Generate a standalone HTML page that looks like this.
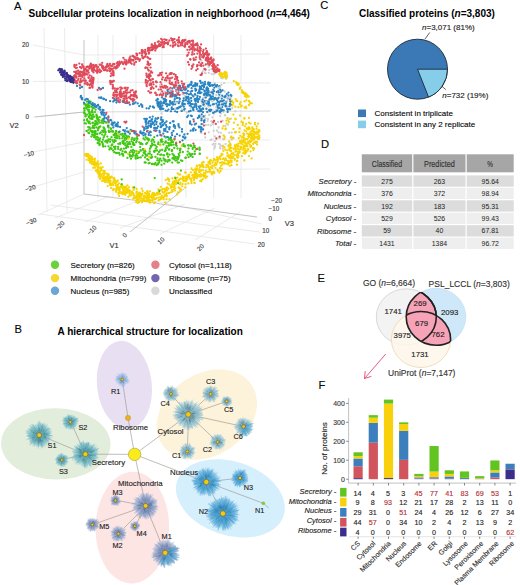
<!DOCTYPE html><html><head><meta charset="utf-8"><style>html,body{margin:0;padding:0;background:#fff;}svg{display:block;}text{font-family:"Liberation Sans",sans-serif;stroke:#222;stroke-width:0.22px;stroke-opacity:0.6;}text[font-weight="bold"],.ns text{stroke-width:0;}</style></head><body>
<svg width="520" height="585" viewBox="0 0 520 585" font-family="'Liberation Sans', sans-serif">
<defs><radialGradient id="gS"><stop offset="0" stop-color="#4f939d"/><stop offset="0.55" stop-color="#80bcc5"/><stop offset="1" stop-color="#b9dfe4" stop-opacity="0.6"/></radialGradient><radialGradient id="gR"><stop offset="0" stop-color="#86a6d4"/><stop offset="0.55" stop-color="#a6c4e6"/><stop offset="1" stop-color="#cfe0f2" stop-opacity="0.6"/></radialGradient><radialGradient id="gC"><stop offset="0" stop-color="#6f9ea8"/><stop offset="0.55" stop-color="#9fc6d2"/><stop offset="1" stop-color="#c8e2ea" stop-opacity="0.6"/></radialGradient><radialGradient id="gN"><stop offset="0" stop-color="#3a8cc2"/><stop offset="0.55" stop-color="#64afd9"/><stop offset="1" stop-color="#a6d4ec" stop-opacity="0.6"/></radialGradient><radialGradient id="gM"><stop offset="0" stop-color="#7a89ad"/><stop offset="0.55" stop-color="#9dadcc"/><stop offset="1" stop-color="#c9d3e6" stop-opacity="0.6"/></radialGradient></defs>
<rect width="520" height="585" fill="#fff"/>
<text x="14.0" y="9.5" font-size="11.2">A</text>
<text x="28.5" y="16.5" font-size="10" font-weight="bold">Subcellular proteins localization in neighborhood (<tspan font-style="italic">n</tspan>=4,464)</text>
<g stroke="#e6e6e6" stroke-width="0.8" fill="none">
<line x1="44" y1="28" x2="47" y2="212"/>
<line x1="64.5" y1="28" x2="67" y2="212"/>
<line x1="33" y1="45" x2="84" y2="55"/>
<line x1="33" y1="81.5" x2="84" y2="81"/>
<line x1="33" y1="117" x2="84" y2="112"/>
<line x1="33" y1="152" x2="84" y2="142"/>
<line x1="33" y1="187" x2="84" y2="172"/>
<line x1="84" y1="55" x2="270" y2="54"/>
<line x1="84" y1="82" x2="270" y2="83"/>
<line x1="84" y1="140" x2="270" y2="140"/>
<line x1="84" y1="170" x2="270" y2="169"/>
<line x1="98" y1="35" x2="98" y2="198"/>
<line x1="113" y1="35" x2="113" y2="198"/>
<line x1="136" y1="35" x2="136" y2="198"/>
<line x1="162" y1="35" x2="162" y2="198"/>
<line x1="186" y1="35" x2="186" y2="198"/>
<line x1="213.7" y1="35" x2="213.7" y2="198"/>
<line x1="241" y1="35" x2="241" y2="198"/>
<line x1="38" y1="215" x2="84" y2="194"/>
<line x1="55" y1="218" x2="110" y2="196"/>
<line x1="85" y1="222" x2="140" y2="200"/>
<line x1="120" y1="228" x2="185" y2="204"/>
<line x1="160" y1="234" x2="215" y2="208"/>
<line x1="195" y1="240" x2="240" y2="212"/>
<line x1="40" y1="214" x2="255" y2="244"/>
<line x1="50" y1="205" x2="260" y2="232"/>
<line x1="150" y1="200" x2="262" y2="224"/>
</g>
<g stroke="#b5b5b5" stroke-width="0.8" fill="none">
<line x1="84" y1="40" x2="84" y2="194"/>
<line x1="35" y1="117" x2="84" y2="112"/>
<line x1="84" y1="112" x2="270" y2="111" stroke="#cfcfcf"/>
<line x1="84" y1="194" x2="157" y2="203"/>
<line x1="157" y1="203.5" x2="257" y2="217"/>
<line x1="130" y1="232" x2="184" y2="189"/>
</g>
<g font-size="6.3" fill="#444">
<text x="29" y="47.3" text-anchor="end">20</text>
<text x="29" y="83.8" text-anchor="end">10</text>
<text x="29" y="119.3" text-anchor="end">0</text>
<text x="34.5" y="154.8" text-anchor="end" transform="rotate(-14 34.5 154.8)">−10</text>
<text x="36" y="188.8" text-anchor="end" transform="rotate(-16 36 188.8)">−20</text>
<text x="37" y="221.5" text-anchor="end" transform="rotate(-22 37 221.5)">−30</text>
<text x="65" y="223.5" text-anchor="end" transform="rotate(-45 65 223.5)">−20</text>
<text x="97" y="228" text-anchor="end" transform="rotate(-45 97 228)">−10</text>
<text x="127.5" y="235.5" text-anchor="end" transform="rotate(-45 127.5 235.5)">0</text>
<text x="165" y="239.8" text-anchor="end" transform="rotate(-45 165 239.8)">10</text>
<text x="204.5" y="246.5" text-anchor="end" transform="rotate(-45 204.5 246.5)">20</text>
<text x="282" y="202.5" text-anchor="end">−20</text>
<text x="279.2" y="211" text-anchor="end">−10</text>
<text x="272" y="220.8" text-anchor="end">0</text>
<text x="269.3" y="233" text-anchor="end">10</text>
<text x="264.8" y="246.8" text-anchor="end">20</text>
</g>
<text x="9.5" y="128.0" font-size="7.5" fill="#333">V2</text>
<text x="109.5" y="247.5" font-size="7.5" fill="#333">V1</text>
<text x="284.8" y="225.5" font-size="7.5" fill="#333">V3</text>
<g fill="#cfcfcf">
<circle cx="211.3" cy="97.7" r="1.15"/><circle cx="219.4" cy="111.4" r="1.15"/><circle cx="201.2" cy="120.5" r="1.15"/><circle cx="200.4" cy="115.8" r="1.15"/><circle cx="215.1" cy="140.9" r="1.15"/><circle cx="203.7" cy="102.3" r="1.15"/><circle cx="222.8" cy="148.7" r="1.15"/><circle cx="220.9" cy="113.4" r="1.15"/><circle cx="204.5" cy="95.5" r="1.15"/><circle cx="210.7" cy="140.2" r="1.15"/><circle cx="205.9" cy="125.2" r="1.15"/><circle cx="223.3" cy="111.8" r="1.15"/><circle cx="219.8" cy="92.0" r="1.15"/><circle cx="201.3" cy="101.2" r="1.15"/><circle cx="224.9" cy="115.4" r="1.15"/><circle cx="210.9" cy="125.5" r="1.15"/><circle cx="216.2" cy="107.2" r="1.15"/><circle cx="229.2" cy="132.7" r="1.15"/><circle cx="208.3" cy="124.8" r="1.15"/><circle cx="219.0" cy="144.0" r="1.15"/><circle cx="226.7" cy="106.4" r="1.15"/><circle cx="214.9" cy="136.5" r="1.15"/><circle cx="204.8" cy="119.3" r="1.15"/><circle cx="200.5" cy="130.8" r="1.15"/><circle cx="228.1" cy="124.7" r="1.15"/><circle cx="232.3" cy="108.1" r="1.15"/><circle cx="225.4" cy="126.0" r="1.15"/><circle cx="217.0" cy="130.5" r="1.15"/><circle cx="201.3" cy="132.9" r="1.15"/><circle cx="230.2" cy="106.2" r="1.15"/><circle cx="213.7" cy="130.8" r="1.15"/><circle cx="199.9" cy="117.5" r="1.15"/><circle cx="205.4" cy="95.5" r="1.15"/><circle cx="203.9" cy="103.8" r="1.15"/><circle cx="213.9" cy="143.8" r="1.15"/><circle cx="202.1" cy="116.7" r="1.15"/><circle cx="219.9" cy="144.5" r="1.15"/><circle cx="230.1" cy="143.3" r="1.15"/><circle cx="209.6" cy="114.6" r="1.15"/><circle cx="212.6" cy="144.6" r="1.15"/><circle cx="205.7" cy="102.8" r="1.15"/><circle cx="207.9" cy="119.0" r="1.15"/><circle cx="221.4" cy="104.8" r="1.15"/><circle cx="213.0" cy="124.2" r="1.15"/><circle cx="235.2" cy="132.2" r="1.15"/><circle cx="218.6" cy="127.5" r="1.15"/><circle cx="224.7" cy="91.5" r="1.15"/><circle cx="233.2" cy="137.9" r="1.15"/><circle cx="232.2" cy="139.1" r="1.15"/><circle cx="213.9" cy="113.5" r="1.15"/><circle cx="202.9" cy="128.6" r="1.15"/><circle cx="211.9" cy="91.4" r="1.15"/><circle cx="208.6" cy="110.2" r="1.15"/><circle cx="212.8" cy="95.9" r="1.15"/><circle cx="230.5" cy="98.3" r="1.15"/><circle cx="219.1" cy="97.4" r="1.15"/><circle cx="219.6" cy="89.7" r="1.15"/><circle cx="231.8" cy="132.6" r="1.15"/><circle cx="208.9" cy="111.5" r="1.15"/><circle cx="205.3" cy="137.4" r="1.15"/><circle cx="219.2" cy="137.9" r="1.15"/><circle cx="231.4" cy="139.6" r="1.15"/><circle cx="207.6" cy="121.1" r="1.15"/><circle cx="200.1" cy="105.9" r="1.15"/><circle cx="208.8" cy="132.3" r="1.15"/><circle cx="235.3" cy="111.3" r="1.15"/><circle cx="207.4" cy="102.5" r="1.15"/><circle cx="206.5" cy="101.1" r="1.15"/><circle cx="222.7" cy="145.6" r="1.15"/><circle cx="230.9" cy="118.7" r="1.15"/><circle cx="223.8" cy="139.2" r="1.15"/><circle cx="202.2" cy="130.3" r="1.15"/><circle cx="233.6" cy="138.1" r="1.15"/><circle cx="227.5" cy="118.6" r="1.15"/><circle cx="211.6" cy="139.3" r="1.15"/><circle cx="214.3" cy="148.6" r="1.15"/><circle cx="203.8" cy="97.7" r="1.15"/><circle cx="212.3" cy="123.1" r="1.15"/><circle cx="215.5" cy="143.8" r="1.15"/><circle cx="230.4" cy="101.5" r="1.15"/><circle cx="208.6" cy="106.7" r="1.15"/><circle cx="208.9" cy="114.8" r="1.15"/><circle cx="212.4" cy="117.3" r="1.15"/><circle cx="221.2" cy="145.9" r="1.15"/><circle cx="215.0" cy="146.7" r="1.15"/><circle cx="218.1" cy="122.0" r="1.15"/><circle cx="218.9" cy="89.2" r="1.15"/><circle cx="205.5" cy="118.3" r="1.15"/><circle cx="211.4" cy="121.2" r="1.15"/><circle cx="220.1" cy="138.2" r="1.15"/><circle cx="203.0" cy="123.9" r="1.15"/><circle cx="208.4" cy="105.7" r="1.15"/><circle cx="228.3" cy="120.5" r="1.15"/><circle cx="218.5" cy="132.3" r="1.15"/><circle cx="225.6" cy="144.1" r="1.15"/><circle cx="220.3" cy="148.4" r="1.15"/><circle cx="230.9" cy="96.8" r="1.15"/><circle cx="203.6" cy="116.3" r="1.15"/><circle cx="201.8" cy="103.4" r="1.15"/><circle cx="201.8" cy="130.8" r="1.15"/><circle cx="228.8" cy="145.4" r="1.15"/><circle cx="204.9" cy="133.8" r="1.15"/><circle cx="224.1" cy="97.2" r="1.15"/><circle cx="205.1" cy="115.6" r="1.15"/><circle cx="218.6" cy="109.7" r="1.15"/><circle cx="206.4" cy="108.4" r="1.15"/><circle cx="220.1" cy="116.2" r="1.15"/><circle cx="222.7" cy="120.8" r="1.15"/><circle cx="209.3" cy="96.3" r="1.15"/><circle cx="215.0" cy="146.3" r="1.15"/><circle cx="230.1" cy="104.6" r="1.15"/><circle cx="220.7" cy="132.8" r="1.15"/><circle cx="225.2" cy="115.2" r="1.15"/><circle cx="223.1" cy="139.3" r="1.15"/><circle cx="216.2" cy="109.7" r="1.15"/><circle cx="220.0" cy="147.3" r="1.15"/><circle cx="219.0" cy="103.3" r="1.15"/><circle cx="203.2" cy="98.3" r="1.15"/><circle cx="227.9" cy="106.6" r="1.15"/><circle cx="218.0" cy="99.4" r="1.15"/><circle cx="222.0" cy="75.4" r="1.15"/><circle cx="205.7" cy="73.3" r="1.15"/><circle cx="224.6" cy="72.1" r="1.15"/><circle cx="214.9" cy="83.4" r="1.15"/><circle cx="211.8" cy="74.2" r="1.15"/><circle cx="210.3" cy="83.3" r="1.15"/><circle cx="221.2" cy="77.8" r="1.15"/><circle cx="201.6" cy="63.6" r="1.15"/><circle cx="207.7" cy="64.6" r="1.15"/><circle cx="226.1" cy="78.8" r="1.15"/><circle cx="208.5" cy="66.8" r="1.15"/><circle cx="208.8" cy="72.9" r="1.15"/><circle cx="204.7" cy="72.5" r="1.15"/><circle cx="209.3" cy="70.0" r="1.15"/><circle cx="214.2" cy="74.1" r="1.15"/><circle cx="202.7" cy="71.2" r="1.15"/><circle cx="201.3" cy="60.6" r="1.15"/><circle cx="209.1" cy="66.5" r="1.15"/><circle cx="222.5" cy="78.4" r="1.15"/><circle cx="221.5" cy="84.6" r="1.15"/><circle cx="211.7" cy="69.1" r="1.15"/><circle cx="221.7" cy="78.0" r="1.15"/><circle cx="226.8" cy="77.6" r="1.15"/><circle cx="224.1" cy="83.1" r="1.15"/>
</g>
<g fill="#f7d300">
<circle cx="88.8" cy="160.3" r="1.15"/><circle cx="152.3" cy="200.8" r="1.15"/><circle cx="250.5" cy="132.0" r="1.15"/><circle cx="166.7" cy="196.3" r="1.15"/><circle cx="199.7" cy="175.3" r="1.15"/><circle cx="122.8" cy="186.3" r="1.15"/><circle cx="136.6" cy="188.9" r="1.15"/><circle cx="205.2" cy="176.9" r="1.15"/><circle cx="140.5" cy="196.1" r="1.15"/><circle cx="169.2" cy="181.1" r="1.15"/><circle cx="171.9" cy="190.2" r="1.15"/><circle cx="205.6" cy="178.1" r="1.15"/><circle cx="245.5" cy="150.4" r="1.15"/><circle cx="110.5" cy="185.0" r="1.15"/><circle cx="129.7" cy="192.2" r="1.15"/><circle cx="247.2" cy="133.6" r="1.15"/><circle cx="92.8" cy="162.5" r="1.15"/><circle cx="219.5" cy="157.9" r="1.15"/><circle cx="243.1" cy="141.2" r="1.15"/><circle cx="253.7" cy="138.2" r="1.15"/><circle cx="243.5" cy="135.8" r="1.15"/><circle cx="255.5" cy="137.3" r="1.15"/><circle cx="245.8" cy="139.2" r="1.15"/><circle cx="232.3" cy="157.6" r="1.15"/><circle cx="123.9" cy="187.9" r="1.15"/><circle cx="251.6" cy="158.4" r="1.15"/><circle cx="98.4" cy="169.9" r="1.15"/><circle cx="199.9" cy="167.1" r="1.15"/><circle cx="173.9" cy="187.1" r="1.15"/><circle cx="246.8" cy="128.3" r="1.15"/><circle cx="94.3" cy="159.2" r="1.15"/><circle cx="254.4" cy="134.6" r="1.15"/><circle cx="125.0" cy="192.4" r="1.15"/><circle cx="190.9" cy="180.0" r="1.15"/><circle cx="123.4" cy="192.0" r="1.15"/><circle cx="228.0" cy="160.9" r="1.15"/><circle cx="155.0" cy="198.8" r="1.15"/><circle cx="136.0" cy="196.6" r="1.15"/><circle cx="147.2" cy="191.2" r="1.15"/><circle cx="87.5" cy="154.1" r="1.15"/><circle cx="164.9" cy="191.3" r="1.15"/><circle cx="201.3" cy="180.2" r="1.15"/><circle cx="98.1" cy="172.8" r="1.15"/><circle cx="255.4" cy="142.8" r="1.15"/><circle cx="221.0" cy="155.9" r="1.15"/><circle cx="231.1" cy="150.9" r="1.15"/><circle cx="103.6" cy="172.0" r="1.15"/><circle cx="91.4" cy="161.1" r="1.15"/><circle cx="189.4" cy="176.8" r="1.15"/><circle cx="157.3" cy="194.7" r="1.15"/><circle cx="88.5" cy="158.3" r="1.15"/><circle cx="103.9" cy="175.3" r="1.15"/><circle cx="167.9" cy="178.3" r="1.15"/><circle cx="248.8" cy="137.5" r="1.15"/><circle cx="111.3" cy="185.1" r="1.15"/><circle cx="242.6" cy="142.7" r="1.15"/><circle cx="217.9" cy="158.9" r="1.15"/><circle cx="224.4" cy="147.4" r="1.15"/><circle cx="173.0" cy="187.0" r="1.15"/><circle cx="105.8" cy="181.8" r="1.15"/><circle cx="99.2" cy="174.0" r="1.15"/><circle cx="238.1" cy="148.8" r="1.15"/><circle cx="197.0" cy="176.5" r="1.15"/><circle cx="91.9" cy="158.0" r="1.15"/><circle cx="178.1" cy="192.3" r="1.15"/><circle cx="88.1" cy="154.1" r="1.15"/><circle cx="118.6" cy="187.3" r="1.15"/><circle cx="102.6" cy="178.2" r="1.15"/><circle cx="96.2" cy="170.9" r="1.15"/><circle cx="86.8" cy="156.2" r="1.15"/><circle cx="199.1" cy="175.2" r="1.15"/><circle cx="90.1" cy="162.8" r="1.15"/><circle cx="113.4" cy="185.1" r="1.15"/><circle cx="227.3" cy="153.2" r="1.15"/><circle cx="228.0" cy="164.3" r="1.15"/><circle cx="216.3" cy="163.3" r="1.15"/><circle cx="121.0" cy="187.1" r="1.15"/><circle cx="209.2" cy="171.6" r="1.15"/><circle cx="224.9" cy="160.0" r="1.15"/><circle cx="248.8" cy="134.0" r="1.15"/><circle cx="220.7" cy="170.8" r="1.15"/><circle cx="241.4" cy="147.4" r="1.15"/><circle cx="202.6" cy="174.8" r="1.15"/><circle cx="209.3" cy="169.1" r="1.15"/><circle cx="117.5" cy="187.3" r="1.15"/><circle cx="107.3" cy="176.3" r="1.15"/><circle cx="91.6" cy="156.7" r="1.15"/><circle cx="236.9" cy="164.7" r="1.15"/><circle cx="252.8" cy="148.1" r="1.15"/><circle cx="237.8" cy="156.8" r="1.15"/><circle cx="194.9" cy="172.4" r="1.15"/><circle cx="137.8" cy="194.6" r="1.15"/><circle cx="129.6" cy="195.2" r="1.15"/><circle cx="237.8" cy="153.9" r="1.15"/><circle cx="161.9" cy="195.8" r="1.15"/><circle cx="235.5" cy="145.7" r="1.15"/><circle cx="143.4" cy="199.9" r="1.15"/><circle cx="210.0" cy="170.0" r="1.15"/><circle cx="94.9" cy="167.8" r="1.15"/><circle cx="154.0" cy="195.9" r="1.15"/><circle cx="178.7" cy="187.5" r="1.15"/><circle cx="104.6" cy="180.7" r="1.15"/><circle cx="109.0" cy="181.1" r="1.15"/><circle cx="241.2" cy="147.9" r="1.15"/><circle cx="212.0" cy="172.6" r="1.15"/><circle cx="174.2" cy="183.7" r="1.15"/><circle cx="259.2" cy="135.4" r="1.15"/><circle cx="256.8" cy="131.9" r="1.15"/><circle cx="197.3" cy="174.5" r="1.15"/><circle cx="245.7" cy="145.6" r="1.15"/><circle cx="235.9" cy="151.2" r="1.15"/><circle cx="135.1" cy="198.1" r="1.15"/><circle cx="191.5" cy="168.5" r="1.15"/><circle cx="190.9" cy="172.3" r="1.15"/><circle cx="222.6" cy="162.3" r="1.15"/><circle cx="91.5" cy="161.5" r="1.15"/><circle cx="175.3" cy="188.3" r="1.15"/><circle cx="113.7" cy="189.1" r="1.15"/><circle cx="144.9" cy="196.5" r="1.15"/><circle cx="116.5" cy="188.8" r="1.15"/><circle cx="100.6" cy="176.7" r="1.15"/><circle cx="116.2" cy="191.8" r="1.15"/><circle cx="232.2" cy="158.3" r="1.15"/><circle cx="148.7" cy="195.9" r="1.15"/><circle cx="129.7" cy="192.1" r="1.15"/><circle cx="158.8" cy="197.3" r="1.15"/><circle cx="93.8" cy="163.5" r="1.15"/><circle cx="103.4" cy="180.1" r="1.15"/><circle cx="199.4" cy="169.5" r="1.15"/><circle cx="119.9" cy="191.3" r="1.15"/><circle cx="204.2" cy="176.7" r="1.15"/><circle cx="180.1" cy="191.1" r="1.15"/><circle cx="180.4" cy="178.8" r="1.15"/><circle cx="203.8" cy="176.1" r="1.15"/><circle cx="244.3" cy="134.5" r="1.15"/><circle cx="207.2" cy="176.6" r="1.15"/><circle cx="173.9" cy="187.0" r="1.15"/><circle cx="140.1" cy="198.6" r="1.15"/><circle cx="179.6" cy="188.4" r="1.15"/><circle cx="231.6" cy="153.5" r="1.15"/><circle cx="167.5" cy="179.3" r="1.15"/><circle cx="139.7" cy="193.6" r="1.15"/><circle cx="200.2" cy="180.9" r="1.15"/><circle cx="94.8" cy="161.1" r="1.15"/><circle cx="245.8" cy="143.3" r="1.15"/><circle cx="192.8" cy="175.0" r="1.15"/><circle cx="114.2" cy="177.9" r="1.15"/><circle cx="199.4" cy="171.5" r="1.15"/><circle cx="133.5" cy="194.4" r="1.15"/><circle cx="201.5" cy="181.3" r="1.15"/><circle cx="230.5" cy="158.1" r="1.15"/><circle cx="89.4" cy="155.6" r="1.15"/><circle cx="154.1" cy="193.3" r="1.15"/><circle cx="107.9" cy="178.2" r="1.15"/><circle cx="210.4" cy="163.9" r="1.15"/><circle cx="214.0" cy="172.0" r="1.15"/><circle cx="194.5" cy="172.4" r="1.15"/><circle cx="212.5" cy="165.8" r="1.15"/><circle cx="227.3" cy="150.4" r="1.15"/><circle cx="168.0" cy="188.7" r="1.15"/><circle cx="163.4" cy="197.7" r="1.15"/><circle cx="195.3" cy="176.3" r="1.15"/><circle cx="251.3" cy="141.3" r="1.15"/><circle cx="211.9" cy="174.4" r="1.15"/><circle cx="254.4" cy="132.1" r="1.15"/><circle cx="228.0" cy="155.7" r="1.15"/><circle cx="231.2" cy="160.8" r="1.15"/><circle cx="185.3" cy="187.5" r="1.15"/><circle cx="191.7" cy="178.4" r="1.15"/><circle cx="122.5" cy="194.0" r="1.15"/><circle cx="220.5" cy="159.2" r="1.15"/><circle cx="240.4" cy="146.9" r="1.15"/><circle cx="154.2" cy="199.0" r="1.15"/><circle cx="99.4" cy="171.9" r="1.15"/><circle cx="188.1" cy="177.0" r="1.15"/><circle cx="239.6" cy="152.3" r="1.15"/><circle cx="224.8" cy="163.7" r="1.15"/><circle cx="127.4" cy="185.4" r="1.15"/><circle cx="100.7" cy="163.5" r="1.15"/><circle cx="241.7" cy="142.3" r="1.15"/><circle cx="99.9" cy="175.0" r="1.15"/><circle cx="200.4" cy="165.8" r="1.15"/><circle cx="257.3" cy="136.6" r="1.15"/><circle cx="250.6" cy="151.3" r="1.15"/><circle cx="222.9" cy="159.1" r="1.15"/><circle cx="222.0" cy="168.6" r="1.15"/><circle cx="191.5" cy="183.1" r="1.15"/><circle cx="201.4" cy="165.4" r="1.15"/><circle cx="116.6" cy="189.5" r="1.15"/><circle cx="104.4" cy="178.7" r="1.15"/><circle cx="161.8" cy="189.8" r="1.15"/><circle cx="193.0" cy="170.1" r="1.15"/><circle cx="104.8" cy="179.0" r="1.15"/><circle cx="107.7" cy="178.4" r="1.15"/><circle cx="136.1" cy="202.0" r="1.15"/><circle cx="91.9" cy="164.1" r="1.15"/><circle cx="259.2" cy="130.2" r="1.15"/><circle cx="212.4" cy="162.5" r="1.15"/><circle cx="227.5" cy="156.0" r="1.15"/><circle cx="113.7" cy="181.3" r="1.15"/><circle cx="183.9" cy="177.1" r="1.15"/><circle cx="98.7" cy="164.7" r="1.15"/><circle cx="117.9" cy="180.6" r="1.15"/><circle cx="210.0" cy="161.8" r="1.15"/><circle cx="165.8" cy="180.1" r="1.15"/><circle cx="148.2" cy="199.5" r="1.15"/><circle cx="163.9" cy="196.7" r="1.15"/><circle cx="136.6" cy="196.1" r="1.15"/><circle cx="175.0" cy="177.7" r="1.15"/><circle cx="207.7" cy="164.8" r="1.15"/><circle cx="185.4" cy="180.4" r="1.15"/><circle cx="94.2" cy="159.6" r="1.15"/><circle cx="106.6" cy="176.8" r="1.15"/><circle cx="234.7" cy="159.8" r="1.15"/><circle cx="152.7" cy="199.9" r="1.15"/><circle cx="256.7" cy="137.6" r="1.15"/><circle cx="172.4" cy="178.3" r="1.15"/><circle cx="89.4" cy="157.9" r="1.15"/><circle cx="231.5" cy="161.0" r="1.15"/><circle cx="195.6" cy="168.3" r="1.15"/><circle cx="248.3" cy="136.4" r="1.15"/><circle cx="252.9" cy="138.1" r="1.15"/><circle cx="175.9" cy="180.6" r="1.15"/><circle cx="131.6" cy="193.6" r="1.15"/><circle cx="233.3" cy="152.9" r="1.15"/><circle cx="136.4" cy="193.1" r="1.15"/><circle cx="88.5" cy="155.5" r="1.15"/><circle cx="182.9" cy="180.0" r="1.15"/><circle cx="109.1" cy="178.0" r="1.15"/><circle cx="96.5" cy="163.3" r="1.15"/><circle cx="255.1" cy="137.7" r="1.15"/><circle cx="216.5" cy="164.6" r="1.15"/><circle cx="226.7" cy="163.6" r="1.15"/><circle cx="220.1" cy="162.9" r="1.15"/><circle cx="183.6" cy="179.7" r="1.15"/><circle cx="162.6" cy="191.9" r="1.15"/><circle cx="151.9" cy="197.8" r="1.15"/><circle cx="169.4" cy="184.5" r="1.15"/><circle cx="237.6" cy="157.0" r="1.15"/><circle cx="160.5" cy="199.4" r="1.15"/><circle cx="174.1" cy="185.1" r="1.15"/><circle cx="141.9" cy="202.3" r="1.15"/><circle cx="101.2" cy="168.1" r="1.15"/><circle cx="249.0" cy="134.8" r="1.15"/><circle cx="249.2" cy="127.6" r="1.15"/><circle cx="256.9" cy="133.8" r="1.15"/><circle cx="246.3" cy="151.8" r="1.15"/><circle cx="114.2" cy="179.3" r="1.15"/><circle cx="195.6" cy="173.8" r="1.15"/><circle cx="133.3" cy="198.4" r="1.15"/><circle cx="199.3" cy="165.1" r="1.15"/><circle cx="127.5" cy="188.6" r="1.15"/><circle cx="104.5" cy="172.0" r="1.15"/><circle cx="102.6" cy="167.2" r="1.15"/><circle cx="97.8" cy="161.4" r="1.15"/><circle cx="211.6" cy="166.7" r="1.15"/><circle cx="186.6" cy="180.2" r="1.15"/><circle cx="92.7" cy="162.3" r="1.15"/><circle cx="125.7" cy="187.4" r="1.15"/><circle cx="134.1" cy="198.4" r="1.15"/><circle cx="172.6" cy="191.5" r="1.15"/><circle cx="210.9" cy="160.3" r="1.15"/><circle cx="123.0" cy="188.2" r="1.15"/><circle cx="153.3" cy="194.9" r="1.15"/><circle cx="144.2" cy="195.7" r="1.15"/><circle cx="150.1" cy="202.7" r="1.15"/><circle cx="161.3" cy="189.8" r="1.15"/><circle cx="244.9" cy="146.3" r="1.15"/><circle cx="236.3" cy="144.7" r="1.15"/><circle cx="127.4" cy="192.7" r="1.15"/><circle cx="152.0" cy="194.8" r="1.15"/><circle cx="137.1" cy="198.7" r="1.15"/><circle cx="102.4" cy="176.8" r="1.15"/><circle cx="244.5" cy="151.6" r="1.15"/><circle cx="89.5" cy="158.3" r="1.15"/><circle cx="208.2" cy="166.2" r="1.15"/><circle cx="195.9" cy="173.8" r="1.15"/><circle cx="95.1" cy="158.6" r="1.15"/><circle cx="133.7" cy="194.9" r="1.15"/><circle cx="161.1" cy="197.4" r="1.15"/><circle cx="132.8" cy="187.5" r="1.15"/><circle cx="93.4" cy="162.0" r="1.15"/><circle cx="217.5" cy="162.1" r="1.15"/><circle cx="220.0" cy="168.3" r="1.15"/><circle cx="249.6" cy="141.2" r="1.15"/><circle cx="196.8" cy="176.3" r="1.15"/><circle cx="211.7" cy="172.1" r="1.15"/><circle cx="154.9" cy="194.2" r="1.15"/><circle cx="122.3" cy="185.9" r="1.15"/><circle cx="247.3" cy="139.2" r="1.15"/><circle cx="137.9" cy="200.7" r="1.15"/><circle cx="103.9" cy="171.1" r="1.15"/><circle cx="95.8" cy="163.2" r="1.15"/><circle cx="137.6" cy="196.6" r="1.15"/><circle cx="255.2" cy="133.0" r="1.15"/><circle cx="158.8" cy="193.0" r="1.15"/><circle cx="196.9" cy="178.1" r="1.15"/><circle cx="123.1" cy="189.9" r="1.15"/><circle cx="230.7" cy="155.0" r="1.15"/><circle cx="147.3" cy="200.2" r="1.15"/><circle cx="233.0" cy="156.8" r="1.15"/><circle cx="202.9" cy="165.4" r="1.15"/><circle cx="237.5" cy="157.8" r="1.15"/><circle cx="129.6" cy="193.2" r="1.15"/><circle cx="205.2" cy="176.5" r="1.15"/><circle cx="132.5" cy="192.9" r="1.15"/><circle cx="138.9" cy="196.3" r="1.15"/><circle cx="244.3" cy="160.5" r="1.15"/><circle cx="249.3" cy="136.0" r="1.15"/><circle cx="90.0" cy="157.8" r="1.15"/><circle cx="97.9" cy="167.5" r="1.15"/><circle cx="183.8" cy="181.2" r="1.15"/><circle cx="175.3" cy="182.6" r="1.15"/><circle cx="152.3" cy="194.2" r="1.15"/><circle cx="182.2" cy="186.3" r="1.15"/><circle cx="97.5" cy="172.5" r="1.15"/><circle cx="251.9" cy="136.3" r="1.15"/><circle cx="122.4" cy="188.1" r="1.15"/><circle cx="117.4" cy="185.6" r="1.15"/><circle cx="240.8" cy="148.9" r="1.15"/><circle cx="109.8" cy="180.7" r="1.15"/><circle cx="104.5" cy="171.1" r="1.15"/><circle cx="98.8" cy="173.8" r="1.15"/><circle cx="112.6" cy="184.4" r="1.15"/><circle cx="99.1" cy="174.5" r="1.15"/><circle cx="130.9" cy="195.5" r="1.15"/><circle cx="142.7" cy="191.1" r="1.15"/><circle cx="110.2" cy="183.6" r="1.15"/><circle cx="165.6" cy="189.0" r="1.15"/><circle cx="98.1" cy="166.6" r="1.15"/><circle cx="185.7" cy="172.7" r="1.15"/><circle cx="151.8" cy="197.1" r="1.15"/><circle cx="141.9" cy="188.7" r="1.15"/><circle cx="126.7" cy="189.5" r="1.15"/><circle cx="185.5" cy="184.2" r="1.15"/><circle cx="196.7" cy="174.9" r="1.15"/><circle cx="215.2" cy="162.6" r="1.15"/><circle cx="168.3" cy="188.8" r="1.15"/><circle cx="183.2" cy="178.2" r="1.15"/><circle cx="215.5" cy="167.8" r="1.15"/><circle cx="143.4" cy="198.5" r="1.15"/><circle cx="94.4" cy="165.6" r="1.15"/><circle cx="109.7" cy="178.6" r="1.15"/><circle cx="217.4" cy="169.6" r="1.15"/><circle cx="244.9" cy="153.5" r="1.15"/><circle cx="137.6" cy="197.5" r="1.15"/><circle cx="95.7" cy="163.0" r="1.15"/><circle cx="139.8" cy="195.7" r="1.15"/><circle cx="248.7" cy="142.7" r="1.15"/><circle cx="194.1" cy="178.5" r="1.15"/><circle cx="219.4" cy="156.8" r="1.15"/><circle cx="177.4" cy="181.6" r="1.15"/><circle cx="214.1" cy="159.0" r="1.15"/><circle cx="168.3" cy="193.2" r="1.15"/><circle cx="217.0" cy="157.3" r="1.15"/><circle cx="94.6" cy="164.1" r="1.15"/><circle cx="108.1" cy="174.5" r="1.15"/><circle cx="110.2" cy="177.9" r="1.15"/><circle cx="154.7" cy="202.4" r="1.15"/><circle cx="125.5" cy="192.6" r="1.15"/><circle cx="221.6" cy="162.4" r="1.15"/><circle cx="105.1" cy="182.0" r="1.15"/><circle cx="220.9" cy="165.8" r="1.15"/><circle cx="106.8" cy="180.6" r="1.15"/><circle cx="105.7" cy="180.0" r="1.15"/><circle cx="203.4" cy="162.3" r="1.15"/><circle cx="244.5" cy="130.4" r="1.15"/><circle cx="203.5" cy="162.0" r="1.15"/><circle cx="86.6" cy="159.8" r="1.15"/><circle cx="101.7" cy="174.9" r="1.15"/><circle cx="103.6" cy="180.6" r="1.15"/><circle cx="143.3" cy="199.1" r="1.15"/><circle cx="249.0" cy="156.1" r="1.15"/><circle cx="127.2" cy="189.6" r="1.15"/><circle cx="146.0" cy="193.8" r="1.15"/><circle cx="177.1" cy="182.3" r="1.15"/><circle cx="152.0" cy="195.5" r="1.15"/><circle cx="151.0" cy="196.3" r="1.15"/><circle cx="194.4" cy="182.8" r="1.15"/><circle cx="149.0" cy="196.5" r="1.15"/><circle cx="238.8" cy="138.2" r="1.15"/><circle cx="199.3" cy="172.2" r="1.15"/><circle cx="235.5" cy="151.7" r="1.15"/><circle cx="119.5" cy="189.7" r="1.15"/><circle cx="176.0" cy="184.1" r="1.15"/><circle cx="165.7" cy="195.7" r="1.15"/><circle cx="149.7" cy="200.4" r="1.15"/><circle cx="108.0" cy="178.2" r="1.15"/><circle cx="158.5" cy="189.4" r="1.15"/><circle cx="203.4" cy="167.1" r="1.15"/><circle cx="147.5" cy="196.6" r="1.15"/><circle cx="94.4" cy="162.7" r="1.15"/><circle cx="137.9" cy="193.6" r="1.15"/><circle cx="116.6" cy="182.2" r="1.15"/><circle cx="147.8" cy="192.4" r="1.15"/><circle cx="150.3" cy="200.5" r="1.15"/><circle cx="217.1" cy="159.5" r="1.15"/><circle cx="89.5" cy="158.1" r="1.15"/><circle cx="231.5" cy="147.8" r="1.15"/><circle cx="153.2" cy="193.2" r="1.15"/><circle cx="101.0" cy="170.1" r="1.15"/><circle cx="212.1" cy="168.2" r="1.15"/><circle cx="158.6" cy="200.3" r="1.15"/><circle cx="172.5" cy="184.2" r="1.15"/><circle cx="242.0" cy="156.2" r="1.15"/><circle cx="185.9" cy="178.4" r="1.15"/><circle cx="183.0" cy="177.9" r="1.15"/><circle cx="229.2" cy="162.9" r="1.15"/><circle cx="234.9" cy="145.3" r="1.15"/><circle cx="248.1" cy="143.2" r="1.15"/><circle cx="133.6" cy="190.0" r="1.15"/><circle cx="244.4" cy="142.3" r="1.15"/><circle cx="180.8" cy="178.7" r="1.15"/><circle cx="150.1" cy="200.1" r="1.15"/><circle cx="214.2" cy="165.6" r="1.15"/><circle cx="131.8" cy="191.6" r="1.15"/><circle cx="240.3" cy="135.8" r="1.15"/><circle cx="100.2" cy="168.0" r="1.15"/><circle cx="233.7" cy="149.1" r="1.15"/><circle cx="141.5" cy="198.7" r="1.15"/><circle cx="140.7" cy="196.8" r="1.15"/><circle cx="132.9" cy="193.2" r="1.15"/><circle cx="98.4" cy="171.5" r="1.15"/><circle cx="143.7" cy="196.7" r="1.15"/><circle cx="138.6" cy="202.3" r="1.15"/><circle cx="107.8" cy="175.3" r="1.15"/><circle cx="102.1" cy="174.1" r="1.15"/><circle cx="118.6" cy="192.6" r="1.15"/><circle cx="88.1" cy="156.0" r="1.15"/><circle cx="119.2" cy="189.7" r="1.15"/><circle cx="209.0" cy="161.9" r="1.15"/><circle cx="194.8" cy="177.3" r="1.15"/><circle cx="229.1" cy="157.5" r="1.15"/><circle cx="202.9" cy="165.4" r="1.15"/><circle cx="139.2" cy="201.8" r="1.15"/><circle cx="115.6" cy="183.1" r="1.15"/><circle cx="97.7" cy="170.9" r="1.15"/><circle cx="248.2" cy="149.0" r="1.15"/><circle cx="252.5" cy="137.2" r="1.15"/><circle cx="122.8" cy="193.1" r="1.15"/><circle cx="160.8" cy="186.8" r="1.15"/><circle cx="152.1" cy="197.5" r="1.15"/><circle cx="141.8" cy="194.6" r="1.15"/><circle cx="87.0" cy="155.0" r="1.15"/><circle cx="189.2" cy="174.6" r="1.15"/><circle cx="143.1" cy="200.1" r="1.15"/><circle cx="208.5" cy="167.2" r="1.15"/><circle cx="99.3" cy="176.4" r="1.15"/><circle cx="251.2" cy="137.6" r="1.15"/><circle cx="193.9" cy="180.0" r="1.15"/><circle cx="249.8" cy="128.8" r="1.15"/><circle cx="175.6" cy="180.2" r="1.15"/><circle cx="145.0" cy="197.5" r="1.15"/><circle cx="244.2" cy="146.3" r="1.15"/><circle cx="92.0" cy="163.3" r="1.15"/><circle cx="246.5" cy="150.8" r="1.15"/><circle cx="137.7" cy="196.7" r="1.15"/><circle cx="182.9" cy="176.7" r="1.15"/><circle cx="196.0" cy="170.1" r="1.15"/><circle cx="253.9" cy="131.9" r="1.15"/><circle cx="148.6" cy="201.5" r="1.15"/><circle cx="104.2" cy="177.3" r="1.15"/><circle cx="136.8" cy="191.6" r="1.15"/><circle cx="257.9" cy="136.8" r="1.15"/><circle cx="137.7" cy="195.6" r="1.15"/><circle cx="152.2" cy="198.5" r="1.15"/><circle cx="166.5" cy="199.2" r="1.15"/><circle cx="215.7" cy="160.1" r="1.15"/><circle cx="174.4" cy="181.2" r="1.15"/><circle cx="231.4" cy="156.8" r="1.15"/><circle cx="126.8" cy="191.6" r="1.15"/><circle cx="156.7" cy="198.0" r="1.15"/><circle cx="199.2" cy="176.6" r="1.15"/><circle cx="249.9" cy="140.6" r="1.15"/><circle cx="229.4" cy="156.8" r="1.15"/><circle cx="205.3" cy="175.5" r="1.15"/><circle cx="96.9" cy="163.1" r="1.15"/><circle cx="153.7" cy="198.1" r="1.15"/><circle cx="229.8" cy="165.8" r="1.15"/><circle cx="202.8" cy="179.1" r="1.15"/><circle cx="129.0" cy="187.3" r="1.15"/><circle cx="129.0" cy="190.1" r="1.15"/><circle cx="223.4" cy="150.9" r="1.15"/><circle cx="234.8" cy="155.2" r="1.15"/><circle cx="92.8" cy="163.6" r="1.15"/><circle cx="90.1" cy="161.5" r="1.15"/><circle cx="139.5" cy="197.3" r="1.15"/><circle cx="113.6" cy="189.4" r="1.15"/><circle cx="89.8" cy="158.9" r="1.15"/><circle cx="195.7" cy="174.5" r="1.15"/><circle cx="118.6" cy="190.2" r="1.15"/><circle cx="250.2" cy="135.0" r="1.15"/><circle cx="164.8" cy="194.6" r="1.15"/><circle cx="142.4" cy="193.7" r="1.15"/><circle cx="254.0" cy="139.6" r="1.15"/><circle cx="94.5" cy="164.4" r="1.15"/><circle cx="127.8" cy="190.0" r="1.15"/><circle cx="252.6" cy="128.6" r="1.15"/><circle cx="230.3" cy="161.0" r="1.15"/><circle cx="108.5" cy="178.3" r="1.15"/><circle cx="169.1" cy="192.8" r="1.15"/><circle cx="214.3" cy="173.1" r="1.15"/><circle cx="116.5" cy="187.2" r="1.15"/><circle cx="234.6" cy="158.7" r="1.15"/><circle cx="170.9" cy="192.3" r="1.15"/><circle cx="100.1" cy="171.6" r="1.15"/><circle cx="210.2" cy="160.5" r="1.15"/><circle cx="205.7" cy="172.9" r="1.15"/><circle cx="103.9" cy="178.3" r="1.15"/><circle cx="120.0" cy="193.1" r="1.15"/><circle cx="196.1" cy="173.3" r="1.15"/><circle cx="116.2" cy="190.2" r="1.15"/><circle cx="244.7" cy="141.8" r="1.15"/><circle cx="254.0" cy="134.8" r="1.15"/><circle cx="108.0" cy="182.3" r="1.15"/><circle cx="85.5" cy="154.1" r="1.15"/><circle cx="170.9" cy="186.6" r="1.15"/><circle cx="178.4" cy="180.7" r="1.15"/><circle cx="214.1" cy="159.3" r="1.15"/><circle cx="197.5" cy="169.3" r="1.15"/><circle cx="230.3" cy="144.2" r="1.15"/><circle cx="97.8" cy="164.2" r="1.15"/><circle cx="174.2" cy="182.3" r="1.15"/><circle cx="215.9" cy="164.4" r="1.15"/><circle cx="207.2" cy="157.8" r="1.15"/><circle cx="107.7" cy="186.1" r="1.15"/><circle cx="125.4" cy="189.4" r="1.15"/><circle cx="256.2" cy="132.3" r="1.15"/><circle cx="237.3" cy="160.8" r="1.15"/><circle cx="136.9" cy="199.6" r="1.15"/><circle cx="98.9" cy="172.8" r="1.15"/><circle cx="146.6" cy="198.4" r="1.15"/><circle cx="180.8" cy="189.4" r="1.15"/><circle cx="87.6" cy="154.7" r="1.15"/><circle cx="110.6" cy="180.8" r="1.15"/><circle cx="125.9" cy="187.0" r="1.15"/><circle cx="116.0" cy="185.2" r="1.15"/><circle cx="189.9" cy="178.6" r="1.15"/><circle cx="97.9" cy="163.6" r="1.15"/><circle cx="229.7" cy="150.1" r="1.15"/><circle cx="201.1" cy="165.3" r="1.15"/><circle cx="240.0" cy="141.2" r="1.15"/><circle cx="108.5" cy="174.4" r="1.15"/><circle cx="100.3" cy="179.0" r="1.15"/><circle cx="103.8" cy="177.9" r="1.15"/><circle cx="121.9" cy="192.9" r="1.15"/><circle cx="219.8" cy="158.4" r="1.15"/><circle cx="203.9" cy="175.1" r="1.15"/><circle cx="166.6" cy="195.2" r="1.15"/><circle cx="167.0" cy="187.5" r="1.15"/><circle cx="146.1" cy="197.7" r="1.15"/><circle cx="96.3" cy="165.9" r="1.15"/><circle cx="163.9" cy="192.3" r="1.15"/><circle cx="253.4" cy="131.4" r="1.15"/><circle cx="201.0" cy="174.6" r="1.15"/><circle cx="120.5" cy="187.0" r="1.15"/><circle cx="240.7" cy="142.6" r="1.15"/><circle cx="240.9" cy="142.0" r="1.15"/><circle cx="110.7" cy="184.7" r="1.15"/><circle cx="154.1" cy="203.3" r="1.15"/><circle cx="177.0" cy="194.4" r="1.15"/><circle cx="141.2" cy="200.6" r="1.15"/><circle cx="85.3" cy="155.5" r="1.15"/><circle cx="105.9" cy="177.5" r="1.15"/><circle cx="238.4" cy="143.6" r="1.15"/><circle cx="155.8" cy="198.9" r="1.15"/><circle cx="101.7" cy="170.2" r="1.15"/><circle cx="254.2" cy="135.9" r="1.15"/><circle cx="200.7" cy="174.5" r="1.15"/><circle cx="206.5" cy="165.2" r="1.15"/><circle cx="196.7" cy="165.7" r="1.15"/><circle cx="120.0" cy="187.8" r="1.15"/><circle cx="244.1" cy="145.6" r="1.15"/><circle cx="204.0" cy="175.6" r="1.15"/><circle cx="91.6" cy="159.4" r="1.15"/><circle cx="160.1" cy="193.9" r="1.15"/><circle cx="202.0" cy="162.9" r="1.15"/><circle cx="196.3" cy="169.5" r="1.15"/><circle cx="237.3" cy="155.0" r="1.15"/><circle cx="88.0" cy="156.4" r="1.15"/><circle cx="109.7" cy="182.5" r="1.15"/><circle cx="125.3" cy="194.8" r="1.15"/><circle cx="250.6" cy="134.3" r="1.15"/><circle cx="137.7" cy="194.6" r="1.15"/><circle cx="109.7" cy="177.0" r="1.15"/><circle cx="124.2" cy="193.4" r="1.15"/><circle cx="206.2" cy="167.4" r="1.15"/><circle cx="230.7" cy="161.3" r="1.15"/><circle cx="106.7" cy="173.6" r="1.15"/><circle cx="195.1" cy="169.8" r="1.15"/><circle cx="89.9" cy="160.0" r="1.15"/><circle cx="196.0" cy="172.5" r="1.15"/><circle cx="201.3" cy="170.5" r="1.15"/><circle cx="222.3" cy="164.7" r="1.15"/><circle cx="136.6" cy="196.8" r="1.15"/><circle cx="100.7" cy="167.7" r="1.15"/><circle cx="163.0" cy="188.8" r="1.15"/><circle cx="173.6" cy="183.7" r="1.15"/><circle cx="95.9" cy="165.0" r="1.15"/><circle cx="201.5" cy="166.4" r="1.15"/><circle cx="148.9" cy="194.4" r="1.15"/><circle cx="257.8" cy="133.8" r="1.15"/><circle cx="194.3" cy="176.1" r="1.15"/><circle cx="100.2" cy="168.0" r="1.15"/><circle cx="93.7" cy="161.9" r="1.15"/><circle cx="108.6" cy="180.2" r="1.15"/><circle cx="109.9" cy="182.5" r="1.15"/><circle cx="243.5" cy="147.3" r="1.15"/><circle cx="111.1" cy="187.9" r="1.15"/><circle cx="124.4" cy="191.6" r="1.15"/><circle cx="237.7" cy="151.6" r="1.15"/><circle cx="159.3" cy="199.6" r="1.15"/><circle cx="87.3" cy="156.0" r="1.15"/><circle cx="238.1" cy="157.2" r="1.15"/><circle cx="148.4" cy="196.3" r="1.15"/><circle cx="118.5" cy="193.9" r="1.15"/><circle cx="225.3" cy="149.7" r="1.15"/><circle cx="230.5" cy="147.6" r="1.15"/><circle cx="237.1" cy="156.1" r="1.15"/><circle cx="249.8" cy="142.0" r="1.15"/><circle cx="180.3" cy="184.4" r="1.15"/><circle cx="139.2" cy="192.6" r="1.15"/><circle cx="97.3" cy="163.5" r="1.15"/><circle cx="231.4" cy="165.2" r="1.15"/><circle cx="245.1" cy="148.7" r="1.15"/><circle cx="183.5" cy="178.5" r="1.15"/><circle cx="173.5" cy="182.1" r="1.15"/><circle cx="147.0" cy="195.6" r="1.15"/><circle cx="99.6" cy="177.5" r="1.15"/><circle cx="156.9" cy="192.9" r="1.15"/><circle cx="225.6" cy="158.5" r="1.15"/><circle cx="245.6" cy="153.2" r="1.15"/><circle cx="213.9" cy="172.5" r="1.15"/><circle cx="110.3" cy="184.8" r="1.15"/><circle cx="102.2" cy="181.2" r="1.15"/><circle cx="245.5" cy="143.4" r="1.15"/><circle cx="144.9" cy="200.4" r="1.15"/><circle cx="247.7" cy="150.7" r="1.15"/><circle cx="177.7" cy="173.5" r="1.15"/><circle cx="124.9" cy="190.9" r="1.15"/><circle cx="164.8" cy="189.1" r="1.15"/><circle cx="194.6" cy="182.9" r="1.15"/><circle cx="210.5" cy="167.3" r="1.15"/><circle cx="244.4" cy="140.6" r="1.15"/><circle cx="228.9" cy="161.9" r="1.15"/><circle cx="107.8" cy="179.5" r="1.15"/><circle cx="109.5" cy="178.4" r="1.15"/><circle cx="111.4" cy="176.6" r="1.15"/><circle cx="153.5" cy="195.4" r="1.15"/><circle cx="105.8" cy="179.7" r="1.15"/><circle cx="237.6" cy="154.6" r="1.15"/><circle cx="157.8" cy="192.6" r="1.15"/><circle cx="219.4" cy="172.4" r="1.15"/><circle cx="186.9" cy="178.8" r="1.15"/><circle cx="180.5" cy="182.6" r="1.15"/><circle cx="90.8" cy="157.3" r="1.15"/><circle cx="146.0" cy="201.2" r="1.15"/><circle cx="165.5" cy="188.6" r="1.15"/><circle cx="222.5" cy="154.5" r="1.15"/><circle cx="217.9" cy="170.9" r="1.15"/><circle cx="96.0" cy="170.3" r="1.15"/><circle cx="220.0" cy="168.2" r="1.15"/><circle cx="191.6" cy="181.3" r="1.15"/><circle cx="104.2" cy="171.9" r="1.15"/><circle cx="114.4" cy="179.9" r="1.15"/><circle cx="185.8" cy="181.1" r="1.15"/><circle cx="255.7" cy="141.9" r="1.15"/><circle cx="108.4" cy="175.3" r="1.15"/><circle cx="226.1" cy="160.2" r="1.15"/><circle cx="155.6" cy="195.1" r="1.15"/><circle cx="258.1" cy="139.0" r="1.15"/><circle cx="148.0" cy="198.4" r="1.15"/><circle cx="251.9" cy="130.4" r="1.15"/><circle cx="125.6" cy="193.3" r="1.15"/><circle cx="243.8" cy="139.4" r="1.15"/><circle cx="106.1" cy="177.1" r="1.15"/><circle cx="243.2" cy="137.2" r="1.15"/><circle cx="128.6" cy="191.0" r="1.15"/><circle cx="210.3" cy="160.6" r="1.15"/><circle cx="257.1" cy="144.5" r="1.15"/><circle cx="228.7" cy="155.4" r="1.15"/><circle cx="166.2" cy="189.5" r="1.15"/><circle cx="203.6" cy="167.1" r="1.15"/><circle cx="195.4" cy="172.2" r="1.15"/><circle cx="90.4" cy="160.3" r="1.15"/><circle cx="165.2" cy="190.7" r="1.15"/><circle cx="112.5" cy="182.8" r="1.15"/><circle cx="247.8" cy="141.8" r="1.15"/><circle cx="247.0" cy="145.8" r="1.15"/><circle cx="196.1" cy="177.1" r="1.15"/><circle cx="231.5" cy="162.3" r="1.15"/><circle cx="169.5" cy="199.5" r="1.15"/><circle cx="182.6" cy="183.9" r="1.15"/><circle cx="167.1" cy="190.4" r="1.15"/><circle cx="185.2" cy="172.4" r="1.15"/><circle cx="258.9" cy="138.9" r="1.15"/><circle cx="179.1" cy="180.0" r="1.15"/><circle cx="103.5" cy="173.4" r="1.15"/><circle cx="144.5" cy="200.6" r="1.15"/><circle cx="239.5" cy="151.5" r="1.15"/><circle cx="119.1" cy="196.1" r="1.15"/><circle cx="207.8" cy="171.9" r="1.15"/><circle cx="209.5" cy="163.3" r="1.15"/><circle cx="179.2" cy="174.5" r="1.15"/><circle cx="174.5" cy="186.2" r="1.15"/><circle cx="236.8" cy="161.1" r="1.15"/><circle cx="129.8" cy="190.7" r="1.15"/><circle cx="253.1" cy="128.9" r="1.15"/><circle cx="108.7" cy="177.8" r="1.15"/><circle cx="89.5" cy="155.6" r="1.15"/><circle cx="217.7" cy="160.7" r="1.15"/><circle cx="151.0" cy="197.0" r="1.15"/><circle cx="204.1" cy="173.2" r="1.15"/><circle cx="114.3" cy="179.4" r="1.15"/><circle cx="98.0" cy="167.4" r="1.15"/><circle cx="123.5" cy="187.9" r="1.15"/><circle cx="247.3" cy="146.4" r="1.15"/><circle cx="237.7" cy="156.1" r="1.15"/><circle cx="94.4" cy="163.5" r="1.15"/><circle cx="169.0" cy="179.5" r="1.15"/><circle cx="140.2" cy="193.5" r="1.15"/><circle cx="159.4" cy="194.2" r="1.15"/><circle cx="259.4" cy="131.4" r="1.15"/><circle cx="203.2" cy="170.3" r="1.15"/><circle cx="205.8" cy="171.0" r="1.15"/><circle cx="91.0" cy="162.1" r="1.15"/><circle cx="188.3" cy="183.4" r="1.15"/><circle cx="148.2" cy="199.2" r="1.15"/><circle cx="97.5" cy="169.5" r="1.15"/><circle cx="105.3" cy="180.3" r="1.15"/><circle cx="87.5" cy="154.6" r="1.15"/><circle cx="253.8" cy="129.5" r="1.15"/><circle cx="252.5" cy="133.8" r="1.15"/><circle cx="114.7" cy="183.0" r="1.15"/><circle cx="186.6" cy="177.5" r="1.15"/><circle cx="171.3" cy="185.7" r="1.15"/><circle cx="223.3" cy="163.1" r="1.15"/><circle cx="122.2" cy="192.1" r="1.15"/><circle cx="212.3" cy="173.2" r="1.15"/><circle cx="117.8" cy="184.9" r="1.15"/><circle cx="214.7" cy="165.0" r="1.15"/><circle cx="199.5" cy="172.1" r="1.15"/><circle cx="205.4" cy="176.6" r="1.15"/><circle cx="228.4" cy="162.8" r="1.15"/><circle cx="126.2" cy="192.5" r="1.15"/><circle cx="159.0" cy="193.1" r="1.15"/><circle cx="115.1" cy="180.5" r="1.15"/><circle cx="238.4" cy="156.5" r="1.15"/><circle cx="224.3" cy="162.5" r="1.15"/><circle cx="188.4" cy="175.5" r="1.15"/><circle cx="149.9" cy="191.4" r="1.15"/><circle cx="194.7" cy="173.9" r="1.15"/><circle cx="192.4" cy="175.3" r="1.15"/><circle cx="187.4" cy="179.1" r="1.15"/><circle cx="134.4" cy="196.5" r="1.15"/><circle cx="99.6" cy="175.6" r="1.15"/><circle cx="128.0" cy="191.5" r="1.15"/><circle cx="118.7" cy="188.2" r="1.15"/><circle cx="165.2" cy="202.3" r="1.15"/><circle cx="118.9" cy="183.3" r="1.15"/><circle cx="247.4" cy="129.0" r="1.15"/><circle cx="113.1" cy="190.1" r="1.15"/><circle cx="193.3" cy="177.0" r="1.15"/><circle cx="99.9" cy="173.4" r="1.15"/><circle cx="138.7" cy="199.3" r="1.15"/><circle cx="153.5" cy="193.8" r="1.15"/><circle cx="163.3" cy="192.6" r="1.15"/><circle cx="251.8" cy="135.8" r="1.15"/><circle cx="109.2" cy="181.8" r="1.15"/><circle cx="177.3" cy="177.7" r="1.15"/><circle cx="104.7" cy="173.7" r="1.15"/><circle cx="180.2" cy="174.6" r="1.15"/><circle cx="197.2" cy="166.7" r="1.15"/><circle cx="253.1" cy="144.0" r="1.15"/><circle cx="233.1" cy="154.6" r="1.15"/><circle cx="161.6" cy="197.4" r="1.15"/><circle cx="242.4" cy="144.4" r="1.15"/><circle cx="97.1" cy="163.5" r="1.15"/><circle cx="128.3" cy="196.8" r="1.15"/><circle cx="252.6" cy="130.9" r="1.15"/><circle cx="213.4" cy="160.6" r="1.15"/><circle cx="223.6" cy="158.4" r="1.15"/><circle cx="121.2" cy="185.0" r="1.15"/><circle cx="145.1" cy="192.9" r="1.15"/><circle cx="199.7" cy="170.1" r="1.15"/><circle cx="174.9" cy="190.6" r="1.15"/><circle cx="143.3" cy="200.8" r="1.15"/><circle cx="148.8" cy="198.0" r="1.15"/><circle cx="87.0" cy="154.1" r="1.15"/><circle cx="238.9" cy="152.8" r="1.15"/><circle cx="172.7" cy="183.5" r="1.15"/><circle cx="111.4" cy="184.1" r="1.15"/><circle cx="175.6" cy="180.6" r="1.15"/><circle cx="116.5" cy="181.4" r="1.15"/><circle cx="176.1" cy="180.6" r="1.15"/><circle cx="94.0" cy="164.3" r="1.15"/><circle cx="98.2" cy="171.7" r="1.15"/><circle cx="124.9" cy="187.0" r="1.15"/><circle cx="210.7" cy="172.4" r="1.15"/><circle cx="92.3" cy="159.4" r="1.15"/><circle cx="161.6" cy="198.6" r="1.15"/><circle cx="243.5" cy="147.8" r="1.15"/><circle cx="166.4" cy="193.5" r="1.15"/><circle cx="147.1" cy="201.0" r="1.15"/><circle cx="196.0" cy="177.8" r="1.15"/><circle cx="213.4" cy="171.8" r="1.15"/><circle cx="202.5" cy="175.6" r="1.15"/><circle cx="140.4" cy="194.9" r="1.15"/><circle cx="221.6" cy="153.9" r="1.15"/><circle cx="93.2" cy="167.7" r="1.15"/><circle cx="147.4" cy="193.5" r="1.15"/><circle cx="128.3" cy="191.1" r="1.15"/><circle cx="254.3" cy="142.5" r="1.15"/><circle cx="163.7" cy="199.3" r="1.15"/><circle cx="208.4" cy="162.3" r="1.15"/><circle cx="89.1" cy="157.9" r="1.15"/><circle cx="173.0" cy="182.0" r="1.15"/><circle cx="124.4" cy="189.1" r="1.15"/><circle cx="167.7" cy="183.7" r="1.15"/><circle cx="186.4" cy="176.7" r="1.15"/><circle cx="170.9" cy="187.8" r="1.15"/><circle cx="173.8" cy="189.3" r="1.15"/><circle cx="257.3" cy="132.7" r="1.15"/><circle cx="123.6" cy="193.7" r="1.15"/><circle cx="230.6" cy="158.5" r="1.15"/><circle cx="98.1" cy="171.3" r="1.15"/><circle cx="200.9" cy="176.6" r="1.15"/><circle cx="157.4" cy="193.7" r="1.15"/><circle cx="197.4" cy="169.6" r="1.15"/><circle cx="259.5" cy="137.3" r="1.15"/><circle cx="238.0" cy="145.4" r="1.15"/><circle cx="112.0" cy="177.6" r="1.15"/><circle cx="141.6" cy="194.9" r="1.15"/><circle cx="137.5" cy="202.9" r="1.15"/><circle cx="152.7" cy="193.5" r="1.15"/><circle cx="148.8" cy="193.6" r="1.15"/><circle cx="124.4" cy="187.9" r="1.15"/><circle cx="227.1" cy="76.1" r="1.15"/><circle cx="224.5" cy="77.0" r="1.15"/><circle cx="220.5" cy="74.8" r="1.15"/><circle cx="221.7" cy="73.7" r="1.15"/><circle cx="220.9" cy="76.2" r="1.15"/><circle cx="224.7" cy="76.7" r="1.15"/><circle cx="225.3" cy="75.3" r="1.15"/><circle cx="224.7" cy="73.1" r="1.15"/><circle cx="220.0" cy="73.2" r="1.15"/><circle cx="226.1" cy="78.0" r="1.15"/><circle cx="225.5" cy="75.8" r="1.15"/><circle cx="223.5" cy="74.2" r="1.15"/><circle cx="226.6" cy="73.0" r="1.15"/><circle cx="220.1" cy="75.5" r="1.15"/><circle cx="223.5" cy="76.8" r="1.15"/><circle cx="225.3" cy="71.9" r="1.15"/><circle cx="219.8" cy="74.1" r="1.15"/><circle cx="219.2" cy="74.3" r="1.15"/><circle cx="223.1" cy="77.3" r="1.15"/><circle cx="226.8" cy="75.2" r="1.15"/><circle cx="221.4" cy="72.9" r="1.15"/><circle cx="223.9" cy="73.7" r="1.15"/><circle cx="225.5" cy="74.5" r="1.15"/><circle cx="222.2" cy="75.4" r="1.15"/><circle cx="241.9" cy="92.3" r="1.15"/><circle cx="238.7" cy="84.5" r="1.15"/><circle cx="244.7" cy="94.4" r="1.15"/><circle cx="245.0" cy="96.2" r="1.15"/><circle cx="236.3" cy="82.1" r="1.15"/><circle cx="238.2" cy="83.4" r="1.15"/><circle cx="242.6" cy="92.6" r="1.15"/><circle cx="241.8" cy="90.3" r="1.15"/><circle cx="246.9" cy="94.7" r="1.15"/><circle cx="242.3" cy="91.0" r="1.15"/><circle cx="239.8" cy="88.8" r="1.15"/><circle cx="246.5" cy="97.3" r="1.15"/><circle cx="237.4" cy="84.9" r="1.15"/><circle cx="243.5" cy="93.2" r="1.15"/><circle cx="233.8" cy="81.1" r="1.15"/><circle cx="247.9" cy="96.0" r="1.15"/><circle cx="243.4" cy="92.2" r="1.15"/><circle cx="240.3" cy="87.3" r="1.15"/><circle cx="245.4" cy="94.1" r="1.15"/><circle cx="245.5" cy="93.4" r="1.15"/><circle cx="248.8" cy="96.6" r="1.15"/><circle cx="236.5" cy="83.3" r="1.15"/><circle cx="246.5" cy="95.6" r="1.15"/><circle cx="244.6" cy="93.2" r="1.15"/><circle cx="244.3" cy="93.3" r="1.15"/><circle cx="232.0" cy="105.3" r="1.15"/><circle cx="231.8" cy="100.7" r="1.15"/><circle cx="244.6" cy="107.6" r="1.15"/><circle cx="230.7" cy="101.7" r="1.15"/><circle cx="235.3" cy="106.7" r="1.15"/><circle cx="245.7" cy="106.6" r="1.15"/><circle cx="241.7" cy="105.7" r="1.15"/><circle cx="232.8" cy="102.2" r="1.15"/><circle cx="236.4" cy="101.1" r="1.15"/><circle cx="246.3" cy="100.4" r="1.15"/><circle cx="237.2" cy="101.1" r="1.15"/><circle cx="249.0" cy="105.0" r="1.15"/><circle cx="240.6" cy="102.2" r="1.15"/><circle cx="239.9" cy="104.2" r="1.15"/><circle cx="249.0" cy="100.8" r="1.15"/><circle cx="235.7" cy="99.1" r="1.15"/><circle cx="241.0" cy="106.5" r="1.15"/><circle cx="233.4" cy="102.8" r="1.15"/><circle cx="251.8" cy="103.3" r="1.15"/><circle cx="238.4" cy="107.2" r="1.15"/><circle cx="249.6" cy="102.1" r="1.15"/><circle cx="232.7" cy="105.0" r="1.15"/><circle cx="246.3" cy="108.2" r="1.15"/><circle cx="244.5" cy="101.4" r="1.15"/><circle cx="250.4" cy="103.3" r="1.15"/><circle cx="256.1" cy="142.2" r="1.15"/><circle cx="254.3" cy="132.2" r="1.15"/><circle cx="253.4" cy="150.1" r="1.15"/><circle cx="229.9" cy="147.1" r="1.15"/><circle cx="239.3" cy="132.1" r="1.15"/><circle cx="229.3" cy="149.2" r="1.15"/><circle cx="249.0" cy="117.9" r="1.15"/><circle cx="258.2" cy="123.7" r="1.15"/><circle cx="235.9" cy="132.2" r="1.15"/><circle cx="243.3" cy="153.2" r="1.15"/><circle cx="257.0" cy="141.9" r="1.15"/><circle cx="235.5" cy="118.7" r="1.15"/><circle cx="224.5" cy="136.8" r="1.15"/><circle cx="243.6" cy="133.7" r="1.15"/><circle cx="258.4" cy="132.2" r="1.15"/><circle cx="235.0" cy="132.4" r="1.15"/><circle cx="243.9" cy="137.9" r="1.15"/><circle cx="237.8" cy="125.0" r="1.15"/><circle cx="242.8" cy="123.1" r="1.15"/><circle cx="234.8" cy="148.4" r="1.15"/><circle cx="254.9" cy="124.4" r="1.15"/><circle cx="250.9" cy="133.4" r="1.15"/><circle cx="241.9" cy="137.4" r="1.15"/><circle cx="246.7" cy="144.3" r="1.15"/><circle cx="252.3" cy="127.3" r="1.15"/><circle cx="224.5" cy="138.3" r="1.15"/><circle cx="246.2" cy="123.9" r="1.15"/><circle cx="223.6" cy="135.4" r="1.15"/><circle cx="223.3" cy="146.4" r="1.15"/><circle cx="245.1" cy="126.3" r="1.15"/><circle cx="228.9" cy="122.0" r="1.15"/><circle cx="252.2" cy="133.9" r="1.15"/><circle cx="248.5" cy="129.3" r="1.15"/><circle cx="251.9" cy="140.2" r="1.15"/><circle cx="246.2" cy="131.3" r="1.15"/><circle cx="242.8" cy="122.4" r="1.15"/><circle cx="241.7" cy="142.1" r="1.15"/><circle cx="225.7" cy="128.7" r="1.15"/><circle cx="230.5" cy="151.1" r="1.15"/><circle cx="254.1" cy="148.4" r="1.15"/><circle cx="248.6" cy="127.3" r="1.15"/><circle cx="230.6" cy="145.0" r="1.15"/><circle cx="234.9" cy="147.5" r="1.15"/><circle cx="243.2" cy="149.9" r="1.15"/><circle cx="258.5" cy="130.7" r="1.15"/><circle cx="229.7" cy="148.5" r="1.15"/><circle cx="240.1" cy="115.6" r="1.15"/><circle cx="250.5" cy="123.6" r="1.15"/><circle cx="250.3" cy="142.0" r="1.15"/><circle cx="238.4" cy="146.2" r="1.15"/><circle cx="241.8" cy="140.3" r="1.15"/><circle cx="249.0" cy="122.7" r="1.15"/><circle cx="233.5" cy="129.1" r="1.15"/><circle cx="225.5" cy="129.3" r="1.15"/><circle cx="228.4" cy="146.2" r="1.15"/><circle cx="227.5" cy="118.2" r="1.15"/><circle cx="231.3" cy="136.7" r="1.15"/><circle cx="256.7" cy="126.5" r="1.15"/><circle cx="249.7" cy="144.6" r="1.15"/><circle cx="242.8" cy="125.2" r="1.15"/><circle cx="222.5" cy="128.5" r="1.15"/><circle cx="233.9" cy="122.7" r="1.15"/><circle cx="237.9" cy="153.5" r="1.15"/><circle cx="233.4" cy="114.6" r="1.15"/><circle cx="229.8" cy="119.1" r="1.15"/><circle cx="235.6" cy="119.3" r="1.15"/><circle cx="243.4" cy="133.6" r="1.15"/><circle cx="250.6" cy="145.9" r="1.15"/><circle cx="251.3" cy="138.7" r="1.15"/><circle cx="239.6" cy="128.5" r="1.15"/><circle cx="244.5" cy="118.3" r="1.15"/><circle cx="230.8" cy="137.6" r="1.15"/><circle cx="240.4" cy="143.3" r="1.15"/><circle cx="229.1" cy="141.6" r="1.15"/><circle cx="228.9" cy="145.3" r="1.15"/><circle cx="223.5" cy="126.1" r="1.15"/><circle cx="226.4" cy="120.6" r="1.15"/><circle cx="241.5" cy="121.7" r="1.15"/><circle cx="245.1" cy="151.9" r="1.15"/><circle cx="226.7" cy="123.6" r="1.15"/><circle cx="250.3" cy="134.7" r="1.15"/><circle cx="256.5" cy="128.9" r="1.15"/><circle cx="255.0" cy="122.8" r="1.15"/><circle cx="250.6" cy="147.0" r="1.15"/><circle cx="244.2" cy="118.4" r="1.15"/><circle cx="251.0" cy="145.8" r="1.15"/><circle cx="237.2" cy="147.0" r="1.15"/><circle cx="236.2" cy="149.3" r="1.15"/><circle cx="239.4" cy="149.7" r="1.15"/><circle cx="233.1" cy="138.0" r="1.15"/>
</g>
<g fill="#40c812">
<circle cx="140.8" cy="157.4" r="1.15"/><circle cx="140.4" cy="143.9" r="1.15"/><circle cx="128.5" cy="136.4" r="1.15"/><circle cx="84.7" cy="123.2" r="1.15"/><circle cx="116.2" cy="153.1" r="1.15"/><circle cx="160.8" cy="139.9" r="1.15"/><circle cx="173.6" cy="155.4" r="1.15"/><circle cx="187.9" cy="145.3" r="1.15"/><circle cx="125.3" cy="145.3" r="1.15"/><circle cx="176.2" cy="142.7" r="1.15"/><circle cx="149.9" cy="148.8" r="1.15"/><circle cx="177.7" cy="162.5" r="1.15"/><circle cx="158.1" cy="144.1" r="1.15"/><circle cx="89.5" cy="121.6" r="1.15"/><circle cx="115.6" cy="134.7" r="1.15"/><circle cx="99.7" cy="133.4" r="1.15"/><circle cx="99.7" cy="117.2" r="1.15"/><circle cx="133.0" cy="149.9" r="1.15"/><circle cx="137.2" cy="136.8" r="1.15"/><circle cx="168.9" cy="143.1" r="1.15"/><circle cx="95.6" cy="109.7" r="1.15"/><circle cx="99.5" cy="145.0" r="1.15"/><circle cx="133.9" cy="140.1" r="1.15"/><circle cx="175.7" cy="157.0" r="1.15"/><circle cx="151.5" cy="157.8" r="1.15"/><circle cx="117.6" cy="138.1" r="1.15"/><circle cx="107.3" cy="142.7" r="1.15"/><circle cx="145.3" cy="154.0" r="1.15"/><circle cx="119.0" cy="153.0" r="1.15"/><circle cx="110.1" cy="141.8" r="1.15"/><circle cx="85.9" cy="105.4" r="1.15"/><circle cx="95.6" cy="131.2" r="1.15"/><circle cx="84.6" cy="110.8" r="1.15"/><circle cx="161.1" cy="140.4" r="1.15"/><circle cx="108.2" cy="126.8" r="1.15"/><circle cx="108.5" cy="146.3" r="1.15"/><circle cx="103.0" cy="145.5" r="1.15"/><circle cx="156.7" cy="147.0" r="1.15"/><circle cx="190.2" cy="154.5" r="1.15"/><circle cx="174.4" cy="139.6" r="1.15"/><circle cx="122.9" cy="154.2" r="1.15"/><circle cx="164.1" cy="155.4" r="1.15"/><circle cx="129.8" cy="152.5" r="1.15"/><circle cx="173.2" cy="144.7" r="1.15"/><circle cx="131.7" cy="139.3" r="1.15"/><circle cx="165.8" cy="161.3" r="1.15"/><circle cx="93.2" cy="135.6" r="1.15"/><circle cx="188.5" cy="157.2" r="1.15"/><circle cx="122.6" cy="133.9" r="1.15"/><circle cx="109.1" cy="131.9" r="1.15"/><circle cx="116.9" cy="136.0" r="1.15"/><circle cx="89.7" cy="113.6" r="1.15"/><circle cx="114.9" cy="133.7" r="1.15"/><circle cx="103.1" cy="120.2" r="1.15"/><circle cx="110.2" cy="139.4" r="1.15"/><circle cx="95.6" cy="134.3" r="1.15"/><circle cx="172.1" cy="140.6" r="1.15"/><circle cx="167.2" cy="153.5" r="1.15"/><circle cx="89.6" cy="127.5" r="1.15"/><circle cx="116.2" cy="130.8" r="1.15"/><circle cx="172.0" cy="150.5" r="1.15"/><circle cx="115.6" cy="140.8" r="1.15"/><circle cx="146.2" cy="144.0" r="1.15"/><circle cx="101.5" cy="120.7" r="1.15"/><circle cx="97.0" cy="123.6" r="1.15"/><circle cx="92.2" cy="131.1" r="1.15"/><circle cx="123.9" cy="148.7" r="1.15"/><circle cx="102.6" cy="121.2" r="1.15"/><circle cx="169.3" cy="138.6" r="1.15"/><circle cx="99.0" cy="119.8" r="1.15"/><circle cx="188.5" cy="148.5" r="1.15"/><circle cx="168.1" cy="156.8" r="1.15"/><circle cx="170.9" cy="144.3" r="1.15"/><circle cx="184.4" cy="146.0" r="1.15"/><circle cx="178.6" cy="157.3" r="1.15"/><circle cx="182.8" cy="152.0" r="1.15"/><circle cx="121.3" cy="148.8" r="1.15"/><circle cx="111.1" cy="131.4" r="1.15"/><circle cx="120.2" cy="143.0" r="1.15"/><circle cx="188.8" cy="145.5" r="1.15"/><circle cx="154.4" cy="151.9" r="1.15"/><circle cx="176.0" cy="144.4" r="1.15"/><circle cx="114.5" cy="140.1" r="1.15"/><circle cx="112.7" cy="131.2" r="1.15"/><circle cx="93.0" cy="108.1" r="1.15"/><circle cx="179.3" cy="155.7" r="1.15"/><circle cx="99.7" cy="144.0" r="1.15"/><circle cx="145.0" cy="157.4" r="1.15"/><circle cx="143.5" cy="138.5" r="1.15"/><circle cx="126.9" cy="146.2" r="1.15"/><circle cx="158.1" cy="163.3" r="1.15"/><circle cx="127.4" cy="157.9" r="1.15"/><circle cx="106.3" cy="122.5" r="1.15"/><circle cx="97.9" cy="143.1" r="1.15"/><circle cx="173.2" cy="158.0" r="1.15"/><circle cx="180.3" cy="149.4" r="1.15"/><circle cx="91.8" cy="112.4" r="1.15"/><circle cx="87.1" cy="106.5" r="1.15"/><circle cx="184.9" cy="146.4" r="1.15"/><circle cx="86.7" cy="130.8" r="1.15"/><circle cx="113.1" cy="150.5" r="1.15"/><circle cx="169.0" cy="145.1" r="1.15"/><circle cx="172.4" cy="158.4" r="1.15"/><circle cx="137.2" cy="155.8" r="1.15"/><circle cx="97.2" cy="134.0" r="1.15"/><circle cx="95.7" cy="137.6" r="1.15"/><circle cx="131.0" cy="158.7" r="1.15"/><circle cx="162.3" cy="149.9" r="1.15"/><circle cx="152.3" cy="139.4" r="1.15"/><circle cx="167.3" cy="147.9" r="1.15"/><circle cx="140.9" cy="150.7" r="1.15"/><circle cx="159.5" cy="160.0" r="1.15"/><circle cx="132.7" cy="144.1" r="1.15"/><circle cx="143.7" cy="152.5" r="1.15"/><circle cx="108.6" cy="127.6" r="1.15"/><circle cx="167.6" cy="161.8" r="1.15"/><circle cx="149.6" cy="162.9" r="1.15"/><circle cx="133.6" cy="143.4" r="1.15"/><circle cx="84.8" cy="108.7" r="1.15"/><circle cx="118.3" cy="134.7" r="1.15"/><circle cx="148.7" cy="163.4" r="1.15"/><circle cx="127.8" cy="137.2" r="1.15"/><circle cx="143.2" cy="149.7" r="1.15"/><circle cx="180.3" cy="148.6" r="1.15"/><circle cx="128.1" cy="147.0" r="1.15"/><circle cx="106.2" cy="140.7" r="1.15"/><circle cx="83.9" cy="112.7" r="1.15"/><circle cx="103.2" cy="123.2" r="1.15"/><circle cx="92.1" cy="134.5" r="1.15"/><circle cx="155.4" cy="145.4" r="1.15"/><circle cx="103.7" cy="137.5" r="1.15"/><circle cx="111.5" cy="137.2" r="1.15"/><circle cx="119.7" cy="154.7" r="1.15"/><circle cx="145.7" cy="137.2" r="1.15"/><circle cx="97.9" cy="130.3" r="1.15"/><circle cx="89.6" cy="111.9" r="1.15"/><circle cx="98.4" cy="128.7" r="1.15"/><circle cx="159.1" cy="161.1" r="1.15"/><circle cx="124.6" cy="134.5" r="1.15"/><circle cx="123.2" cy="155.8" r="1.15"/><circle cx="180.1" cy="152.4" r="1.15"/><circle cx="105.3" cy="131.5" r="1.15"/><circle cx="114.2" cy="152.2" r="1.15"/><circle cx="96.8" cy="116.0" r="1.15"/><circle cx="170.9" cy="138.0" r="1.15"/><circle cx="97.8" cy="118.9" r="1.15"/><circle cx="105.2" cy="141.5" r="1.15"/><circle cx="120.1" cy="144.1" r="1.15"/><circle cx="183.5" cy="144.2" r="1.15"/><circle cx="154.1" cy="164.3" r="1.15"/><circle cx="97.1" cy="136.9" r="1.15"/><circle cx="172.5" cy="153.9" r="1.15"/><circle cx="176.2" cy="158.4" r="1.15"/><circle cx="118.1" cy="146.9" r="1.15"/><circle cx="164.9" cy="151.2" r="1.15"/><circle cx="174.0" cy="155.7" r="1.15"/><circle cx="168.8" cy="145.9" r="1.15"/><circle cx="130.0" cy="156.6" r="1.15"/><circle cx="84.1" cy="108.5" r="1.15"/><circle cx="147.1" cy="155.5" r="1.15"/><circle cx="164.5" cy="160.4" r="1.15"/><circle cx="145.4" cy="151.6" r="1.15"/><circle cx="150.7" cy="147.4" r="1.15"/><circle cx="164.5" cy="159.6" r="1.15"/><circle cx="129.5" cy="143.1" r="1.15"/><circle cx="128.7" cy="137.7" r="1.15"/><circle cx="85.5" cy="116.3" r="1.15"/><circle cx="122.8" cy="142.9" r="1.15"/><circle cx="103.1" cy="132.0" r="1.15"/><circle cx="114.8" cy="137.3" r="1.15"/><circle cx="140.5" cy="150.1" r="1.15"/><circle cx="165.8" cy="141.4" r="1.15"/><circle cx="163.6" cy="158.4" r="1.15"/><circle cx="90.6" cy="101.7" r="1.15"/><circle cx="98.2" cy="128.5" r="1.15"/><circle cx="126.0" cy="148.0" r="1.15"/><circle cx="132.9" cy="142.5" r="1.15"/><circle cx="98.0" cy="140.3" r="1.15"/><circle cx="191.1" cy="146.0" r="1.15"/><circle cx="121.8" cy="153.6" r="1.15"/><circle cx="133.1" cy="152.9" r="1.15"/><circle cx="199.5" cy="149.8" r="1.15"/><circle cx="167.3" cy="154.6" r="1.15"/><circle cx="125.5" cy="151.7" r="1.15"/><circle cx="163.4" cy="144.4" r="1.15"/><circle cx="122.5" cy="151.2" r="1.15"/><circle cx="127.4" cy="144.5" r="1.15"/><circle cx="134.4" cy="139.9" r="1.15"/><circle cx="169.0" cy="149.7" r="1.15"/><circle cx="185.4" cy="157.9" r="1.15"/><circle cx="157.9" cy="164.4" r="1.15"/><circle cx="154.3" cy="137.2" r="1.15"/><circle cx="160.2" cy="154.8" r="1.15"/><circle cx="131.8" cy="156.0" r="1.15"/><circle cx="174.5" cy="157.7" r="1.15"/><circle cx="136.1" cy="142.3" r="1.15"/><circle cx="125.2" cy="138.0" r="1.15"/><circle cx="104.3" cy="135.8" r="1.15"/><circle cx="152.2" cy="145.2" r="1.15"/><circle cx="148.4" cy="159.9" r="1.15"/><circle cx="151.4" cy="154.8" r="1.15"/><circle cx="86.5" cy="107.0" r="1.15"/><circle cx="114.4" cy="134.9" r="1.15"/><circle cx="92.6" cy="123.2" r="1.15"/><circle cx="173.1" cy="142.1" r="1.15"/><circle cx="130.1" cy="155.2" r="1.15"/><circle cx="164.2" cy="163.6" r="1.15"/><circle cx="124.9" cy="152.1" r="1.15"/><circle cx="116.4" cy="138.2" r="1.15"/><circle cx="160.2" cy="144.7" r="1.15"/><circle cx="93.0" cy="126.0" r="1.15"/><circle cx="118.5" cy="132.2" r="1.15"/><circle cx="144.2" cy="152.9" r="1.15"/><circle cx="169.3" cy="149.1" r="1.15"/><circle cx="91.4" cy="136.6" r="1.15"/><circle cx="138.9" cy="152.2" r="1.15"/><circle cx="146.9" cy="138.7" r="1.15"/><circle cx="136.5" cy="154.0" r="1.15"/><circle cx="167.3" cy="154.0" r="1.15"/><circle cx="147.8" cy="138.5" r="1.15"/><circle cx="157.3" cy="160.3" r="1.15"/><circle cx="88.8" cy="122.0" r="1.15"/><circle cx="101.8" cy="142.0" r="1.15"/><circle cx="100.3" cy="126.5" r="1.15"/><circle cx="102.2" cy="130.6" r="1.15"/><circle cx="169.2" cy="159.9" r="1.15"/><circle cx="190.5" cy="156.0" r="1.15"/><circle cx="94.8" cy="124.1" r="1.15"/><circle cx="165.7" cy="148.1" r="1.15"/><circle cx="165.3" cy="150.3" r="1.15"/><circle cx="104.1" cy="128.2" r="1.15"/><circle cx="155.5" cy="156.9" r="1.15"/><circle cx="165.2" cy="142.7" r="1.15"/><circle cx="157.7" cy="154.2" r="1.15"/><circle cx="102.4" cy="142.3" r="1.15"/><circle cx="115.8" cy="132.1" r="1.15"/><circle cx="87.3" cy="114.6" r="1.15"/><circle cx="128.9" cy="154.3" r="1.15"/><circle cx="161.5" cy="164.8" r="1.15"/><circle cx="158.4" cy="142.5" r="1.15"/><circle cx="106.1" cy="141.4" r="1.15"/><circle cx="148.5" cy="140.6" r="1.15"/><circle cx="104.4" cy="131.5" r="1.15"/><circle cx="120.5" cy="134.4" r="1.15"/><circle cx="88.6" cy="103.7" r="1.15"/><circle cx="149.2" cy="139.3" r="1.15"/><circle cx="96.3" cy="122.1" r="1.15"/><circle cx="176.7" cy="145.8" r="1.15"/><circle cx="103.9" cy="130.5" r="1.15"/><circle cx="124.2" cy="140.6" r="1.15"/><circle cx="146.0" cy="155.5" r="1.15"/><circle cx="120.4" cy="149.9" r="1.15"/><circle cx="166.8" cy="137.2" r="1.15"/><circle cx="172.2" cy="162.6" r="1.15"/><circle cx="111.6" cy="145.5" r="1.15"/><circle cx="137.4" cy="138.8" r="1.15"/><circle cx="102.7" cy="119.2" r="1.15"/><circle cx="98.4" cy="139.3" r="1.15"/><circle cx="127.7" cy="144.4" r="1.15"/><circle cx="187.5" cy="154.8" r="1.15"/><circle cx="121.7" cy="134.6" r="1.15"/><circle cx="133.9" cy="139.6" r="1.15"/><circle cx="88.6" cy="100.8" r="1.15"/><circle cx="110.7" cy="128.3" r="1.15"/><circle cx="88.8" cy="123.0" r="1.15"/><circle cx="128.9" cy="136.9" r="1.15"/><circle cx="131.5" cy="141.3" r="1.15"/><circle cx="89.3" cy="113.2" r="1.15"/><circle cx="101.4" cy="122.7" r="1.15"/><circle cx="165.6" cy="159.9" r="1.15"/><circle cx="138.5" cy="152.0" r="1.15"/><circle cx="114.6" cy="147.8" r="1.15"/><circle cx="168.2" cy="160.2" r="1.15"/><circle cx="109.4" cy="149.4" r="1.15"/><circle cx="137.6" cy="158.2" r="1.15"/><circle cx="100.1" cy="138.3" r="1.15"/><circle cx="102.7" cy="144.0" r="1.15"/><circle cx="151.5" cy="141.2" r="1.15"/><circle cx="135.8" cy="158.5" r="1.15"/><circle cx="90.3" cy="123.6" r="1.15"/><circle cx="129.3" cy="142.2" r="1.15"/><circle cx="132.5" cy="156.5" r="1.15"/><circle cx="113.7" cy="135.0" r="1.15"/><circle cx="123.8" cy="136.5" r="1.15"/><circle cx="193.9" cy="145.7" r="1.15"/><circle cx="123.3" cy="136.4" r="1.15"/><circle cx="194.6" cy="145.8" r="1.15"/><circle cx="175.5" cy="144.8" r="1.15"/><circle cx="183.6" cy="145.9" r="1.15"/><circle cx="138.4" cy="153.0" r="1.15"/><circle cx="112.3" cy="140.1" r="1.15"/><circle cx="124.8" cy="140.1" r="1.15"/><circle cx="115.3" cy="149.2" r="1.15"/><circle cx="163.4" cy="155.1" r="1.15"/><circle cx="131.0" cy="150.6" r="1.15"/><circle cx="199.8" cy="149.4" r="1.15"/><circle cx="166.7" cy="146.1" r="1.15"/><circle cx="111.1" cy="129.0" r="1.15"/><circle cx="171.2" cy="145.3" r="1.15"/><circle cx="194.8" cy="154.0" r="1.15"/><circle cx="161.3" cy="154.6" r="1.15"/><circle cx="162.6" cy="141.7" r="1.15"/><circle cx="174.1" cy="159.2" r="1.15"/><circle cx="100.8" cy="132.5" r="1.15"/><circle cx="110.3" cy="147.8" r="1.15"/><circle cx="147.2" cy="159.1" r="1.15"/><circle cx="135.7" cy="157.9" r="1.15"/><circle cx="147.3" cy="142.8" r="1.15"/><circle cx="133.0" cy="154.9" r="1.15"/><circle cx="151.4" cy="146.0" r="1.15"/><circle cx="94.5" cy="137.3" r="1.15"/><circle cx="154.1" cy="151.2" r="1.15"/><circle cx="119.2" cy="136.6" r="1.15"/><circle cx="90.5" cy="115.3" r="1.15"/><circle cx="174.3" cy="148.0" r="1.15"/><circle cx="126.5" cy="138.9" r="1.15"/><circle cx="99.6" cy="140.2" r="1.15"/><circle cx="165.8" cy="150.2" r="1.15"/><circle cx="110.7" cy="148.3" r="1.15"/><circle cx="131.4" cy="146.9" r="1.15"/><circle cx="99.0" cy="127.2" r="1.15"/><circle cx="181.0" cy="160.4" r="1.15"/><circle cx="97.7" cy="142.9" r="1.15"/><circle cx="126.9" cy="137.1" r="1.15"/><circle cx="149.7" cy="151.3" r="1.15"/><circle cx="191.0" cy="155.0" r="1.15"/><circle cx="113.3" cy="141.8" r="1.15"/><circle cx="97.8" cy="137.7" r="1.15"/><circle cx="169.6" cy="160.5" r="1.15"/><circle cx="124.6" cy="138.6" r="1.15"/><circle cx="108.7" cy="130.7" r="1.15"/><circle cx="148.1" cy="139.2" r="1.15"/><circle cx="157.6" cy="158.4" r="1.15"/><circle cx="140.1" cy="147.1" r="1.15"/><circle cx="178.1" cy="159.0" r="1.15"/><circle cx="144.7" cy="162.4" r="1.15"/><circle cx="145.0" cy="151.0" r="1.15"/><circle cx="88.8" cy="109.8" r="1.15"/><circle cx="153.9" cy="144.7" r="1.15"/><circle cx="165.7" cy="137.5" r="1.15"/><circle cx="105.3" cy="146.3" r="1.15"/><circle cx="96.2" cy="139.3" r="1.15"/><circle cx="122.8" cy="136.3" r="1.15"/><circle cx="154.8" cy="164.1" r="1.15"/><circle cx="169.3" cy="160.3" r="1.15"/><circle cx="175.4" cy="160.6" r="1.15"/><circle cx="107.9" cy="125.8" r="1.15"/><circle cx="192.0" cy="154.1" r="1.15"/><circle cx="95.0" cy="112.1" r="1.15"/><circle cx="199.7" cy="153.7" r="1.15"/><circle cx="126.5" cy="135.9" r="1.15"/><circle cx="132.1" cy="151.9" r="1.15"/><circle cx="144.8" cy="139.6" r="1.15"/><circle cx="155.5" cy="162.9" r="1.15"/><circle cx="122.9" cy="142.9" r="1.15"/><circle cx="170.4" cy="144.9" r="1.15"/><circle cx="148.3" cy="153.7" r="1.15"/><circle cx="132.3" cy="137.8" r="1.15"/><circle cx="136.7" cy="141.2" r="1.15"/><circle cx="134.1" cy="152.4" r="1.15"/><circle cx="88.2" cy="127.1" r="1.15"/><circle cx="134.4" cy="144.9" r="1.15"/><circle cx="114.6" cy="140.9" r="1.15"/><circle cx="90.7" cy="103.7" r="1.15"/><circle cx="108.3" cy="140.7" r="1.15"/><circle cx="89.0" cy="133.2" r="1.15"/><circle cx="155.8" cy="148.6" r="1.15"/><circle cx="122.9" cy="141.3" r="1.15"/><circle cx="141.6" cy="143.8" r="1.15"/><circle cx="118.9" cy="132.6" r="1.15"/><circle cx="199.9" cy="153.8" r="1.15"/><circle cx="103.6" cy="127.5" r="1.15"/><circle cx="113.0" cy="131.7" r="1.15"/><circle cx="86.6" cy="131.1" r="1.15"/><circle cx="153.3" cy="139.9" r="1.15"/><circle cx="160.2" cy="150.5" r="1.15"/><circle cx="115.5" cy="146.7" r="1.15"/><circle cx="84.9" cy="113.5" r="1.15"/><circle cx="92.5" cy="118.9" r="1.15"/><circle cx="194.9" cy="147.4" r="1.15"/><circle cx="185.9" cy="157.7" r="1.15"/><circle cx="119.6" cy="138.4" r="1.15"/><circle cx="138.9" cy="157.6" r="1.15"/><circle cx="99.4" cy="141.5" r="1.15"/><circle cx="178.9" cy="162.6" r="1.15"/><circle cx="141.2" cy="143.6" r="1.15"/><circle cx="143.0" cy="149.2" r="1.15"/><circle cx="125.2" cy="143.5" r="1.15"/><circle cx="187.8" cy="151.6" r="1.15"/><circle cx="194.8" cy="151.4" r="1.15"/><circle cx="105.6" cy="132.2" r="1.15"/><circle cx="109.6" cy="131.8" r="1.15"/><circle cx="111.5" cy="148.9" r="1.15"/><circle cx="171.8" cy="151.0" r="1.15"/><circle cx="134.6" cy="150.8" r="1.15"/><circle cx="182.1" cy="145.6" r="1.15"/><circle cx="136.7" cy="151.3" r="1.15"/><circle cx="180.0" cy="142.3" r="1.15"/><circle cx="118.1" cy="148.9" r="1.15"/><circle cx="155.1" cy="150.6" r="1.15"/><circle cx="156.6" cy="165.0" r="1.15"/><circle cx="178.7" cy="154.0" r="1.15"/><circle cx="167.3" cy="142.8" r="1.15"/><circle cx="196.1" cy="149.3" r="1.15"/><circle cx="88.4" cy="132.7" r="1.15"/><circle cx="171.9" cy="150.1" r="1.15"/><circle cx="161.9" cy="139.3" r="1.15"/><circle cx="112.2" cy="144.5" r="1.15"/><circle cx="152.7" cy="163.8" r="1.15"/><circle cx="123.3" cy="142.9" r="1.15"/><circle cx="94.6" cy="125.5" r="1.15"/><circle cx="199.6" cy="147.6" r="1.15"/><circle cx="139.2" cy="142.3" r="1.15"/><circle cx="94.8" cy="131.4" r="1.15"/><circle cx="103.0" cy="139.7" r="1.15"/><circle cx="123.7" cy="143.9" r="1.15"/><circle cx="107.6" cy="141.0" r="1.15"/><circle cx="126.2" cy="135.6" r="1.15"/><circle cx="126.3" cy="147.6" r="1.15"/><circle cx="102.2" cy="134.6" r="1.15"/><circle cx="142.4" cy="144.2" r="1.15"/><circle cx="150.8" cy="145.9" r="1.15"/><circle cx="177.8" cy="157.0" r="1.15"/><circle cx="115.8" cy="137.3" r="1.15"/><circle cx="103.2" cy="146.5" r="1.15"/><circle cx="88.5" cy="105.8" r="1.15"/><circle cx="149.8" cy="153.5" r="1.15"/><circle cx="159.0" cy="152.0" r="1.15"/><circle cx="84.2" cy="120.2" r="1.15"/><circle cx="189.3" cy="153.4" r="1.15"/><circle cx="128.6" cy="144.0" r="1.15"/><circle cx="85.3" cy="104.3" r="1.15"/><circle cx="127.0" cy="141.8" r="1.15"/><circle cx="88.6" cy="105.7" r="1.15"/><circle cx="91.6" cy="118.9" r="1.15"/><circle cx="152.0" cy="143.3" r="1.15"/><circle cx="116.6" cy="134.0" r="1.15"/><circle cx="122.2" cy="138.3" r="1.15"/><circle cx="107.3" cy="136.6" r="1.15"/><circle cx="104.8" cy="129.3" r="1.15"/><circle cx="114.0" cy="142.3" r="1.15"/><circle cx="130.1" cy="144.2" r="1.15"/><circle cx="134.5" cy="138.7" r="1.15"/><circle cx="143.2" cy="149.5" r="1.15"/><circle cx="177.5" cy="148.5" r="1.15"/><circle cx="94.4" cy="137.2" r="1.15"/><circle cx="170.7" cy="140.0" r="1.15"/><circle cx="150.3" cy="157.6" r="1.15"/><circle cx="108.5" cy="139.4" r="1.15"/><circle cx="193.0" cy="147.6" r="1.15"/><circle cx="192.6" cy="156.9" r="1.15"/><circle cx="192.6" cy="154.1" r="1.15"/><circle cx="117.3" cy="152.9" r="1.15"/><circle cx="133.7" cy="145.1" r="1.15"/><circle cx="145.7" cy="162.7" r="1.15"/><circle cx="93.5" cy="116.6" r="1.15"/><circle cx="190.7" cy="145.5" r="1.15"/><circle cx="171.1" cy="139.6" r="1.15"/><circle cx="115.3" cy="140.9" r="1.15"/><circle cx="94.2" cy="134.6" r="1.15"/><circle cx="95.1" cy="123.4" r="1.15"/><circle cx="142.7" cy="155.5" r="1.15"/><circle cx="136.4" cy="138.5" r="1.15"/><circle cx="122.3" cy="154.0" r="1.15"/><circle cx="140.6" cy="143.2" r="1.15"/><circle cx="88.6" cy="129.7" r="1.15"/><circle cx="157.0" cy="150.5" r="1.15"/><circle cx="159.2" cy="162.6" r="1.15"/><circle cx="197.5" cy="148.7" r="1.15"/><circle cx="114.0" cy="146.9" r="1.15"/><circle cx="152.2" cy="156.9" r="1.15"/><circle cx="95.4" cy="132.7" r="1.15"/><circle cx="161.1" cy="141.8" r="1.15"/><circle cx="160.2" cy="158.6" r="1.15"/><circle cx="172.3" cy="141.9" r="1.15"/><circle cx="86.8" cy="101.6" r="1.15"/><circle cx="135.4" cy="155.5" r="1.15"/><circle cx="168.7" cy="139.7" r="1.15"/><circle cx="135.5" cy="156.0" r="1.15"/><circle cx="151.8" cy="164.0" r="1.15"/><circle cx="161.5" cy="160.7" r="1.15"/><circle cx="118.3" cy="143.8" r="1.15"/><circle cx="105.3" cy="134.2" r="1.15"/><circle cx="87.1" cy="120.0" r="1.15"/><circle cx="105.7" cy="122.4" r="1.15"/><circle cx="192.6" cy="149.1" r="1.15"/><circle cx="115.8" cy="152.8" r="1.15"/><circle cx="171.1" cy="142.5" r="1.15"/><circle cx="182.3" cy="160.9" r="1.15"/><circle cx="92.4" cy="116.9" r="1.15"/><circle cx="115.9" cy="134.7" r="1.15"/><circle cx="180.0" cy="150.4" r="1.15"/><circle cx="154.3" cy="142.0" r="1.15"/><circle cx="85.4" cy="114.1" r="1.15"/><circle cx="176.7" cy="160.3" r="1.15"/><circle cx="126.1" cy="152.4" r="1.15"/><circle cx="122.7" cy="141.4" r="1.15"/><circle cx="169.5" cy="154.7" r="1.15"/><circle cx="87.9" cy="107.0" r="1.15"/><circle cx="94.4" cy="131.6" r="1.15"/><circle cx="94.9" cy="133.1" r="1.15"/><circle cx="97.4" cy="123.4" r="1.15"/><circle cx="92.5" cy="107.8" r="1.15"/><circle cx="87.8" cy="105.1" r="1.15"/><circle cx="85.8" cy="116.1" r="1.15"/><circle cx="88.7" cy="122.3" r="1.15"/><circle cx="87.2" cy="104.3" r="1.15"/><circle cx="87.5" cy="109.4" r="1.15"/><circle cx="90.0" cy="114.4" r="1.15"/><circle cx="95.2" cy="121.1" r="1.15"/><circle cx="89.3" cy="107.4" r="1.15"/><circle cx="87.6" cy="120.9" r="1.15"/><circle cx="92.0" cy="111.5" r="1.15"/><circle cx="92.6" cy="131.2" r="1.15"/><circle cx="93.1" cy="114.5" r="1.15"/><circle cx="91.7" cy="118.2" r="1.15"/><circle cx="97.4" cy="124.3" r="1.15"/><circle cx="86.1" cy="108.3" r="1.15"/><circle cx="87.9" cy="105.4" r="1.15"/><circle cx="96.8" cy="118.4" r="1.15"/><circle cx="92.3" cy="110.1" r="1.15"/><circle cx="90.5" cy="128.7" r="1.15"/><circle cx="91.7" cy="117.3" r="1.15"/><circle cx="97.2" cy="117.3" r="1.15"/><circle cx="87.2" cy="119.2" r="1.15"/><circle cx="88.9" cy="111.3" r="1.15"/><circle cx="96.4" cy="114.6" r="1.15"/><circle cx="96.4" cy="127.4" r="1.15"/><circle cx="92.0" cy="132.0" r="1.15"/><circle cx="94.1" cy="108.1" r="1.15"/><circle cx="95.1" cy="133.2" r="1.15"/><circle cx="88.0" cy="106.4" r="1.15"/><circle cx="89.3" cy="105.7" r="1.15"/><circle cx="99.4" cy="122.7" r="1.15"/><circle cx="88.3" cy="106.9" r="1.15"/><circle cx="92.6" cy="112.2" r="1.15"/><circle cx="93.1" cy="127.7" r="1.15"/><circle cx="92.2" cy="116.4" r="1.15"/><circle cx="91.1" cy="115.3" r="1.15"/><circle cx="86.6" cy="106.4" r="1.15"/><circle cx="95.6" cy="124.8" r="1.15"/><circle cx="95.0" cy="125.0" r="1.15"/><circle cx="98.6" cy="121.2" r="1.15"/><circle cx="90.5" cy="130.9" r="1.15"/><circle cx="86.0" cy="123.6" r="1.15"/><circle cx="88.3" cy="110.4" r="1.15"/><circle cx="88.9" cy="116.3" r="1.15"/><circle cx="94.3" cy="116.7" r="1.15"/><circle cx="97.7" cy="117.7" r="1.15"/><circle cx="96.7" cy="116.2" r="1.15"/><circle cx="94.2" cy="128.0" r="1.15"/><circle cx="92.4" cy="127.6" r="1.15"/><circle cx="88.8" cy="117.0" r="1.15"/><circle cx="90.1" cy="118.6" r="1.15"/><circle cx="94.5" cy="136.1" r="1.15"/><circle cx="97.8" cy="119.8" r="1.15"/><circle cx="84.3" cy="104.1" r="1.15"/><circle cx="93.2" cy="132.3" r="1.15"/><circle cx="89.3" cy="106.7" r="1.15"/><circle cx="96.1" cy="121.4" r="1.15"/><circle cx="91.5" cy="106.6" r="1.15"/><circle cx="92.9" cy="122.7" r="1.15"/><circle cx="95.4" cy="134.5" r="1.15"/><circle cx="89.1" cy="117.0" r="1.15"/>
</g>
<g fill="#2a84c2">
<circle cx="198.7" cy="110.8" r="1.15"/><circle cx="195.1" cy="104.7" r="1.15"/><circle cx="189.9" cy="103.3" r="1.15"/><circle cx="183.7" cy="98.3" r="1.15"/><circle cx="211.5" cy="99.3" r="1.15"/><circle cx="201.4" cy="92.7" r="1.15"/><circle cx="184.2" cy="89.6" r="1.15"/><circle cx="203.2" cy="109.0" r="1.15"/><circle cx="170.0" cy="101.4" r="1.15"/><circle cx="195.9" cy="101.0" r="1.15"/><circle cx="195.1" cy="100.8" r="1.15"/><circle cx="226.4" cy="101.7" r="1.15"/><circle cx="189.9" cy="102.8" r="1.15"/><circle cx="200.8" cy="87.5" r="1.15"/><circle cx="195.7" cy="89.7" r="1.15"/><circle cx="183.1" cy="87.4" r="1.15"/><circle cx="230.2" cy="104.3" r="1.15"/><circle cx="230.1" cy="109.4" r="1.15"/><circle cx="162.3" cy="108.7" r="1.15"/><circle cx="188.9" cy="94.4" r="1.15"/><circle cx="173.4" cy="109.1" r="1.15"/><circle cx="172.2" cy="109.1" r="1.15"/><circle cx="180.7" cy="106.6" r="1.15"/><circle cx="210.0" cy="110.8" r="1.15"/><circle cx="199.3" cy="91.9" r="1.15"/><circle cx="175.2" cy="87.7" r="1.15"/><circle cx="179.4" cy="107.2" r="1.15"/><circle cx="194.1" cy="85.2" r="1.15"/><circle cx="212.2" cy="85.6" r="1.15"/><circle cx="222.6" cy="90.3" r="1.15"/><circle cx="183.8" cy="93.0" r="1.15"/><circle cx="161.7" cy="108.7" r="1.15"/><circle cx="180.2" cy="85.8" r="1.15"/><circle cx="169.1" cy="104.5" r="1.15"/><circle cx="209.8" cy="95.2" r="1.15"/><circle cx="170.7" cy="90.4" r="1.15"/><circle cx="181.1" cy="88.3" r="1.15"/><circle cx="184.8" cy="104.2" r="1.15"/><circle cx="202.3" cy="101.5" r="1.15"/><circle cx="219.9" cy="112.2" r="1.15"/><circle cx="200.9" cy="83.1" r="1.15"/><circle cx="219.7" cy="107.9" r="1.15"/><circle cx="194.5" cy="104.7" r="1.15"/><circle cx="157.9" cy="103.2" r="1.15"/><circle cx="196.2" cy="89.9" r="1.15"/><circle cx="210.9" cy="96.9" r="1.15"/><circle cx="204.8" cy="91.0" r="1.15"/><circle cx="191.1" cy="98.1" r="1.15"/><circle cx="172.1" cy="96.5" r="1.15"/><circle cx="213.9" cy="104.2" r="1.15"/><circle cx="225.5" cy="105.7" r="1.15"/><circle cx="192.1" cy="90.9" r="1.15"/><circle cx="222.0" cy="109.9" r="1.15"/><circle cx="196.4" cy="105.5" r="1.15"/><circle cx="211.0" cy="97.2" r="1.15"/><circle cx="189.0" cy="111.5" r="1.15"/><circle cx="216.4" cy="98.9" r="1.15"/><circle cx="214.2" cy="98.2" r="1.15"/><circle cx="199.7" cy="108.7" r="1.15"/><circle cx="168.5" cy="109.6" r="1.15"/><circle cx="197.5" cy="96.0" r="1.15"/><circle cx="219.7" cy="111.4" r="1.15"/><circle cx="193.4" cy="96.5" r="1.15"/><circle cx="170.6" cy="102.9" r="1.15"/><circle cx="203.8" cy="86.8" r="1.15"/><circle cx="190.6" cy="94.0" r="1.15"/><circle cx="159.9" cy="103.4" r="1.15"/><circle cx="185.8" cy="97.0" r="1.15"/><circle cx="166.1" cy="104.4" r="1.15"/><circle cx="208.2" cy="83.4" r="1.15"/><circle cx="184.1" cy="84.0" r="1.15"/><circle cx="219.3" cy="86.3" r="1.15"/><circle cx="195.7" cy="103.5" r="1.15"/><circle cx="227.3" cy="108.9" r="1.15"/><circle cx="166.7" cy="103.6" r="1.15"/><circle cx="188.1" cy="85.5" r="1.15"/><circle cx="190.6" cy="110.9" r="1.15"/><circle cx="196.8" cy="109.1" r="1.15"/><circle cx="191.6" cy="88.2" r="1.15"/><circle cx="208.0" cy="89.7" r="1.15"/><circle cx="205.8" cy="97.6" r="1.15"/><circle cx="200.9" cy="110.5" r="1.15"/><circle cx="198.9" cy="106.7" r="1.15"/><circle cx="210.5" cy="95.6" r="1.15"/><circle cx="171.7" cy="109.0" r="1.15"/><circle cx="223.1" cy="104.7" r="1.15"/><circle cx="210.6" cy="85.5" r="1.15"/><circle cx="208.5" cy="92.2" r="1.15"/><circle cx="172.5" cy="94.6" r="1.15"/><circle cx="175.1" cy="104.3" r="1.15"/><circle cx="219.3" cy="104.5" r="1.15"/><circle cx="179.9" cy="99.1" r="1.15"/><circle cx="179.3" cy="98.1" r="1.15"/><circle cx="195.9" cy="85.0" r="1.15"/><circle cx="173.0" cy="104.7" r="1.15"/><circle cx="217.2" cy="100.4" r="1.15"/><circle cx="226.8" cy="94.1" r="1.15"/><circle cx="172.5" cy="95.7" r="1.15"/><circle cx="178.2" cy="92.6" r="1.15"/><circle cx="209.9" cy="99.6" r="1.15"/><circle cx="221.8" cy="101.4" r="1.15"/><circle cx="220.5" cy="101.1" r="1.15"/><circle cx="187.7" cy="86.5" r="1.15"/><circle cx="213.3" cy="89.7" r="1.15"/><circle cx="206.2" cy="101.6" r="1.15"/><circle cx="156.3" cy="100.3" r="1.15"/><circle cx="180.3" cy="88.3" r="1.15"/><circle cx="204.7" cy="100.9" r="1.15"/><circle cx="171.5" cy="103.5" r="1.15"/><circle cx="212.1" cy="98.8" r="1.15"/><circle cx="227.6" cy="111.9" r="1.15"/><circle cx="188.6" cy="86.7" r="1.15"/><circle cx="217.3" cy="110.4" r="1.15"/><circle cx="202.7" cy="82.7" r="1.15"/><circle cx="196.1" cy="84.2" r="1.15"/><circle cx="196.3" cy="107.0" r="1.15"/><circle cx="206.8" cy="95.4" r="1.15"/><circle cx="222.1" cy="96.1" r="1.15"/><circle cx="159.0" cy="102.3" r="1.15"/><circle cx="185.9" cy="93.1" r="1.15"/><circle cx="184.1" cy="89.1" r="1.15"/><circle cx="165.8" cy="101.5" r="1.15"/><circle cx="194.9" cy="94.2" r="1.15"/><circle cx="212.8" cy="96.6" r="1.15"/><circle cx="198.0" cy="102.0" r="1.15"/><circle cx="203.8" cy="104.6" r="1.15"/><circle cx="182.5" cy="105.3" r="1.15"/><circle cx="199.9" cy="88.4" r="1.15"/><circle cx="164.7" cy="100.7" r="1.15"/><circle cx="220.2" cy="111.4" r="1.15"/><circle cx="217.9" cy="107.2" r="1.15"/><circle cx="200.4" cy="88.1" r="1.15"/><circle cx="177.8" cy="108.4" r="1.15"/><circle cx="176.0" cy="96.0" r="1.15"/><circle cx="216.6" cy="99.4" r="1.15"/><circle cx="222.1" cy="104.3" r="1.15"/><circle cx="162.5" cy="105.4" r="1.15"/><circle cx="197.8" cy="98.8" r="1.15"/><circle cx="160.1" cy="108.2" r="1.15"/><circle cx="195.3" cy="83.2" r="1.15"/><circle cx="193.7" cy="86.2" r="1.15"/><circle cx="213.0" cy="85.3" r="1.15"/><circle cx="177.1" cy="112.0" r="1.15"/><circle cx="203.4" cy="86.1" r="1.15"/><circle cx="160.7" cy="101.7" r="1.15"/><circle cx="207.2" cy="111.9" r="1.15"/><circle cx="160.3" cy="104.7" r="1.15"/><circle cx="211.3" cy="109.9" r="1.15"/><circle cx="179.8" cy="86.3" r="1.15"/><circle cx="203.7" cy="84.7" r="1.15"/><circle cx="205.3" cy="84.3" r="1.15"/><circle cx="175.5" cy="94.9" r="1.15"/><circle cx="197.3" cy="83.8" r="1.15"/><circle cx="200.0" cy="92.7" r="1.15"/><circle cx="197.1" cy="97.9" r="1.15"/><circle cx="225.7" cy="105.7" r="1.15"/><circle cx="190.0" cy="84.6" r="1.15"/><circle cx="198.4" cy="111.2" r="1.15"/><circle cx="214.1" cy="99.5" r="1.15"/><circle cx="176.9" cy="102.2" r="1.15"/><circle cx="172.6" cy="93.6" r="1.15"/><circle cx="201.1" cy="109.4" r="1.15"/><circle cx="200.5" cy="88.8" r="1.15"/><circle cx="199.4" cy="99.1" r="1.15"/><circle cx="190.8" cy="98.3" r="1.15"/><circle cx="200.0" cy="93.3" r="1.15"/><circle cx="193.4" cy="110.2" r="1.15"/><circle cx="191.0" cy="104.6" r="1.15"/><circle cx="169.5" cy="92.7" r="1.15"/><circle cx="167.2" cy="110.8" r="1.15"/><circle cx="178.1" cy="90.0" r="1.15"/><circle cx="215.4" cy="98.0" r="1.15"/><circle cx="223.8" cy="100.4" r="1.15"/><circle cx="204.6" cy="94.1" r="1.15"/><circle cx="219.3" cy="94.8" r="1.15"/><circle cx="207.5" cy="95.4" r="1.15"/><circle cx="205.2" cy="93.9" r="1.15"/><circle cx="200.4" cy="81.3" r="1.15"/><circle cx="199.3" cy="91.2" r="1.15"/><circle cx="203.0" cy="112.2" r="1.15"/><circle cx="190.9" cy="93.7" r="1.15"/><circle cx="218.3" cy="108.1" r="1.15"/><circle cx="172.4" cy="102.1" r="1.15"/><circle cx="178.0" cy="91.7" r="1.15"/><circle cx="216.8" cy="92.0" r="1.15"/><circle cx="225.4" cy="96.0" r="1.15"/><circle cx="221.1" cy="109.4" r="1.15"/><circle cx="192.4" cy="95.3" r="1.15"/><circle cx="225.8" cy="106.5" r="1.15"/><circle cx="195.6" cy="104.1" r="1.15"/><circle cx="219.4" cy="102.1" r="1.15"/><circle cx="222.1" cy="95.7" r="1.15"/><circle cx="187.9" cy="101.3" r="1.15"/><circle cx="163.8" cy="101.9" r="1.15"/><circle cx="167.4" cy="90.1" r="1.15"/><circle cx="208.3" cy="84.4" r="1.15"/><circle cx="183.8" cy="100.5" r="1.15"/><circle cx="213.1" cy="112.9" r="1.15"/><circle cx="219.5" cy="86.3" r="1.15"/><circle cx="198.1" cy="100.0" r="1.15"/><circle cx="184.5" cy="87.9" r="1.15"/><circle cx="206.4" cy="108.8" r="1.15"/><circle cx="207.5" cy="101.7" r="1.15"/><circle cx="199.3" cy="107.3" r="1.15"/><circle cx="194.3" cy="107.0" r="1.15"/><circle cx="170.6" cy="93.0" r="1.15"/><circle cx="230.7" cy="95.0" r="1.15"/><circle cx="196.8" cy="99.7" r="1.15"/><circle cx="224.2" cy="103.3" r="1.15"/><circle cx="185.9" cy="100.3" r="1.15"/><circle cx="178.0" cy="107.8" r="1.15"/><circle cx="167.8" cy="91.7" r="1.15"/><circle cx="189.7" cy="84.7" r="1.15"/><circle cx="217.1" cy="85.2" r="1.15"/><circle cx="204.8" cy="83.8" r="1.15"/><circle cx="193.0" cy="108.0" r="1.15"/><circle cx="160.6" cy="107.6" r="1.15"/><circle cx="192.6" cy="104.1" r="1.15"/><circle cx="227.8" cy="109.7" r="1.15"/><circle cx="203.9" cy="86.5" r="1.15"/><circle cx="223.7" cy="110.3" r="1.15"/><circle cx="184.2" cy="103.8" r="1.15"/><circle cx="209.4" cy="99.3" r="1.15"/><circle cx="172.3" cy="88.5" r="1.15"/><circle cx="209.2" cy="110.2" r="1.15"/><circle cx="203.4" cy="105.0" r="1.15"/><circle cx="204.0" cy="84.8" r="1.15"/><circle cx="174.7" cy="99.2" r="1.15"/><circle cx="213.1" cy="93.8" r="1.15"/><circle cx="208.5" cy="91.0" r="1.15"/><circle cx="179.2" cy="85.6" r="1.15"/><circle cx="181.7" cy="110.9" r="1.15"/><circle cx="208.2" cy="92.5" r="1.15"/><circle cx="218.0" cy="102.0" r="1.15"/><circle cx="189.0" cy="101.8" r="1.15"/><circle cx="207.5" cy="90.8" r="1.15"/><circle cx="170.0" cy="101.6" r="1.15"/><circle cx="167.5" cy="94.2" r="1.15"/><circle cx="161.9" cy="97.3" r="1.15"/><circle cx="185.4" cy="89.8" r="1.15"/><circle cx="212.8" cy="104.4" r="1.15"/><circle cx="174.6" cy="96.5" r="1.15"/><circle cx="217.5" cy="105.5" r="1.15"/><circle cx="158.1" cy="105.3" r="1.15"/><circle cx="191.4" cy="81.9" r="1.15"/><circle cx="211.0" cy="97.9" r="1.15"/><circle cx="203.9" cy="87.0" r="1.15"/><circle cx="157.4" cy="103.3" r="1.15"/><circle cx="209.9" cy="86.0" r="1.15"/><circle cx="157.6" cy="99.0" r="1.15"/><circle cx="221.8" cy="98.7" r="1.15"/><circle cx="164.1" cy="103.1" r="1.15"/><circle cx="210.5" cy="98.7" r="1.15"/><circle cx="228.4" cy="95.7" r="1.15"/><circle cx="205.0" cy="81.8" r="1.15"/><circle cx="178.2" cy="89.9" r="1.15"/><circle cx="188.1" cy="96.9" r="1.15"/><circle cx="163.8" cy="102.8" r="1.15"/><circle cx="200.1" cy="80.8" r="1.15"/><circle cx="180.3" cy="106.7" r="1.15"/><circle cx="211.3" cy="92.4" r="1.15"/><circle cx="167.9" cy="104.8" r="1.15"/><circle cx="187.2" cy="98.1" r="1.15"/><circle cx="216.5" cy="111.3" r="1.15"/><circle cx="207.6" cy="102.1" r="1.15"/><circle cx="177.9" cy="89.0" r="1.15"/><circle cx="183.8" cy="106.7" r="1.15"/><circle cx="200.9" cy="89.2" r="1.15"/><circle cx="224.5" cy="97.1" r="1.15"/><circle cx="230.4" cy="101.6" r="1.15"/><circle cx="231.4" cy="95.8" r="1.15"/><circle cx="206.9" cy="93.3" r="1.15"/><circle cx="195.3" cy="85.8" r="1.15"/><circle cx="183.4" cy="93.6" r="1.15"/><circle cx="212.2" cy="85.2" r="1.15"/><circle cx="170.2" cy="101.2" r="1.15"/><circle cx="219.0" cy="104.9" r="1.15"/><circle cx="208.7" cy="101.4" r="1.15"/><circle cx="171.0" cy="96.3" r="1.15"/><circle cx="195.6" cy="90.8" r="1.15"/><circle cx="163.3" cy="108.8" r="1.15"/><circle cx="177.8" cy="94.6" r="1.15"/><circle cx="208.1" cy="88.6" r="1.15"/><circle cx="184.2" cy="109.7" r="1.15"/><circle cx="203.9" cy="94.7" r="1.15"/><circle cx="220.5" cy="92.3" r="1.15"/><circle cx="199.7" cy="86.4" r="1.15"/><circle cx="225.0" cy="97.0" r="1.15"/><circle cx="200.5" cy="106.2" r="1.15"/><circle cx="199.4" cy="89.9" r="1.15"/><circle cx="229.8" cy="99.5" r="1.15"/><circle cx="199.9" cy="96.9" r="1.15"/><circle cx="160.5" cy="106.6" r="1.15"/><circle cx="230.7" cy="104.6" r="1.15"/><circle cx="228.4" cy="92.6" r="1.15"/><circle cx="203.4" cy="102.6" r="1.15"/><circle cx="216.3" cy="103.6" r="1.15"/><circle cx="218.2" cy="91.1" r="1.15"/><circle cx="202.7" cy="108.4" r="1.15"/><circle cx="179.5" cy="101.5" r="1.15"/><circle cx="157.5" cy="101.8" r="1.15"/><circle cx="176.4" cy="98.1" r="1.15"/><circle cx="210.3" cy="111.2" r="1.15"/><circle cx="225.8" cy="103.6" r="1.15"/><circle cx="171.9" cy="94.9" r="1.15"/><circle cx="177.0" cy="108.4" r="1.15"/><circle cx="184.7" cy="108.8" r="1.15"/><circle cx="183.0" cy="100.8" r="1.15"/><circle cx="214.0" cy="91.2" r="1.15"/><circle cx="191.6" cy="82.9" r="1.15"/><circle cx="167.0" cy="106.3" r="1.15"/><circle cx="178.8" cy="103.2" r="1.15"/><circle cx="188.1" cy="103.5" r="1.15"/><circle cx="206.4" cy="88.5" r="1.15"/><circle cx="170.7" cy="95.3" r="1.15"/><circle cx="193.2" cy="109.4" r="1.15"/><circle cx="208.7" cy="94.4" r="1.15"/><circle cx="188.9" cy="99.8" r="1.15"/><circle cx="201.5" cy="111.0" r="1.15"/><circle cx="229.5" cy="106.3" r="1.15"/><circle cx="172.2" cy="92.2" r="1.15"/><circle cx="157.6" cy="105.1" r="1.15"/><circle cx="171.8" cy="107.3" r="1.15"/><circle cx="210.3" cy="105.6" r="1.15"/><circle cx="157.8" cy="99.6" r="1.15"/><circle cx="214.6" cy="84.6" r="1.15"/><circle cx="188.6" cy="97.9" r="1.15"/><circle cx="202.0" cy="85.7" r="1.15"/><circle cx="163.6" cy="98.9" r="1.15"/><circle cx="174.4" cy="101.5" r="1.15"/><circle cx="177.0" cy="91.5" r="1.15"/><circle cx="199.9" cy="111.4" r="1.15"/><circle cx="174.2" cy="87.5" r="1.15"/><circle cx="182.0" cy="90.5" r="1.15"/><circle cx="206.7" cy="103.7" r="1.15"/><circle cx="215.7" cy="85.8" r="1.15"/><circle cx="208.4" cy="82.5" r="1.15"/><circle cx="207.0" cy="87.3" r="1.15"/><circle cx="219.7" cy="107.8" r="1.15"/><circle cx="191.0" cy="103.9" r="1.15"/><circle cx="227.7" cy="109.5" r="1.15"/><circle cx="182.5" cy="102.6" r="1.15"/><circle cx="165.8" cy="95.1" r="1.15"/><circle cx="206.4" cy="94.1" r="1.15"/><circle cx="171.0" cy="111.3" r="1.15"/><circle cx="177.4" cy="97.8" r="1.15"/><circle cx="192.8" cy="86.1" r="1.15"/><circle cx="161.9" cy="103.1" r="1.15"/><circle cx="182.3" cy="104.0" r="1.15"/><circle cx="158.6" cy="103.8" r="1.15"/><circle cx="178.5" cy="107.9" r="1.15"/><circle cx="191.2" cy="84.8" r="1.15"/><circle cx="197.9" cy="93.0" r="1.15"/><circle cx="229.9" cy="104.0" r="1.15"/><circle cx="218.5" cy="92.6" r="1.15"/><circle cx="181.8" cy="110.4" r="1.15"/><circle cx="202.7" cy="99.6" r="1.15"/><circle cx="175.1" cy="109.0" r="1.15"/><circle cx="189.7" cy="105.6" r="1.15"/><circle cx="194.7" cy="99.4" r="1.15"/><circle cx="214.4" cy="87.6" r="1.15"/><circle cx="158.5" cy="106.8" r="1.15"/><circle cx="208.5" cy="104.7" r="1.15"/><circle cx="216.6" cy="86.6" r="1.15"/><circle cx="222.6" cy="101.1" r="1.15"/><circle cx="227.7" cy="98.3" r="1.15"/><circle cx="206.4" cy="92.7" r="1.15"/><circle cx="160.5" cy="109.2" r="1.15"/><circle cx="160.5" cy="109.3" r="1.15"/><circle cx="172.9" cy="103.3" r="1.15"/><circle cx="200.7" cy="87.8" r="1.15"/><circle cx="180.3" cy="88.0" r="1.15"/><circle cx="164.3" cy="103.0" r="1.15"/><circle cx="175.1" cy="111.3" r="1.15"/><circle cx="186.2" cy="88.7" r="1.15"/><circle cx="210.3" cy="109.7" r="1.15"/><circle cx="183.5" cy="104.2" r="1.15"/><circle cx="203.1" cy="89.4" r="1.15"/><circle cx="186.9" cy="93.5" r="1.15"/><circle cx="183.0" cy="86.3" r="1.15"/><circle cx="175.0" cy="95.7" r="1.15"/><circle cx="186.3" cy="99.2" r="1.15"/><circle cx="186.4" cy="96.8" r="1.15"/><circle cx="187.8" cy="90.9" r="1.15"/><circle cx="220.2" cy="89.7" r="1.15"/><circle cx="164.0" cy="99.0" r="1.15"/><circle cx="191.3" cy="106.6" r="1.15"/><circle cx="206.6" cy="90.0" r="1.15"/><circle cx="165.0" cy="99.2" r="1.15"/><circle cx="169.7" cy="104.9" r="1.15"/><circle cx="200.8" cy="87.3" r="1.15"/><circle cx="214.8" cy="111.9" r="1.15"/><circle cx="190.6" cy="91.6" r="1.15"/><circle cx="225.6" cy="97.2" r="1.15"/><circle cx="159.0" cy="103.5" r="1.15"/><circle cx="209.0" cy="103.0" r="1.15"/><circle cx="165.7" cy="110.6" r="1.15"/><circle cx="221.6" cy="110.9" r="1.15"/><circle cx="218.4" cy="98.0" r="1.15"/><circle cx="209.0" cy="84.1" r="1.15"/><circle cx="204.6" cy="91.7" r="1.15"/><circle cx="161.2" cy="106.7" r="1.15"/><circle cx="197.0" cy="85.5" r="1.15"/><circle cx="195.3" cy="88.7" r="1.15"/><circle cx="178.3" cy="87.5" r="1.15"/><circle cx="212.5" cy="92.3" r="1.15"/><circle cx="221.3" cy="90.8" r="1.15"/><circle cx="195.3" cy="99.0" r="1.15"/><circle cx="195.2" cy="94.7" r="1.15"/><circle cx="160.0" cy="106.2" r="1.15"/><circle cx="209.1" cy="85.1" r="1.15"/><circle cx="180.4" cy="90.2" r="1.15"/><circle cx="210.0" cy="82.8" r="1.15"/><circle cx="204.4" cy="94.7" r="1.15"/><circle cx="222.2" cy="107.1" r="1.15"/><circle cx="228.9" cy="109.1" r="1.15"/><circle cx="166.2" cy="100.2" r="1.15"/><circle cx="191.3" cy="100.9" r="1.15"/><circle cx="208.7" cy="103.4" r="1.15"/><circle cx="161.1" cy="119.5" r="1.15"/><circle cx="151.5" cy="120.0" r="1.15"/><circle cx="146.6" cy="128.4" r="1.15"/><circle cx="145.4" cy="133.9" r="1.15"/><circle cx="154.4" cy="125.0" r="1.15"/><circle cx="153.5" cy="123.1" r="1.15"/><circle cx="159.8" cy="132.4" r="1.15"/><circle cx="178.5" cy="124.2" r="1.15"/><circle cx="162.3" cy="125.7" r="1.15"/><circle cx="159.5" cy="130.8" r="1.15"/><circle cx="148.7" cy="135.0" r="1.15"/><circle cx="182.0" cy="129.2" r="1.15"/><circle cx="151.0" cy="125.0" r="1.15"/><circle cx="162.8" cy="120.1" r="1.15"/><circle cx="184.4" cy="134.5" r="1.15"/><circle cx="172.1" cy="135.2" r="1.15"/><circle cx="151.0" cy="124.9" r="1.15"/><circle cx="175.1" cy="136.6" r="1.15"/><circle cx="163.2" cy="124.8" r="1.15"/><circle cx="182.0" cy="131.7" r="1.15"/><circle cx="167.9" cy="137.2" r="1.15"/><circle cx="145.7" cy="122.3" r="1.15"/><circle cx="164.4" cy="136.3" r="1.15"/><circle cx="150.6" cy="135.3" r="1.15"/><circle cx="146.1" cy="124.1" r="1.15"/><circle cx="163.3" cy="133.6" r="1.15"/><circle cx="173.9" cy="125.0" r="1.15"/><circle cx="166.0" cy="125.1" r="1.15"/><circle cx="150.3" cy="121.4" r="1.15"/><circle cx="173.6" cy="121.4" r="1.15"/><circle cx="149.2" cy="121.2" r="1.15"/><circle cx="185.4" cy="137.5" r="1.15"/><circle cx="152.2" cy="123.9" r="1.15"/><circle cx="170.2" cy="122.9" r="1.15"/><circle cx="147.1" cy="131.5" r="1.15"/><circle cx="160.7" cy="127.2" r="1.15"/><circle cx="146.0" cy="121.8" r="1.15"/><circle cx="179.7" cy="135.6" r="1.15"/><circle cx="160.3" cy="123.3" r="1.15"/><circle cx="154.1" cy="128.0" r="1.15"/><circle cx="150.6" cy="123.9" r="1.15"/><circle cx="161.3" cy="117.3" r="1.15"/><circle cx="156.3" cy="124.1" r="1.15"/><circle cx="157.0" cy="128.2" r="1.15"/><circle cx="183.4" cy="137.1" r="1.15"/><circle cx="155.6" cy="118.5" r="1.15"/><circle cx="177.0" cy="134.2" r="1.15"/><circle cx="149.9" cy="117.4" r="1.15"/><circle cx="160.4" cy="135.0" r="1.15"/><circle cx="145.9" cy="126.4" r="1.15"/><circle cx="145.7" cy="120.6" r="1.15"/><circle cx="167.5" cy="131.9" r="1.15"/><circle cx="152.7" cy="116.6" r="1.15"/><circle cx="166.7" cy="126.9" r="1.15"/><circle cx="146.0" cy="118.8" r="1.15"/><circle cx="157.9" cy="126.4" r="1.15"/><circle cx="161.9" cy="122.3" r="1.15"/><circle cx="182.5" cy="140.4" r="1.15"/><circle cx="157.3" cy="135.7" r="1.15"/><circle cx="164.1" cy="129.1" r="1.15"/><circle cx="151.0" cy="126.6" r="1.15"/><circle cx="187.6" cy="133.8" r="1.15"/><circle cx="173.8" cy="126.5" r="1.15"/><circle cx="150.7" cy="132.1" r="1.15"/><circle cx="150.8" cy="127.0" r="1.15"/><circle cx="149.0" cy="125.8" r="1.15"/><circle cx="165.6" cy="131.1" r="1.15"/><circle cx="155.1" cy="120.5" r="1.15"/><circle cx="155.6" cy="130.3" r="1.15"/><circle cx="144.1" cy="127.9" r="1.15"/><circle cx="146.2" cy="120.2" r="1.15"/><circle cx="164.1" cy="130.8" r="1.15"/><circle cx="147.9" cy="127.6" r="1.15"/><circle cx="161.3" cy="119.7" r="1.15"/><circle cx="145.3" cy="134.8" r="1.15"/><circle cx="165.5" cy="129.0" r="1.15"/><circle cx="160.5" cy="124.5" r="1.15"/><circle cx="166.5" cy="121.5" r="1.15"/><circle cx="183.0" cy="136.6" r="1.15"/><circle cx="144.3" cy="118.8" r="1.15"/><circle cx="175.1" cy="128.1" r="1.15"/><circle cx="156.6" cy="121.9" r="1.15"/><circle cx="169.7" cy="127.1" r="1.15"/><circle cx="147.7" cy="127.8" r="1.15"/><circle cx="170.7" cy="137.4" r="1.15"/><circle cx="169.3" cy="128.0" r="1.15"/><circle cx="155.7" cy="127.9" r="1.15"/><circle cx="150.2" cy="131.7" r="1.15"/><circle cx="147.3" cy="126.6" r="1.15"/><circle cx="144.6" cy="129.0" r="1.15"/><circle cx="157.1" cy="118.8" r="1.15"/><circle cx="172.8" cy="121.3" r="1.15"/><circle cx="179.4" cy="127.4" r="1.15"/><circle cx="154.3" cy="130.4" r="1.15"/><circle cx="152.3" cy="121.9" r="1.15"/><circle cx="145.8" cy="121.2" r="1.15"/><circle cx="152.1" cy="119.1" r="1.15"/><circle cx="161.1" cy="126.7" r="1.15"/><circle cx="169.3" cy="129.3" r="1.15"/><circle cx="173.4" cy="131.0" r="1.15"/><circle cx="148.5" cy="122.1" r="1.15"/><circle cx="184.8" cy="138.4" r="1.15"/><circle cx="163.5" cy="124.4" r="1.15"/><circle cx="164.9" cy="122.8" r="1.15"/><circle cx="171.8" cy="132.9" r="1.15"/><circle cx="148.2" cy="123.5" r="1.15"/><circle cx="162.9" cy="121.6" r="1.15"/><circle cx="146.9" cy="119.0" r="1.15"/><circle cx="178.5" cy="125.8" r="1.15"/><circle cx="154.8" cy="121.5" r="1.15"/><circle cx="156.5" cy="130.6" r="1.15"/><circle cx="174.9" cy="126.2" r="1.15"/><circle cx="158.2" cy="118.0" r="1.15"/><circle cx="149.0" cy="133.1" r="1.15"/><circle cx="98.1" cy="104.9" r="1.15"/><circle cx="129.8" cy="133.7" r="1.15"/><circle cx="123.2" cy="130.2" r="1.15"/><circle cx="136.5" cy="133.8" r="1.15"/><circle cx="113.3" cy="127.4" r="1.15"/><circle cx="93.0" cy="104.7" r="1.15"/><circle cx="117.9" cy="122.6" r="1.15"/><circle cx="103.4" cy="114.8" r="1.15"/><circle cx="127.2" cy="131.6" r="1.15"/><circle cx="91.9" cy="104.3" r="1.15"/><circle cx="105.7" cy="114.6" r="1.15"/><circle cx="104.4" cy="121.3" r="1.15"/><circle cx="104.4" cy="115.8" r="1.15"/><circle cx="118.0" cy="126.6" r="1.15"/><circle cx="106.5" cy="118.2" r="1.15"/><circle cx="119.6" cy="131.7" r="1.15"/><circle cx="128.5" cy="131.6" r="1.15"/><circle cx="101.6" cy="113.0" r="1.15"/><circle cx="120.1" cy="127.0" r="1.15"/><circle cx="112.6" cy="125.2" r="1.15"/><circle cx="108.7" cy="122.4" r="1.15"/><circle cx="103.5" cy="110.1" r="1.15"/><circle cx="110.6" cy="119.8" r="1.15"/><circle cx="108.4" cy="121.2" r="1.15"/><circle cx="125.1" cy="130.5" r="1.15"/><circle cx="107.7" cy="119.5" r="1.15"/><circle cx="117.5" cy="125.6" r="1.15"/><circle cx="140.5" cy="131.4" r="1.15"/><circle cx="128.6" cy="132.1" r="1.15"/><circle cx="104.0" cy="118.8" r="1.15"/><circle cx="101.1" cy="112.4" r="1.15"/><circle cx="143.5" cy="135.4" r="1.15"/><circle cx="142.5" cy="133.0" r="1.15"/><circle cx="88.8" cy="101.8" r="1.15"/><circle cx="102.5" cy="112.7" r="1.15"/><circle cx="115.6" cy="125.5" r="1.15"/><circle cx="99.7" cy="107.0" r="1.15"/><circle cx="126.8" cy="128.1" r="1.15"/><circle cx="89.6" cy="102.7" r="1.15"/><circle cx="108.4" cy="125.6" r="1.15"/><circle cx="93.4" cy="104.9" r="1.15"/><circle cx="89.2" cy="102.4" r="1.15"/><circle cx="115.8" cy="125.7" r="1.15"/><circle cx="142.1" cy="133.7" r="1.15"/><circle cx="140.2" cy="132.6" r="1.15"/><circle cx="92.6" cy="105.5" r="1.15"/><circle cx="116.4" cy="126.2" r="1.15"/><circle cx="124.5" cy="131.0" r="1.15"/><circle cx="112.3" cy="122.6" r="1.15"/><circle cx="94.3" cy="106.0" r="1.15"/><circle cx="143.6" cy="132.7" r="1.15"/><circle cx="104.7" cy="117.7" r="1.15"/><circle cx="144.1" cy="130.1" r="1.15"/><circle cx="98.0" cy="105.6" r="1.15"/><circle cx="100.1" cy="109.8" r="1.15"/><circle cx="102.5" cy="109.8" r="1.15"/><circle cx="104.0" cy="112.9" r="1.15"/><circle cx="98.6" cy="108.6" r="1.15"/><circle cx="140.9" cy="133.2" r="1.15"/><circle cx="136.5" cy="134.7" r="1.15"/><circle cx="92.7" cy="103.1" r="1.15"/><circle cx="96.3" cy="106.9" r="1.15"/><circle cx="132.9" cy="131.1" r="1.15"/><circle cx="111.2" cy="120.6" r="1.15"/><circle cx="101.7" cy="114.5" r="1.15"/><circle cx="131.4" cy="131.0" r="1.15"/><circle cx="96.3" cy="106.0" r="1.15"/><circle cx="96.1" cy="107.0" r="1.15"/><circle cx="113.5" cy="123.1" r="1.15"/><circle cx="89.3" cy="101.9" r="1.15"/><circle cx="102.6" cy="111.1" r="1.15"/><circle cx="125.1" cy="133.4" r="1.15"/><circle cx="134.6" cy="133.3" r="1.15"/><circle cx="117.0" cy="124.8" r="1.15"/><circle cx="108.5" cy="117.6" r="1.15"/><circle cx="113.3" cy="123.4" r="1.15"/><circle cx="130.6" cy="129.8" r="1.15"/><circle cx="111.6" cy="124.2" r="1.15"/><circle cx="116.4" cy="124.2" r="1.15"/><circle cx="114.6" cy="122.5" r="1.15"/><circle cx="134.4" cy="132.6" r="1.15"/><circle cx="116.9" cy="125.6" r="1.15"/><circle cx="99.8" cy="107.8" r="1.15"/><circle cx="86.4" cy="98.9" r="1.15"/><circle cx="94.1" cy="104.4" r="1.15"/><circle cx="134.2" cy="131.2" r="1.15"/><circle cx="94.9" cy="104.3" r="1.15"/><circle cx="87.7" cy="99.2" r="1.15"/><circle cx="88.6" cy="102.0" r="1.15"/><circle cx="117.4" cy="124.3" r="1.15"/><circle cx="142.3" cy="106.9" r="1.15"/><circle cx="137.7" cy="103.4" r="1.15"/><circle cx="142.2" cy="105.3" r="1.15"/><circle cx="101.2" cy="97.3" r="1.15"/><circle cx="133.2" cy="103.3" r="1.15"/><circle cx="99.1" cy="97.7" r="1.15"/><circle cx="127.4" cy="102.7" r="1.15"/><circle cx="122.9" cy="101.4" r="1.15"/><circle cx="118.9" cy="101.6" r="1.15"/><circle cx="146.6" cy="108.3" r="1.15"/><circle cx="114.1" cy="100.6" r="1.15"/><circle cx="154.0" cy="107.7" r="1.15"/><circle cx="118.4" cy="101.6" r="1.15"/><circle cx="150.1" cy="106.4" r="1.15"/><circle cx="113.9" cy="98.4" r="1.15"/><circle cx="110.1" cy="101.2" r="1.15"/><circle cx="135.5" cy="102.3" r="1.15"/><circle cx="153.0" cy="106.7" r="1.15"/><circle cx="148.9" cy="108.4" r="1.15"/><circle cx="115.1" cy="99.8" r="1.15"/><circle cx="127.7" cy="103.1" r="1.15"/><circle cx="123.5" cy="100.7" r="1.15"/><circle cx="125.5" cy="102.9" r="1.15"/><circle cx="123.3" cy="101.3" r="1.15"/><circle cx="134.3" cy="103.4" r="1.15"/><circle cx="153.0" cy="106.8" r="1.15"/><circle cx="116.5" cy="100.1" r="1.15"/><circle cx="129.9" cy="104.7" r="1.15"/><circle cx="132.9" cy="104.1" r="1.15"/><circle cx="113.2" cy="101.6" r="1.15"/><circle cx="116.4" cy="102.6" r="1.15"/><circle cx="122.7" cy="101.6" r="1.15"/><circle cx="141.0" cy="104.5" r="1.15"/><circle cx="139.2" cy="106.1" r="1.15"/><circle cx="103.2" cy="98.7" r="1.15"/><circle cx="127.1" cy="102.9" r="1.15"/><circle cx="116.5" cy="100.7" r="1.15"/><circle cx="204.5" cy="120.3" r="1.15"/><circle cx="190.1" cy="121.3" r="1.15"/><circle cx="203.1" cy="129.4" r="1.15"/><circle cx="187.1" cy="117.1" r="1.15"/><circle cx="199.1" cy="117.0" r="1.15"/><circle cx="201.0" cy="129.6" r="1.15"/><circle cx="201.5" cy="120.3" r="1.15"/><circle cx="201.6" cy="118.7" r="1.15"/><circle cx="203.7" cy="116.5" r="1.15"/><circle cx="193.5" cy="119.5" r="1.15"/><circle cx="201.6" cy="127.8" r="1.15"/><circle cx="196.1" cy="123.7" r="1.15"/><circle cx="191.6" cy="124.6" r="1.15"/><circle cx="204.2" cy="122.2" r="1.15"/><circle cx="194.8" cy="124.5" r="1.15"/><circle cx="193.2" cy="130.7" r="1.15"/><circle cx="190.1" cy="122.8" r="1.15"/><circle cx="199.1" cy="127.4" r="1.15"/><circle cx="191.8" cy="116.2" r="1.15"/><circle cx="199.1" cy="116.3" r="1.15"/><circle cx="201.7" cy="114.3" r="1.15"/><circle cx="195.6" cy="130.0" r="1.15"/><circle cx="190.9" cy="115.6" r="1.15"/><circle cx="188.2" cy="115.7" r="1.15"/><circle cx="198.8" cy="126.6" r="1.15"/><circle cx="204.0" cy="120.9" r="1.15"/><circle cx="192.9" cy="129.5" r="1.15"/><circle cx="201.0" cy="131.6" r="1.15"/><circle cx="193.8" cy="128.4" r="1.15"/><circle cx="190.0" cy="123.7" r="1.15"/><circle cx="200.3" cy="127.0" r="1.15"/><circle cx="199.2" cy="115.6" r="1.15"/><circle cx="201.6" cy="124.2" r="1.15"/><circle cx="197.8" cy="118.0" r="1.15"/><circle cx="201.0" cy="127.7" r="1.15"/><circle cx="190.7" cy="130.7" r="1.15"/><circle cx="84.0" cy="102.9" r="1.15"/><circle cx="81.8" cy="99.0" r="1.15"/><circle cx="80.7" cy="97.2" r="1.15"/><circle cx="85.2" cy="99.9" r="1.15"/><circle cx="82.3" cy="99.3" r="1.15"/><circle cx="77.0" cy="86.0" r="1.15"/><circle cx="80.0" cy="88.0" r="1.15"/><circle cx="82.0" cy="87.0" r="1.15"/><circle cx="81.0" cy="96.0" r="1.15"/><circle cx="82.0" cy="98.0" r="1.15"/><circle cx="99.0" cy="88.0" r="1.15"/><circle cx="101.0" cy="89.0" r="1.15"/><circle cx="103.0" cy="88.0" r="1.15"/><circle cx="101.0" cy="98.0" r="1.15"/><circle cx="104.0" cy="99.0" r="1.15"/><circle cx="106.0" cy="100.0" r="1.15"/>
</g>
<g fill="#e04b5a">
<circle cx="129.3" cy="60.5" r="1.15"/><circle cx="164.3" cy="43.8" r="1.15"/><circle cx="192.9" cy="44.2" r="1.15"/><circle cx="102.8" cy="68.3" r="1.15"/><circle cx="100.8" cy="64.6" r="1.15"/><circle cx="126.5" cy="62.0" r="1.15"/><circle cx="214.1" cy="64.9" r="1.15"/><circle cx="144.9" cy="51.7" r="1.15"/><circle cx="111.0" cy="65.9" r="1.15"/><circle cx="74.6" cy="66.9" r="1.15"/><circle cx="157.0" cy="47.2" r="1.15"/><circle cx="145.4" cy="56.2" r="1.15"/><circle cx="193.5" cy="47.8" r="1.15"/><circle cx="156.0" cy="48.4" r="1.15"/><circle cx="213.8" cy="67.6" r="1.15"/><circle cx="210.5" cy="63.2" r="1.15"/><circle cx="155.3" cy="50.5" r="1.15"/><circle cx="148.8" cy="53.5" r="1.15"/><circle cx="213.5" cy="65.2" r="1.15"/><circle cx="145.2" cy="49.8" r="1.15"/><circle cx="119.8" cy="63.5" r="1.15"/><circle cx="178.5" cy="40.4" r="1.15"/><circle cx="93.3" cy="70.3" r="1.15"/><circle cx="210.7" cy="62.1" r="1.15"/><circle cx="145.0" cy="53.1" r="1.15"/><circle cx="219.2" cy="71.2" r="1.15"/><circle cx="117.3" cy="67.4" r="1.15"/><circle cx="213.7" cy="63.8" r="1.15"/><circle cx="197.4" cy="53.6" r="1.15"/><circle cx="91.9" cy="69.7" r="1.15"/><circle cx="129.2" cy="60.2" r="1.15"/><circle cx="203.5" cy="54.0" r="1.15"/><circle cx="185.3" cy="39.9" r="1.15"/><circle cx="129.5" cy="58.2" r="1.15"/><circle cx="117.5" cy="67.1" r="1.15"/><circle cx="102.2" cy="67.1" r="1.15"/><circle cx="124.5" cy="68.7" r="1.15"/><circle cx="213.7" cy="67.5" r="1.15"/><circle cx="172.9" cy="46.8" r="1.15"/><circle cx="160.0" cy="45.5" r="1.15"/><circle cx="115.8" cy="67.2" r="1.15"/><circle cx="195.0" cy="49.2" r="1.15"/><circle cx="83.8" cy="70.9" r="1.15"/><circle cx="195.5" cy="45.2" r="1.15"/><circle cx="179.1" cy="41.2" r="1.15"/><circle cx="158.5" cy="46.3" r="1.15"/><circle cx="151.9" cy="44.3" r="1.15"/><circle cx="80.7" cy="71.7" r="1.15"/><circle cx="172.6" cy="39.2" r="1.15"/><circle cx="172.7" cy="40.8" r="1.15"/><circle cx="89.3" cy="68.2" r="1.15"/><circle cx="104.3" cy="69.8" r="1.15"/><circle cx="215.2" cy="71.3" r="1.15"/><circle cx="206.6" cy="51.1" r="1.15"/><circle cx="163.5" cy="45.4" r="1.15"/><circle cx="99.4" cy="69.4" r="1.15"/><circle cx="137.5" cy="59.2" r="1.15"/><circle cx="161.2" cy="38.9" r="1.15"/><circle cx="108.7" cy="65.7" r="1.15"/><circle cx="162.6" cy="42.3" r="1.15"/><circle cx="215.7" cy="66.5" r="1.15"/><circle cx="174.8" cy="45.4" r="1.15"/><circle cx="152.0" cy="47.5" r="1.15"/><circle cx="148.8" cy="48.3" r="1.15"/><circle cx="112.7" cy="64.4" r="1.15"/><circle cx="148.4" cy="49.9" r="1.15"/><circle cx="173.0" cy="45.4" r="1.15"/><circle cx="107.7" cy="70.5" r="1.15"/><circle cx="114.3" cy="67.4" r="1.15"/><circle cx="213.3" cy="65.2" r="1.15"/><circle cx="111.1" cy="68.9" r="1.15"/><circle cx="207.3" cy="55.9" r="1.15"/><circle cx="109.3" cy="68.4" r="1.15"/><circle cx="80.3" cy="67.1" r="1.15"/><circle cx="140.0" cy="59.4" r="1.15"/><circle cx="100.1" cy="70.7" r="1.15"/><circle cx="153.9" cy="47.1" r="1.15"/><circle cx="152.6" cy="46.7" r="1.15"/><circle cx="184.1" cy="41.0" r="1.15"/><circle cx="155.3" cy="47.3" r="1.15"/><circle cx="74.6" cy="66.0" r="1.15"/><circle cx="164.3" cy="39.3" r="1.15"/><circle cx="209.2" cy="64.9" r="1.15"/><circle cx="124.4" cy="62.2" r="1.15"/><circle cx="194.6" cy="50.5" r="1.15"/><circle cx="141.7" cy="51.1" r="1.15"/><circle cx="188.8" cy="41.6" r="1.15"/><circle cx="108.6" cy="65.9" r="1.15"/><circle cx="187.5" cy="41.6" r="1.15"/><circle cx="113.9" cy="63.8" r="1.15"/><circle cx="112.9" cy="68.8" r="1.15"/><circle cx="177.9" cy="45.5" r="1.15"/><circle cx="189.1" cy="41.0" r="1.15"/><circle cx="160.8" cy="42.3" r="1.15"/><circle cx="208.5" cy="59.8" r="1.15"/><circle cx="126.4" cy="63.7" r="1.15"/><circle cx="153.9" cy="46.8" r="1.15"/><circle cx="91.5" cy="66.1" r="1.15"/><circle cx="157.1" cy="46.0" r="1.15"/><circle cx="159.5" cy="45.8" r="1.15"/><circle cx="90.8" cy="63.7" r="1.15"/><circle cx="210.6" cy="62.8" r="1.15"/><circle cx="212.2" cy="65.9" r="1.15"/><circle cx="133.4" cy="60.3" r="1.15"/><circle cx="110.3" cy="71.1" r="1.15"/><circle cx="213.3" cy="60.2" r="1.15"/><circle cx="110.7" cy="68.7" r="1.15"/><circle cx="206.7" cy="60.6" r="1.15"/><circle cx="86.7" cy="67.4" r="1.15"/><circle cx="115.8" cy="68.6" r="1.15"/><circle cx="84.2" cy="70.2" r="1.15"/><circle cx="112.2" cy="66.1" r="1.15"/><circle cx="174.6" cy="39.1" r="1.15"/><circle cx="151.7" cy="49.9" r="1.15"/><circle cx="86.7" cy="70.1" r="1.15"/><circle cx="206.7" cy="57.9" r="1.15"/><circle cx="109.9" cy="64.0" r="1.15"/><circle cx="153.3" cy="46.0" r="1.15"/><circle cx="177.0" cy="40.3" r="1.15"/><circle cx="142.3" cy="50.1" r="1.15"/><circle cx="78.0" cy="70.6" r="1.15"/><circle cx="192.9" cy="40.6" r="1.15"/><circle cx="94.8" cy="66.2" r="1.15"/><circle cx="173.1" cy="42.9" r="1.15"/><circle cx="82.1" cy="64.5" r="1.15"/><circle cx="207.0" cy="51.7" r="1.15"/><circle cx="90.0" cy="65.3" r="1.15"/><circle cx="199.8" cy="52.4" r="1.15"/><circle cx="128.7" cy="60.3" r="1.15"/><circle cx="86.6" cy="67.0" r="1.15"/><circle cx="219.1" cy="70.4" r="1.15"/><circle cx="172.0" cy="40.2" r="1.15"/><circle cx="139.7" cy="53.1" r="1.15"/><circle cx="162.6" cy="47.2" r="1.15"/><circle cx="75.9" cy="68.1" r="1.15"/><circle cx="217.4" cy="68.4" r="1.15"/><circle cx="210.8" cy="59.2" r="1.15"/><circle cx="184.9" cy="45.1" r="1.15"/><circle cx="189.7" cy="46.6" r="1.15"/><circle cx="82.6" cy="66.1" r="1.15"/><circle cx="108.1" cy="66.3" r="1.15"/><circle cx="171.1" cy="38.3" r="1.15"/><circle cx="134.6" cy="57.0" r="1.15"/><circle cx="203.3" cy="53.4" r="1.15"/><circle cx="103.1" cy="67.1" r="1.15"/><circle cx="159.1" cy="44.1" r="1.15"/><circle cx="214.0" cy="70.0" r="1.15"/><circle cx="112.7" cy="71.1" r="1.15"/><circle cx="211.2" cy="62.6" r="1.15"/><circle cx="74.5" cy="65.0" r="1.15"/><circle cx="90.1" cy="66.6" r="1.15"/><circle cx="148.9" cy="50.5" r="1.15"/><circle cx="114.5" cy="64.1" r="1.15"/><circle cx="113.4" cy="71.3" r="1.15"/><circle cx="197.1" cy="50.1" r="1.15"/><circle cx="111.6" cy="69.3" r="1.15"/><circle cx="119.0" cy="65.0" r="1.15"/><circle cx="113.9" cy="64.4" r="1.15"/><circle cx="153.9" cy="46.6" r="1.15"/><circle cx="95.9" cy="65.1" r="1.15"/><circle cx="212.4" cy="60.8" r="1.15"/><circle cx="124.4" cy="62.8" r="1.15"/><circle cx="87.8" cy="70.8" r="1.15"/><circle cx="102.7" cy="65.9" r="1.15"/><circle cx="203.0" cy="51.8" r="1.15"/><circle cx="106.8" cy="70.5" r="1.15"/><circle cx="195.9" cy="44.7" r="1.15"/><circle cx="131.7" cy="63.8" r="1.15"/><circle cx="214.6" cy="69.4" r="1.15"/><circle cx="207.8" cy="63.5" r="1.15"/><circle cx="92.7" cy="68.0" r="1.15"/><circle cx="167.6" cy="42.9" r="1.15"/><circle cx="81.3" cy="68.1" r="1.15"/><circle cx="178.5" cy="39.4" r="1.15"/><circle cx="180.6" cy="45.4" r="1.15"/><circle cx="197.6" cy="45.6" r="1.15"/><circle cx="159.9" cy="46.0" r="1.15"/><circle cx="208.7" cy="58.6" r="1.15"/><circle cx="119.6" cy="61.7" r="1.15"/><circle cx="105.7" cy="66.9" r="1.15"/><circle cx="200.8" cy="48.6" r="1.15"/><circle cx="144.5" cy="51.9" r="1.15"/><circle cx="216.5" cy="69.6" r="1.15"/><circle cx="137.5" cy="58.3" r="1.15"/><circle cx="192.8" cy="47.0" r="1.15"/><circle cx="94.8" cy="70.3" r="1.15"/><circle cx="153.0" cy="46.5" r="1.15"/><circle cx="80.1" cy="67.2" r="1.15"/><circle cx="118.9" cy="65.7" r="1.15"/><circle cx="147.8" cy="50.8" r="1.15"/><circle cx="210.9" cy="62.9" r="1.15"/><circle cx="107.4" cy="64.0" r="1.15"/><circle cx="217.1" cy="70.9" r="1.15"/><circle cx="117.8" cy="62.2" r="1.15"/><circle cx="117.9" cy="65.0" r="1.15"/><circle cx="182.3" cy="43.6" r="1.15"/><circle cx="97.2" cy="69.0" r="1.15"/><circle cx="146.1" cy="53.9" r="1.15"/><circle cx="141.9" cy="50.1" r="1.15"/><circle cx="206.6" cy="58.7" r="1.15"/><circle cx="123.3" cy="57.8" r="1.15"/><circle cx="164.6" cy="43.5" r="1.15"/><circle cx="182.1" cy="41.1" r="1.15"/><circle cx="102.5" cy="67.1" r="1.15"/><circle cx="187.3" cy="44.2" r="1.15"/><circle cx="109.6" cy="71.1" r="1.15"/><circle cx="130.5" cy="62.8" r="1.15"/><circle cx="143.1" cy="58.3" r="1.15"/><circle cx="128.3" cy="62.5" r="1.15"/><circle cx="142.2" cy="53.4" r="1.15"/><circle cx="216.8" cy="71.8" r="1.15"/><circle cx="208.2" cy="61.7" r="1.15"/><circle cx="103.1" cy="68.1" r="1.15"/><circle cx="143.3" cy="57.3" r="1.15"/><circle cx="184.7" cy="40.4" r="1.15"/><circle cx="155.2" cy="44.9" r="1.15"/><circle cx="212.5" cy="62.5" r="1.15"/><circle cx="174.8" cy="42.1" r="1.15"/><circle cx="213.3" cy="67.0" r="1.15"/><circle cx="213.6" cy="71.1" r="1.15"/><circle cx="213.5" cy="59.5" r="1.15"/><circle cx="163.7" cy="47.2" r="1.15"/><circle cx="191.7" cy="40.8" r="1.15"/><circle cx="155.8" cy="46.6" r="1.15"/><circle cx="218.7" cy="69.6" r="1.15"/><circle cx="219.3" cy="70.0" r="1.15"/><circle cx="165.7" cy="39.8" r="1.15"/><circle cx="185.4" cy="43.1" r="1.15"/><circle cx="133.0" cy="56.1" r="1.15"/><circle cx="87.1" cy="71.6" r="1.15"/><circle cx="91.3" cy="67.5" r="1.15"/><circle cx="119.7" cy="63.2" r="1.15"/><circle cx="134.3" cy="57.6" r="1.15"/><circle cx="197.0" cy="44.7" r="1.15"/><circle cx="93.3" cy="69.5" r="1.15"/><circle cx="130.4" cy="56.6" r="1.15"/><circle cx="211.6" cy="60.8" r="1.15"/><circle cx="173.7" cy="39.5" r="1.15"/><circle cx="191.1" cy="48.4" r="1.15"/><circle cx="152.7" cy="49.2" r="1.15"/><circle cx="168.2" cy="42.4" r="1.15"/><circle cx="97.1" cy="72.8" r="1.15"/><circle cx="175.6" cy="44.2" r="1.15"/><circle cx="141.8" cy="53.4" r="1.15"/><circle cx="88.1" cy="70.4" r="1.15"/><circle cx="124.6" cy="59.7" r="1.15"/><circle cx="213.1" cy="65.1" r="1.15"/><circle cx="159.5" cy="44.7" r="1.15"/><circle cx="91.9" cy="65.3" r="1.15"/><circle cx="199.8" cy="47.2" r="1.15"/><circle cx="121.8" cy="61.9" r="1.15"/><circle cx="200.0" cy="54.1" r="1.15"/><circle cx="104.8" cy="70.2" r="1.15"/><circle cx="97.9" cy="70.8" r="1.15"/><circle cx="154.7" cy="45.6" r="1.15"/><circle cx="162.3" cy="40.0" r="1.15"/><circle cx="101.8" cy="65.3" r="1.15"/><circle cx="203.5" cy="50.0" r="1.15"/><circle cx="207.8" cy="55.0" r="1.15"/><circle cx="85.3" cy="68.8" r="1.15"/><circle cx="181.1" cy="42.7" r="1.15"/><circle cx="209.1" cy="54.1" r="1.15"/><circle cx="197.1" cy="43.3" r="1.15"/><circle cx="118.5" cy="63.9" r="1.15"/><circle cx="156.4" cy="48.1" r="1.15"/><circle cx="92.4" cy="68.6" r="1.15"/><circle cx="88.0" cy="66.6" r="1.15"/><circle cx="123.2" cy="64.2" r="1.15"/><circle cx="210.0" cy="64.0" r="1.15"/><circle cx="187.7" cy="42.5" r="1.15"/><circle cx="145.5" cy="52.1" r="1.15"/><circle cx="158.8" cy="41.4" r="1.15"/><circle cx="142.0" cy="55.7" r="1.15"/><circle cx="136.9" cy="55.6" r="1.15"/><circle cx="184.5" cy="46.0" r="1.15"/><circle cx="139.4" cy="60.8" r="1.15"/><circle cx="205.7" cy="53.1" r="1.15"/><circle cx="139.4" cy="59.3" r="1.15"/><circle cx="150.1" cy="50.5" r="1.15"/><circle cx="126.3" cy="60.5" r="1.15"/><circle cx="126.1" cy="64.6" r="1.15"/><circle cx="132.2" cy="60.4" r="1.15"/><circle cx="82.7" cy="66.6" r="1.15"/><circle cx="161.7" cy="44.5" r="1.15"/><circle cx="93.0" cy="67.6" r="1.15"/><circle cx="164.9" cy="42.8" r="1.15"/><circle cx="133.2" cy="60.0" r="1.15"/><circle cx="151.6" cy="44.8" r="1.15"/><circle cx="205.9" cy="48.6" r="1.15"/><circle cx="145.8" cy="54.6" r="1.15"/><circle cx="197.7" cy="45.5" r="1.15"/><circle cx="192.5" cy="47.3" r="1.15"/><circle cx="162.5" cy="42.7" r="1.15"/><circle cx="106.6" cy="67.5" r="1.15"/><circle cx="209.8" cy="61.9" r="1.15"/><circle cx="209.4" cy="59.2" r="1.15"/><circle cx="148.8" cy="48.7" r="1.15"/><circle cx="105.2" cy="67.8" r="1.15"/><circle cx="104.0" cy="70.2" r="1.15"/><circle cx="212.9" cy="69.1" r="1.15"/><circle cx="197.2" cy="43.8" r="1.15"/><circle cx="148.8" cy="48.0" r="1.15"/><circle cx="195.7" cy="44.6" r="1.15"/><circle cx="116.4" cy="67.7" r="1.15"/><circle cx="210.5" cy="62.1" r="1.15"/><circle cx="189.1" cy="46.9" r="1.15"/><circle cx="149.6" cy="48.4" r="1.15"/><circle cx="86.4" cy="71.5" r="1.15"/><circle cx="208.0" cy="57.7" r="1.15"/><circle cx="98.0" cy="71.6" r="1.15"/><circle cx="161.8" cy="42.6" r="1.15"/><circle cx="208.4" cy="55.4" r="1.15"/><circle cx="104.9" cy="69.7" r="1.15"/><circle cx="137.9" cy="58.3" r="1.15"/><circle cx="206.3" cy="58.7" r="1.15"/><circle cx="208.2" cy="60.5" r="1.15"/><circle cx="102.2" cy="62.8" r="1.15"/><circle cx="206.0" cy="59.4" r="1.15"/><circle cx="182.7" cy="40.1" r="1.15"/><circle cx="99.9" cy="72.3" r="1.15"/><circle cx="106.9" cy="65.4" r="1.15"/><circle cx="87.4" cy="66.8" r="1.15"/><circle cx="131.0" cy="59.4" r="1.15"/><circle cx="160.6" cy="44.8" r="1.15"/><circle cx="122.4" cy="63.1" r="1.15"/><circle cx="151.1" cy="47.5" r="1.15"/><circle cx="154.9" cy="43.1" r="1.15"/><circle cx="126.4" cy="62.7" r="1.15"/><circle cx="164.2" cy="41.9" r="1.15"/><circle cx="214.0" cy="64.7" r="1.15"/><circle cx="93.8" cy="69.6" r="1.15"/><circle cx="93.5" cy="64.9" r="1.15"/><circle cx="135.5" cy="59.1" r="1.15"/><circle cx="180.9" cy="43.8" r="1.15"/><circle cx="76.8" cy="67.8" r="1.15"/><circle cx="166.2" cy="42.9" r="1.15"/><circle cx="192.0" cy="45.3" r="1.15"/><circle cx="184.8" cy="46.4" r="1.15"/><circle cx="94.5" cy="67.3" r="1.15"/><circle cx="147.9" cy="48.4" r="1.15"/><circle cx="129.8" cy="60.5" r="1.15"/><circle cx="161.3" cy="44.8" r="1.15"/><circle cx="218.1" cy="70.5" r="1.15"/><circle cx="167.9" cy="44.3" r="1.15"/><circle cx="205.7" cy="60.0" r="1.15"/><circle cx="152.1" cy="50.2" r="1.15"/><circle cx="110.9" cy="69.5" r="1.15"/><circle cx="155.2" cy="48.0" r="1.15"/><circle cx="137.2" cy="54.1" r="1.15"/><circle cx="178.0" cy="42.6" r="1.15"/><circle cx="204.4" cy="54.1" r="1.15"/><circle cx="88.7" cy="72.7" r="1.15"/><circle cx="96.9" cy="66.8" r="1.15"/><circle cx="193.6" cy="45.8" r="1.15"/><circle cx="128.6" cy="61.9" r="1.15"/><circle cx="179.0" cy="42.5" r="1.15"/><circle cx="189.5" cy="42.7" r="1.15"/><circle cx="215.7" cy="72.4" r="1.15"/><circle cx="120.2" cy="63.5" r="1.15"/><circle cx="91.4" cy="64.7" r="1.15"/><circle cx="206.3" cy="58.2" r="1.15"/><circle cx="201.1" cy="44.4" r="1.15"/><circle cx="130.4" cy="61.7" r="1.15"/><circle cx="169.4" cy="40.5" r="1.15"/><circle cx="142.5" cy="57.7" r="1.15"/><circle cx="94.1" cy="67.9" r="1.15"/><circle cx="182.7" cy="41.7" r="1.15"/><circle cx="211.1" cy="57.7" r="1.15"/><circle cx="97.4" cy="70.3" r="1.15"/><circle cx="109.5" cy="68.5" r="1.15"/><circle cx="142.8" cy="51.0" r="1.15"/><circle cx="167.8" cy="43.4" r="1.15"/><circle cx="200.2" cy="48.6" r="1.15"/><circle cx="214.6" cy="71.6" r="1.15"/><circle cx="136.0" cy="58.1" r="1.15"/><circle cx="204.1" cy="56.0" r="1.15"/><circle cx="191.1" cy="44.5" r="1.15"/><circle cx="142.6" cy="52.6" r="1.15"/><circle cx="189.8" cy="41.5" r="1.15"/><circle cx="199.7" cy="50.4" r="1.15"/><circle cx="132.6" cy="56.0" r="1.15"/><circle cx="182.2" cy="42.8" r="1.15"/><circle cx="96.2" cy="71.2" r="1.15"/><circle cx="170.5" cy="45.6" r="1.15"/><circle cx="116.9" cy="63.1" r="1.15"/><circle cx="203.4" cy="56.5" r="1.15"/><circle cx="96.4" cy="65.5" r="1.15"/><circle cx="179.0" cy="37.4" r="1.15"/><circle cx="134.4" cy="62.9" r="1.15"/><circle cx="197.4" cy="49.7" r="1.15"/><circle cx="102.7" cy="68.5" r="1.15"/><circle cx="199.0" cy="51.2" r="1.15"/><circle cx="114.9" cy="67.5" r="1.15"/><circle cx="153.5" cy="49.0" r="1.15"/><circle cx="215.3" cy="71.6" r="1.15"/><circle cx="214.8" cy="70.4" r="1.15"/><circle cx="87.8" cy="66.9" r="1.15"/><circle cx="90.3" cy="67.1" r="1.15"/><circle cx="154.9" cy="46.1" r="1.15"/><circle cx="76.4" cy="65.0" r="1.15"/><circle cx="116.9" cy="65.6" r="1.15"/><circle cx="182.3" cy="45.3" r="1.15"/><circle cx="215.6" cy="67.6" r="1.15"/><circle cx="193.1" cy="42.1" r="1.15"/><circle cx="167.1" cy="42.9" r="1.15"/><circle cx="126.3" cy="63.5" r="1.15"/><circle cx="148.3" cy="48.4" r="1.15"/><circle cx="79.3" cy="63.6" r="1.15"/><circle cx="183.8" cy="40.6" r="1.15"/><circle cx="93.7" cy="66.0" r="1.15"/><circle cx="205.9" cy="54.0" r="1.15"/><circle cx="203.5" cy="55.3" r="1.15"/><circle cx="83.5" cy="66.7" r="1.15"/><circle cx="105.3" cy="69.8" r="1.15"/><circle cx="197.6" cy="48.2" r="1.15"/><circle cx="157.8" cy="41.8" r="1.15"/><circle cx="136.4" cy="53.7" r="1.15"/><circle cx="211.1" cy="58.0" r="1.15"/><circle cx="200.7" cy="50.7" r="1.15"/><circle cx="191.9" cy="49.1" r="1.15"/><circle cx="99.7" cy="64.7" r="1.15"/><circle cx="129.5" cy="61.5" r="1.15"/><circle cx="125.3" cy="62.5" r="1.15"/><circle cx="93.3" cy="70.2" r="1.15"/><circle cx="178.5" cy="46.2" r="1.15"/><circle cx="134.4" cy="56.9" r="1.15"/><circle cx="119.2" cy="64.0" r="1.15"/><circle cx="184.8" cy="46.7" r="1.15"/><circle cx="193.4" cy="46.9" r="1.15"/><circle cx="83.9" cy="68.3" r="1.15"/><circle cx="85.0" cy="69.7" r="1.15"/><circle cx="217.7" cy="65.2" r="1.15"/><circle cx="213.6" cy="67.7" r="1.15"/><circle cx="98.2" cy="67.1" r="1.15"/><circle cx="136.0" cy="61.9" r="1.15"/><circle cx="207.4" cy="52.9" r="1.15"/><circle cx="134.2" cy="64.7" r="1.15"/><circle cx="185.7" cy="43.5" r="1.15"/><circle cx="93.5" cy="72.4" r="1.15"/><circle cx="89.7" cy="68.5" r="1.15"/><circle cx="213.2" cy="60.5" r="1.15"/><circle cx="101.2" cy="71.2" r="1.15"/><circle cx="166.6" cy="40.0" r="1.15"/><circle cx="149.0" cy="52.7" r="1.15"/><circle cx="205.5" cy="54.1" r="1.15"/><circle cx="133.2" cy="60.3" r="1.15"/><circle cx="92.3" cy="71.0" r="1.15"/><circle cx="195.3" cy="44.3" r="1.15"/><circle cx="93.0" cy="69.6" r="1.15"/><circle cx="92.7" cy="80.5" r="1.15"/><circle cx="77.0" cy="73.8" r="1.15"/><circle cx="74.2" cy="71.8" r="1.15"/><circle cx="75.8" cy="76.5" r="1.15"/><circle cx="89.7" cy="81.1" r="1.15"/><circle cx="76.3" cy="83.3" r="1.15"/><circle cx="80.2" cy="82.0" r="1.15"/><circle cx="92.2" cy="78.5" r="1.15"/><circle cx="87.2" cy="82.8" r="1.15"/><circle cx="80.4" cy="75.2" r="1.15"/><circle cx="76.7" cy="72.1" r="1.15"/><circle cx="80.1" cy="76.2" r="1.15"/><circle cx="79.5" cy="71.9" r="1.15"/><circle cx="91.1" cy="81.6" r="1.15"/><circle cx="84.4" cy="78.4" r="1.15"/><circle cx="81.6" cy="72.1" r="1.15"/><circle cx="79.4" cy="72.0" r="1.15"/><circle cx="92.9" cy="83.7" r="1.15"/><circle cx="80.1" cy="74.0" r="1.15"/><circle cx="88.2" cy="84.3" r="1.15"/><circle cx="80.7" cy="80.4" r="1.15"/><circle cx="79.7" cy="84.6" r="1.15"/><circle cx="84.6" cy="72.6" r="1.15"/><circle cx="78.2" cy="73.4" r="1.15"/><circle cx="77.3" cy="82.9" r="1.15"/><circle cx="83.9" cy="74.2" r="1.15"/><circle cx="92.1" cy="80.4" r="1.15"/><circle cx="89.7" cy="84.9" r="1.15"/><circle cx="78.8" cy="74.2" r="1.15"/><circle cx="89.9" cy="87.7" r="1.15"/><circle cx="85.6" cy="81.1" r="1.15"/><circle cx="78.3" cy="79.1" r="1.15"/><circle cx="80.4" cy="81.7" r="1.15"/><circle cx="93.5" cy="79.5" r="1.15"/><circle cx="91.1" cy="84.6" r="1.15"/><circle cx="87.5" cy="84.7" r="1.15"/><circle cx="80.2" cy="85.4" r="1.15"/><circle cx="92.4" cy="82.1" r="1.15"/><circle cx="87.5" cy="74.5" r="1.15"/><circle cx="85.6" cy="80.4" r="1.15"/><circle cx="93.5" cy="77.9" r="1.15"/><circle cx="89.9" cy="80.8" r="1.15"/><circle cx="74.7" cy="81.7" r="1.15"/><circle cx="93.0" cy="82.1" r="1.15"/><circle cx="85.3" cy="83.4" r="1.15"/><circle cx="89.7" cy="75.5" r="1.15"/><circle cx="75.8" cy="75.9" r="1.15"/><circle cx="86.4" cy="74.1" r="1.15"/><circle cx="80.7" cy="78.8" r="1.15"/><circle cx="80.5" cy="82.3" r="1.15"/><circle cx="92.7" cy="80.2" r="1.15"/><circle cx="91.8" cy="86.3" r="1.15"/><circle cx="82.1" cy="74.7" r="1.15"/><circle cx="90.3" cy="79.3" r="1.15"/><circle cx="92.7" cy="78.5" r="1.15"/><circle cx="82.1" cy="72.2" r="1.15"/><circle cx="82.1" cy="76.2" r="1.15"/><circle cx="88.5" cy="77.3" r="1.15"/><circle cx="74.6" cy="77.4" r="1.15"/><circle cx="74.1" cy="81.2" r="1.15"/><circle cx="92.6" cy="82.6" r="1.15"/><circle cx="93.2" cy="80.7" r="1.15"/><circle cx="84.9" cy="80.8" r="1.15"/><circle cx="74.0" cy="76.0" r="1.15"/><circle cx="83.1" cy="80.3" r="1.15"/><circle cx="91.9" cy="83.4" r="1.15"/><circle cx="84.2" cy="75.6" r="1.15"/><circle cx="81.7" cy="81.6" r="1.15"/><circle cx="90.7" cy="83.7" r="1.15"/><circle cx="92.9" cy="80.9" r="1.15"/><circle cx="75.8" cy="81.1" r="1.15"/><circle cx="91.5" cy="76.3" r="1.15"/><circle cx="85.5" cy="74.5" r="1.15"/><circle cx="84.3" cy="73.6" r="1.15"/><circle cx="92.5" cy="87.5" r="1.15"/><circle cx="84.0" cy="73.2" r="1.15"/><circle cx="84.8" cy="73.9" r="1.15"/><circle cx="92.5" cy="86.0" r="1.15"/><circle cx="76.0" cy="72.8" r="1.15"/><circle cx="76.0" cy="73.3" r="1.15"/><circle cx="76.3" cy="71.4" r="1.15"/><circle cx="92.4" cy="81.0" r="1.15"/><circle cx="89.6" cy="87.9" r="1.15"/><circle cx="82.3" cy="77.1" r="1.15"/><circle cx="91.5" cy="78.1" r="1.15"/><circle cx="87.3" cy="84.3" r="1.15"/><circle cx="77.7" cy="80.7" r="1.15"/><circle cx="78.6" cy="76.4" r="1.15"/><circle cx="82.9" cy="73.1" r="1.15"/><circle cx="88.7" cy="77.9" r="1.15"/><circle cx="76.3" cy="77.7" r="1.15"/><circle cx="76.0" cy="81.9" r="1.15"/><circle cx="74.9" cy="75.2" r="1.15"/><circle cx="74.6" cy="79.5" r="1.15"/><circle cx="76.0" cy="72.6" r="1.15"/><circle cx="84.9" cy="83.6" r="1.15"/><circle cx="113.3" cy="73.1" r="1.15"/><circle cx="110.5" cy="81.2" r="1.15"/><circle cx="113.5" cy="74.9" r="1.15"/><circle cx="114.8" cy="88.5" r="1.15"/><circle cx="111.5" cy="81.8" r="1.15"/><circle cx="113.5" cy="72.9" r="1.15"/><circle cx="112.8" cy="84.9" r="1.15"/><circle cx="113.8" cy="81.0" r="1.15"/><circle cx="112.4" cy="74.9" r="1.15"/><circle cx="110.3" cy="82.7" r="1.15"/><circle cx="112.7" cy="88.3" r="1.15"/><circle cx="110.8" cy="76.1" r="1.15"/><circle cx="112.9" cy="86.7" r="1.15"/><circle cx="111.2" cy="73.5" r="1.15"/><circle cx="113.3" cy="75.4" r="1.15"/><circle cx="112.1" cy="82.0" r="1.15"/><circle cx="113.1" cy="88.4" r="1.15"/><circle cx="110.3" cy="80.8" r="1.15"/><circle cx="110.7" cy="84.2" r="1.15"/><circle cx="112.5" cy="81.5" r="1.15"/><circle cx="150.3" cy="64.2" r="1.15"/><circle cx="148.0" cy="62.7" r="1.15"/><circle cx="150.6" cy="67.6" r="1.15"/><circle cx="147.7" cy="61.6" r="1.15"/><circle cx="146.4" cy="73.6" r="1.15"/><circle cx="150.7" cy="72.6" r="1.15"/><circle cx="147.4" cy="64.4" r="1.15"/><circle cx="144.7" cy="57.1" r="1.15"/><circle cx="147.4" cy="57.2" r="1.15"/><circle cx="150.3" cy="58.8" r="1.15"/><circle cx="149.4" cy="74.2" r="1.15"/><circle cx="149.2" cy="77.9" r="1.15"/><circle cx="150.0" cy="75.9" r="1.15"/><circle cx="148.8" cy="76.7" r="1.15"/><circle cx="148.9" cy="70.7" r="1.15"/><circle cx="149.5" cy="58.8" r="1.15"/><circle cx="152.2" cy="72.7" r="1.15"/><circle cx="147.5" cy="76.8" r="1.15"/><circle cx="148.1" cy="69.7" r="1.15"/><circle cx="145.9" cy="67.4" r="1.15"/><circle cx="148.8" cy="65.3" r="1.15"/><circle cx="147.4" cy="67.8" r="1.15"/><circle cx="151.1" cy="71.3" r="1.15"/><circle cx="148.4" cy="63.5" r="1.15"/><circle cx="145.4" cy="68.0" r="1.15"/><circle cx="150.7" cy="76.1" r="1.15"/><circle cx="148.1" cy="57.8" r="1.15"/><circle cx="150.0" cy="75.1" r="1.15"/><circle cx="133.4" cy="100.0" r="1.15"/><circle cx="120.2" cy="99.9" r="1.15"/><circle cx="130.0" cy="92.4" r="1.15"/><circle cx="125.3" cy="95.6" r="1.15"/><circle cx="126.1" cy="96.4" r="1.15"/><circle cx="130.8" cy="90.7" r="1.15"/><circle cx="136.3" cy="96.0" r="1.15"/><circle cx="127.9" cy="92.5" r="1.15"/><circle cx="126.8" cy="102.2" r="1.15"/><circle cx="116.4" cy="90.5" r="1.15"/><circle cx="130.2" cy="98.4" r="1.15"/><circle cx="124.8" cy="99.1" r="1.15"/><circle cx="125.8" cy="90.3" r="1.15"/><circle cx="120.0" cy="92.0" r="1.15"/><circle cx="135.5" cy="92.5" r="1.15"/><circle cx="117.0" cy="88.9" r="1.15"/><circle cx="124.4" cy="88.1" r="1.15"/><circle cx="113.2" cy="95.1" r="1.15"/><circle cx="133.4" cy="99.2" r="1.15"/><circle cx="115.7" cy="91.9" r="1.15"/><circle cx="126.7" cy="98.7" r="1.15"/><circle cx="135.9" cy="95.6" r="1.15"/><circle cx="126.9" cy="101.0" r="1.15"/><circle cx="118.6" cy="98.1" r="1.15"/><circle cx="117.0" cy="94.8" r="1.15"/><circle cx="117.9" cy="88.7" r="1.15"/><circle cx="126.1" cy="95.6" r="1.15"/><circle cx="132.9" cy="98.8" r="1.15"/><circle cx="114.2" cy="95.9" r="1.15"/><circle cx="123.5" cy="98.7" r="1.15"/><circle cx="126.6" cy="93.7" r="1.15"/><circle cx="125.7" cy="88.1" r="1.15"/><circle cx="132.5" cy="90.2" r="1.15"/><circle cx="126.7" cy="98.2" r="1.15"/><circle cx="125.1" cy="96.7" r="1.15"/><circle cx="117.1" cy="92.4" r="1.15"/><circle cx="136.5" cy="97.3" r="1.15"/><circle cx="116.5" cy="96.8" r="1.15"/><circle cx="131.0" cy="99.3" r="1.15"/><circle cx="118.2" cy="98.6" r="1.15"/><circle cx="124.5" cy="96.7" r="1.15"/><circle cx="132.3" cy="95.5" r="1.15"/><circle cx="119.4" cy="94.4" r="1.15"/><circle cx="123.9" cy="93.7" r="1.15"/><circle cx="135.0" cy="94.8" r="1.15"/><circle cx="131.1" cy="95.1" r="1.15"/><circle cx="134.3" cy="99.8" r="1.15"/><circle cx="121.3" cy="97.0" r="1.15"/><circle cx="134.7" cy="93.1" r="1.15"/><circle cx="130.3" cy="96.5" r="1.15"/><circle cx="119.5" cy="102.1" r="1.15"/><circle cx="113.7" cy="93.0" r="1.15"/><circle cx="133.8" cy="95.0" r="1.15"/><circle cx="134.1" cy="96.4" r="1.15"/><circle cx="113.0" cy="97.9" r="1.15"/><circle cx="119.8" cy="96.1" r="1.15"/><circle cx="131.3" cy="95.2" r="1.15"/><circle cx="119.7" cy="102.2" r="1.15"/><circle cx="122.0" cy="94.2" r="1.15"/><circle cx="125.5" cy="87.6" r="1.15"/><circle cx="126.1" cy="96.8" r="1.15"/><circle cx="116.4" cy="98.2" r="1.15"/><circle cx="123.7" cy="102.1" r="1.15"/><circle cx="121.9" cy="88.4" r="1.15"/><circle cx="135.9" cy="91.5" r="1.15"/><circle cx="136.9" cy="97.6" r="1.15"/><circle cx="121.0" cy="95.0" r="1.15"/><circle cx="132.8" cy="101.0" r="1.15"/><circle cx="115.5" cy="91.7" r="1.15"/><circle cx="114.4" cy="95.2" r="1.15"/><circle cx="129.1" cy="102.5" r="1.15"/><circle cx="117.3" cy="95.4" r="1.15"/><circle cx="123.1" cy="96.1" r="1.15"/><circle cx="120.6" cy="89.9" r="1.15"/><circle cx="124.9" cy="102.2" r="1.15"/><circle cx="127.2" cy="89.8" r="1.15"/><circle cx="115.5" cy="94.6" r="1.15"/><circle cx="134.7" cy="96.0" r="1.15"/><circle cx="125.5" cy="92.2" r="1.15"/><circle cx="120.2" cy="87.6" r="1.15"/><circle cx="118.0" cy="100.6" r="1.15"/><circle cx="119.6" cy="94.0" r="1.15"/><circle cx="115.1" cy="90.7" r="1.15"/><circle cx="121.1" cy="87.6" r="1.15"/><circle cx="134.2" cy="95.0" r="1.15"/><circle cx="121.2" cy="97.0" r="1.15"/><circle cx="123.8" cy="92.1" r="1.15"/><circle cx="122.0" cy="94.1" r="1.15"/><circle cx="120.0" cy="92.9" r="1.15"/><circle cx="124.1" cy="100.8" r="1.15"/><circle cx="133.0" cy="100.8" r="1.15"/><circle cx="124.2" cy="102.2" r="1.15"/><circle cx="134.0" cy="92.3" r="1.15"/><circle cx="127.8" cy="87.9" r="1.15"/><circle cx="128.9" cy="97.5" r="1.15"/><circle cx="121.2" cy="92.3" r="1.15"/><circle cx="125.7" cy="92.1" r="1.15"/><circle cx="120.5" cy="96.0" r="1.15"/><circle cx="160.9" cy="93.8" r="1.15"/><circle cx="149.0" cy="78.4" r="1.15"/><circle cx="153.1" cy="82.2" r="1.15"/><circle cx="176.8" cy="78.3" r="1.15"/><circle cx="162.4" cy="95.5" r="1.15"/><circle cx="172.0" cy="82.7" r="1.15"/><circle cx="150.0" cy="79.9" r="1.15"/><circle cx="152.4" cy="79.0" r="1.15"/><circle cx="151.3" cy="88.8" r="1.15"/><circle cx="178.4" cy="92.1" r="1.15"/><circle cx="165.8" cy="96.5" r="1.15"/><circle cx="149.8" cy="75.6" r="1.15"/><circle cx="176.4" cy="87.7" r="1.15"/><circle cx="150.0" cy="92.7" r="1.15"/><circle cx="174.3" cy="86.4" r="1.15"/><circle cx="156.0" cy="81.6" r="1.15"/><circle cx="185.2" cy="87.2" r="1.15"/><circle cx="147.3" cy="82.9" r="1.15"/><circle cx="168.1" cy="89.3" r="1.15"/><circle cx="166.9" cy="77.3" r="1.15"/><circle cx="172.9" cy="84.6" r="1.15"/><circle cx="176.3" cy="77.2" r="1.15"/><circle cx="177.3" cy="77.6" r="1.15"/><circle cx="179.1" cy="87.0" r="1.15"/><circle cx="178.7" cy="89.3" r="1.15"/><circle cx="178.3" cy="82.9" r="1.15"/><circle cx="177.2" cy="80.0" r="1.15"/><circle cx="148.0" cy="81.1" r="1.15"/><circle cx="182.9" cy="93.5" r="1.15"/><circle cx="175.7" cy="81.9" r="1.15"/><circle cx="151.1" cy="85.0" r="1.15"/><circle cx="148.5" cy="91.2" r="1.15"/><circle cx="160.8" cy="89.4" r="1.15"/><circle cx="172.2" cy="77.6" r="1.15"/><circle cx="151.3" cy="83.6" r="1.15"/><circle cx="160.3" cy="73.1" r="1.15"/><circle cx="169.5" cy="78.5" r="1.15"/><circle cx="156.8" cy="82.3" r="1.15"/><circle cx="162.4" cy="87.4" r="1.15"/><circle cx="152.1" cy="87.1" r="1.15"/><circle cx="171.1" cy="93.5" r="1.15"/><circle cx="169.7" cy="81.0" r="1.15"/><circle cx="148.6" cy="74.8" r="1.15"/><circle cx="182.2" cy="83.6" r="1.15"/><circle cx="161.3" cy="94.5" r="1.15"/><circle cx="164.9" cy="80.2" r="1.15"/><circle cx="161.4" cy="84.4" r="1.15"/><circle cx="174.2" cy="95.0" r="1.15"/><circle cx="159.4" cy="75.1" r="1.15"/><circle cx="179.6" cy="95.0" r="1.15"/><circle cx="174.9" cy="79.1" r="1.15"/><circle cx="165.9" cy="86.2" r="1.15"/><circle cx="156.2" cy="86.5" r="1.15"/><circle cx="169.6" cy="83.2" r="1.15"/><circle cx="155.5" cy="93.2" r="1.15"/><circle cx="170.2" cy="96.7" r="1.15"/><circle cx="171.5" cy="73.2" r="1.15"/><circle cx="158.2" cy="75.5" r="1.15"/><circle cx="181.0" cy="88.4" r="1.15"/><circle cx="150.7" cy="80.5" r="1.15"/><circle cx="170.3" cy="93.7" r="1.15"/><circle cx="146.7" cy="86.2" r="1.15"/><circle cx="171.4" cy="73.1" r="1.15"/><circle cx="150.3" cy="83.6" r="1.15"/><circle cx="170.4" cy="88.0" r="1.15"/><circle cx="160.5" cy="86.9" r="1.15"/><circle cx="166.1" cy="73.3" r="1.15"/><circle cx="160.4" cy="73.6" r="1.15"/><circle cx="162.1" cy="72.6" r="1.15"/><circle cx="155.3" cy="92.7" r="1.15"/><circle cx="162.3" cy="86.6" r="1.15"/><circle cx="150.8" cy="89.0" r="1.15"/><circle cx="165.8" cy="93.0" r="1.15"/><circle cx="148.6" cy="75.5" r="1.15"/><circle cx="168.1" cy="78.4" r="1.15"/><circle cx="176.4" cy="85.3" r="1.15"/><circle cx="151.0" cy="88.1" r="1.15"/><circle cx="156.1" cy="81.7" r="1.15"/><circle cx="151.1" cy="92.6" r="1.15"/><circle cx="149.5" cy="85.1" r="1.15"/><circle cx="178.1" cy="80.8" r="1.15"/><circle cx="171.6" cy="73.8" r="1.15"/><circle cx="184.3" cy="88.9" r="1.15"/><circle cx="163.8" cy="87.5" r="1.15"/><circle cx="178.0" cy="94.2" r="1.15"/><circle cx="152.9" cy="79.3" r="1.15"/><circle cx="173.9" cy="74.1" r="1.15"/><circle cx="177.0" cy="77.5" r="1.15"/><circle cx="163.4" cy="93.5" r="1.15"/><circle cx="175.6" cy="74.9" r="1.15"/><circle cx="170.3" cy="83.8" r="1.15"/><circle cx="165.6" cy="87.9" r="1.15"/><circle cx="162.1" cy="91.5" r="1.15"/><circle cx="170.6" cy="78.4" r="1.15"/><circle cx="153.6" cy="88.3" r="1.15"/><circle cx="167.6" cy="76.0" r="1.15"/><circle cx="162.7" cy="95.0" r="1.15"/><circle cx="162.1" cy="79.4" r="1.15"/><circle cx="170.5" cy="73.5" r="1.15"/><circle cx="159.6" cy="95.0" r="1.15"/><circle cx="146.5" cy="75.4" r="1.15"/><circle cx="146.6" cy="84.8" r="1.15"/><circle cx="174.6" cy="85.7" r="1.15"/><circle cx="181.7" cy="81.3" r="1.15"/><circle cx="145.9" cy="81.0" r="1.15"/><circle cx="170.3" cy="89.0" r="1.15"/><circle cx="162.8" cy="77.4" r="1.15"/><circle cx="175.7" cy="83.7" r="1.15"/><circle cx="166.4" cy="80.5" r="1.15"/><circle cx="167.3" cy="87.2" r="1.15"/><circle cx="167.7" cy="93.2" r="1.15"/><circle cx="176.4" cy="91.3" r="1.15"/><circle cx="175.6" cy="76.3" r="1.15"/><circle cx="170.4" cy="73.4" r="1.15"/><circle cx="172.7" cy="91.5" r="1.15"/><circle cx="174.8" cy="85.3" r="1.15"/><circle cx="177.0" cy="77.2" r="1.15"/><circle cx="164.5" cy="85.9" r="1.15"/><circle cx="156.4" cy="95.1" r="1.15"/><circle cx="183.2" cy="86.0" r="1.15"/><circle cx="145.8" cy="80.0" r="1.15"/><circle cx="174.5" cy="86.0" r="1.15"/><circle cx="177.5" cy="93.5" r="1.15"/><circle cx="183.9" cy="84.4" r="1.15"/><circle cx="158.7" cy="89.6" r="1.15"/><circle cx="165.6" cy="78.1" r="1.15"/><circle cx="156.9" cy="94.9" r="1.15"/><circle cx="147.0" cy="77.0" r="1.15"/><circle cx="153.5" cy="84.4" r="1.15"/><circle cx="171.3" cy="84.1" r="1.15"/><circle cx="183.7" cy="84.1" r="1.15"/><circle cx="169.5" cy="74.3" r="1.15"/><circle cx="176.2" cy="89.7" r="1.15"/><circle cx="151.0" cy="83.7" r="1.15"/><circle cx="161.7" cy="92.5" r="1.15"/><circle cx="161.4" cy="75.0" r="1.15"/><circle cx="145.7" cy="82.7" r="1.15"/><circle cx="160.5" cy="82.2" r="1.15"/><circle cx="203.3" cy="57.7" r="1.15"/><circle cx="198.2" cy="51.0" r="1.15"/><circle cx="202.2" cy="57.1" r="1.15"/><circle cx="187.8" cy="54.8" r="1.15"/><circle cx="207.5" cy="60.5" r="1.15"/><circle cx="204.4" cy="68.9" r="1.15"/><circle cx="200.9" cy="64.3" r="1.15"/><circle cx="200.8" cy="64.9" r="1.15"/><circle cx="197.3" cy="65.2" r="1.15"/><circle cx="191.9" cy="54.6" r="1.15"/><circle cx="189.0" cy="64.7" r="1.15"/><circle cx="192.4" cy="54.3" r="1.15"/><circle cx="193.9" cy="60.0" r="1.15"/><circle cx="202.0" cy="73.5" r="1.15"/><circle cx="200.3" cy="65.6" r="1.15"/><circle cx="192.1" cy="65.9" r="1.15"/><circle cx="189.8" cy="49.7" r="1.15"/><circle cx="192.5" cy="67.0" r="1.15"/><circle cx="199.8" cy="56.1" r="1.15"/><circle cx="201.4" cy="66.1" r="1.15"/><circle cx="205.1" cy="69.3" r="1.15"/><circle cx="187.5" cy="49.8" r="1.15"/><circle cx="201.4" cy="74.9" r="1.15"/><circle cx="190.1" cy="59.2" r="1.15"/><circle cx="191.5" cy="68.8" r="1.15"/><circle cx="193.6" cy="58.5" r="1.15"/><circle cx="187.2" cy="55.8" r="1.15"/><circle cx="201.3" cy="54.8" r="1.15"/><circle cx="197.0" cy="66.3" r="1.15"/><circle cx="197.6" cy="65.3" r="1.15"/><circle cx="190.5" cy="59.6" r="1.15"/><circle cx="196.1" cy="70.3" r="1.15"/><circle cx="199.1" cy="62.5" r="1.15"/><circle cx="188.1" cy="62.2" r="1.15"/><circle cx="208.2" cy="61.4" r="1.15"/><circle cx="196.1" cy="57.3" r="1.15"/><circle cx="200.6" cy="74.9" r="1.15"/><circle cx="199.7" cy="57.7" r="1.15"/><circle cx="202.3" cy="63.0" r="1.15"/><circle cx="200.2" cy="59.3" r="1.15"/><circle cx="192.8" cy="49.8" r="1.15"/><circle cx="194.2" cy="54.1" r="1.15"/><circle cx="205.8" cy="64.5" r="1.15"/><circle cx="192.4" cy="52.2" r="1.15"/><circle cx="193.4" cy="64.5" r="1.15"/><circle cx="197.6" cy="68.9" r="1.15"/><circle cx="188.7" cy="52.7" r="1.15"/><circle cx="195.6" cy="59.6" r="1.15"/><circle cx="203.4" cy="65.6" r="1.15"/><circle cx="205.5" cy="69.7" r="1.15"/><circle cx="100.3" cy="89.4" r="1.15"/><circle cx="97.6" cy="90.0" r="1.15"/>
</g>
<g fill="#3a2f8f">
<circle cx="69.8" cy="79.4" r="1.15"/><circle cx="72.9" cy="78.2" r="1.15"/><circle cx="62.9" cy="74.7" r="1.15"/><circle cx="63.4" cy="72.6" r="1.15"/><circle cx="64.3" cy="72.7" r="1.15"/><circle cx="67.1" cy="81.1" r="1.15"/><circle cx="70.2" cy="79.3" r="1.15"/><circle cx="72.3" cy="82.0" r="1.15"/><circle cx="67.5" cy="75.9" r="1.15"/><circle cx="73.6" cy="80.1" r="1.15"/><circle cx="64.7" cy="73.3" r="1.15"/><circle cx="66.8" cy="73.0" r="1.15"/><circle cx="67.3" cy="81.1" r="1.15"/><circle cx="62.0" cy="69.6" r="1.15"/><circle cx="71.2" cy="82.0" r="1.15"/><circle cx="58.3" cy="70.3" r="1.15"/><circle cx="66.5" cy="79.1" r="1.15"/><circle cx="63.5" cy="75.2" r="1.15"/><circle cx="65.4" cy="80.3" r="1.15"/><circle cx="67.0" cy="74.4" r="1.15"/><circle cx="60.0" cy="72.4" r="1.15"/><circle cx="61.5" cy="75.1" r="1.15"/><circle cx="69.2" cy="76.4" r="1.15"/><circle cx="64.5" cy="76.2" r="1.15"/><circle cx="70.1" cy="77.4" r="1.15"/><circle cx="61.2" cy="74.3" r="1.15"/><circle cx="70.3" cy="81.6" r="1.15"/><circle cx="62.6" cy="71.4" r="1.15"/><circle cx="59.7" cy="69.0" r="1.15"/><circle cx="60.7" cy="71.7" r="1.15"/><circle cx="61.8" cy="73.1" r="1.15"/><circle cx="70.2" cy="76.0" r="1.15"/><circle cx="62.9" cy="77.0" r="1.15"/><circle cx="59.6" cy="69.5" r="1.15"/><circle cx="71.7" cy="77.1" r="1.15"/><circle cx="67.0" cy="74.2" r="1.15"/><circle cx="62.9" cy="75.1" r="1.15"/><circle cx="71.6" cy="81.5" r="1.15"/><circle cx="68.3" cy="75.6" r="1.15"/><circle cx="72.3" cy="77.6" r="1.15"/><circle cx="71.9" cy="78.1" r="1.15"/><circle cx="71.3" cy="79.2" r="1.15"/><circle cx="61.6" cy="74.6" r="1.15"/><circle cx="69.6" cy="78.0" r="1.15"/><circle cx="61.5" cy="69.1" r="1.15"/><circle cx="66.5" cy="74.2" r="1.15"/><circle cx="67.1" cy="77.3" r="1.15"/><circle cx="60.8" cy="70.7" r="1.15"/><circle cx="63.8" cy="75.3" r="1.15"/><circle cx="62.7" cy="73.1" r="1.15"/><circle cx="70.6" cy="81.3" r="1.15"/><circle cx="69.1" cy="79.3" r="1.15"/><circle cx="65.0" cy="76.7" r="1.15"/><circle cx="59.7" cy="69.1" r="1.15"/><circle cx="67.2" cy="76.5" r="1.15"/><circle cx="69.8" cy="81.1" r="1.15"/><circle cx="71.9" cy="81.3" r="1.15"/><circle cx="70.7" cy="79.5" r="1.15"/><circle cx="71.4" cy="78.3" r="1.15"/><circle cx="64.3" cy="70.7" r="1.15"/><circle cx="67.6" cy="80.4" r="1.15"/><circle cx="72.3" cy="81.5" r="1.15"/><circle cx="70.9" cy="76.9" r="1.15"/><circle cx="70.5" cy="78.6" r="1.15"/><circle cx="69.2" cy="79.5" r="1.15"/><circle cx="62.7" cy="73.2" r="1.15"/><circle cx="62.7" cy="74.9" r="1.15"/><circle cx="62.8" cy="75.3" r="1.15"/><circle cx="72.7" cy="80.5" r="1.15"/><circle cx="64.7" cy="71.4" r="1.15"/><circle cx="66.5" cy="76.5" r="1.15"/><circle cx="64.7" cy="74.2" r="1.15"/><circle cx="62.1" cy="71.4" r="1.15"/><circle cx="68.7" cy="79.4" r="1.15"/><circle cx="72.1" cy="78.1" r="1.15"/><circle cx="64.7" cy="73.6" r="1.15"/><circle cx="69.7" cy="77.7" r="1.15"/><circle cx="62.2" cy="74.0" r="1.15"/><circle cx="65.0" cy="78.6" r="1.15"/><circle cx="68.2" cy="75.4" r="1.15"/><circle cx="73.5" cy="82.8" r="1.15"/><circle cx="71.3" cy="78.0" r="1.15"/><circle cx="68.0" cy="77.6" r="1.15"/><circle cx="68.1" cy="75.9" r="1.15"/><circle cx="73.3" cy="79.3" r="1.15"/>
</g>
<g fill="#e04b5a">
<circle cx="84.0" cy="135.0" r="1.15"/>
</g>
<g fill="#e04b5a">
<circle cx="108.9" cy="120.4" r="1.15"/><circle cx="174.6" cy="138.7" r="1.15"/><circle cx="125.6" cy="122.7" r="1.15"/><circle cx="155.5" cy="130.8" r="1.15"/><circle cx="142.7" cy="126.7" r="1.15"/><circle cx="176.2" cy="143.6" r="1.15"/><circle cx="161.4" cy="135.5" r="1.15"/><circle cx="106.3" cy="112.9" r="1.15"/><circle cx="124.5" cy="121.8" r="1.15"/><circle cx="147.6" cy="131.0" r="1.15"/><circle cx="193.4" cy="143.6" r="1.15"/><circle cx="132.7" cy="130.9" r="1.15"/><circle cx="138.9" cy="135.4" r="1.15"/><circle cx="126.4" cy="121.7" r="1.15"/><circle cx="108.4" cy="116.3" r="1.15"/><circle cx="179.9" cy="141.8" r="1.15"/><circle cx="137.5" cy="134.7" r="1.15"/><circle cx="135.7" cy="131.7" r="1.15"/>
</g>
<g fill="#e04b5a">
<circle cx="203.9" cy="125.6" r="1.15"/><circle cx="215.8" cy="123.9" r="1.15"/><circle cx="193.9" cy="121.5" r="1.15"/><circle cx="213.4" cy="121.9" r="1.15"/><circle cx="216.4" cy="138.5" r="1.15"/><circle cx="219.6" cy="136.6" r="1.15"/><circle cx="196.9" cy="149.1" r="1.15"/><circle cx="214.1" cy="120.8" r="1.15"/><circle cx="221.1" cy="121.7" r="1.15"/><circle cx="205.0" cy="133.7" r="1.15"/>
</g>
<g fill="#f7d300">
<circle cx="181.7" cy="145.8" r="1.15"/><circle cx="144.7" cy="149.4" r="1.15"/><circle cx="128.1" cy="153.9" r="1.15"/><circle cx="149.1" cy="156.8" r="1.15"/><circle cx="160.2" cy="145.4" r="1.15"/><circle cx="128.7" cy="138.5" r="1.15"/><circle cx="130.2" cy="131.5" r="1.15"/><circle cx="108.3" cy="123.9" r="1.15"/><circle cx="137.5" cy="152.1" r="1.15"/><circle cx="118.1" cy="134.1" r="1.15"/>
</g>
<g fill="#40c812">
<circle cx="121.7" cy="179.4" r="1.15"/><circle cx="175.4" cy="178.0" r="1.15"/><circle cx="178.2" cy="183.3" r="1.15"/><circle cx="180.9" cy="170.6" r="1.15"/><circle cx="121.7" cy="184.2" r="1.15"/><circle cx="154.7" cy="178.1" r="1.15"/><circle cx="159.4" cy="191.0" r="1.15"/><circle cx="134.2" cy="187.5" r="1.15"/>
</g>
<g fill="#cfcfcf">
<circle cx="160.2" cy="85.0" r="1.15"/><circle cx="181.9" cy="109.3" r="1.15"/><circle cx="216.4" cy="95.0" r="1.15"/><circle cx="227.4" cy="100.9" r="1.15"/><circle cx="204.7" cy="106.1" r="1.15"/><circle cx="220.7" cy="106.6" r="1.15"/><circle cx="170.8" cy="89.7" r="1.15"/><circle cx="184.6" cy="95.9" r="1.15"/><circle cx="229.4" cy="97.6" r="1.15"/><circle cx="177.4" cy="91.4" r="1.15"/><circle cx="176.8" cy="102.9" r="1.15"/><circle cx="161.5" cy="92.8" r="1.15"/><circle cx="218.5" cy="87.9" r="1.15"/><circle cx="220.8" cy="96.6" r="1.15"/><circle cx="212.2" cy="101.4" r="1.15"/><circle cx="161.5" cy="113.4" r="1.15"/><circle cx="176.1" cy="88.4" r="1.15"/><circle cx="186.9" cy="112.5" r="1.15"/><circle cx="190.8" cy="108.6" r="1.15"/><circle cx="182.6" cy="94.3" r="1.15"/><circle cx="164.5" cy="91.6" r="1.15"/><circle cx="226.8" cy="97.9" r="1.15"/><circle cx="220.2" cy="87.2" r="1.15"/><circle cx="206.3" cy="101.8" r="1.15"/><circle cx="175.1" cy="109.0" r="1.15"/>
</g>
<circle cx="55" cy="264.7" r="4.2" fill="#6bd13c"/>
<circle cx="55" cy="278.1" r="4.2" fill="#f7d632"/>
<circle cx="55" cy="290.8" r="4.2" fill="#6aa6d6"/>
<circle cx="155.4" cy="264.7" r="4.2" fill="#e58088"/>
<circle cx="155.4" cy="278.1" r="4.2" fill="#7564b0"/>
<circle cx="155.4" cy="290.8" r="4.2" fill="#d9d9d9"/>
<text x="70.5" y="267.6" font-size="8">Secretory (n=826)</text>
<text x="70.5" y="281.0" font-size="8">Mitochondria (n=799)</text>
<text x="70.5" y="293.7" font-size="8">Nucleus (n=985)</text>
<text x="169.0" y="267.6" font-size="8">Cytosol (n=1,118)</text>
<text x="169.0" y="281.0" font-size="8">Ribosome (n=75)</text>
<text x="169.0" y="293.7" font-size="8">Unclassified</text>
<text x="14.5" y="333.0" font-size="11.2">B</text>
<text x="57.5" y="335.0" font-size="10" font-weight="bold">A hierarchical structure for localization</text>
<ellipse cx="124.4" cy="384.9" rx="27.4" ry="44.2" fill="#e9dff2" transform="rotate(-6.4 124.4 384.9)"/>
<ellipse cx="55.8" cy="443.9" rx="54.7" ry="35.7" fill="#e2eddb" transform="rotate(1 55.8 443.9)"/>
<ellipse cx="206.9" cy="414.6" rx="53.8" ry="40.8" fill="#fdf3db" transform="rotate(-33.8 206.9 414.6)"/>
<ellipse cx="132.3" cy="527.6" rx="36.8" ry="55.8" fill="#fde5e4" transform="rotate(1.4 132.3 527.6)"/>
<ellipse cx="230.4" cy="498.4" rx="56" ry="36.9" fill="#d6effc" transform="rotate(18 230.4 498.4)"/>
<g stroke="#9a9690" stroke-width="0.7" stroke-opacity="0.9">
<line x1="134.6" y1="454.4" x2="85.3" y2="454.1"/>
<line x1="85.3" y1="454.1" x2="39.8" y2="435.3"/>
<line x1="85.3" y1="454.1" x2="70.7" y2="421.7"/>
<line x1="85.3" y1="454.1" x2="62" y2="459.8"/>
<line x1="134.6" y1="454.4" x2="128" y2="417.9"/>
<line x1="128" y1="417.9" x2="122.2" y2="379.5"/>
<line x1="134.6" y1="454.4" x2="188.6" y2="414.6"/>
<line x1="188.6" y1="414.6" x2="187.3" y2="451.4"/>
<line x1="188.6" y1="414.6" x2="217.6" y2="442"/>
<line x1="188.6" y1="414.6" x2="210.8" y2="393.8"/>
<line x1="188.6" y1="414.6" x2="170.8" y2="393.8"/>
<line x1="188.6" y1="414.6" x2="226.7" y2="401.3"/>
<line x1="188.6" y1="414.6" x2="243.6" y2="426.6"/>
<line x1="134.6" y1="454.4" x2="206.3" y2="482"/>
<line x1="206.3" y1="482" x2="263.3" y2="503.3"/>
<line x1="206.3" y1="482" x2="222.5" y2="513.8"/>
<line x1="206.3" y1="482" x2="240" y2="478"/>
<line x1="134.6" y1="454.4" x2="145.8" y2="506"/>
<line x1="145.8" y1="506" x2="165" y2="552.9"/>
<line x1="145.8" y1="506" x2="118.4" y2="533.7"/>
<line x1="145.8" y1="506" x2="116.3" y2="500.2"/>
<line x1="145.8" y1="506" x2="135.1" y2="526.2"/>
<line x1="145.8" y1="506" x2="92.4" y2="524.7"/>
<line x1="263.3" y1="503.3" x2="268.7" y2="508"/>
</g>
<circle cx="39.2" cy="435.1" r="11.7" fill="url(#gS)"/>
<path d="M39.2 435.1l-6.0 -10.2M39.2 435.1l-5.7 11.9M39.2 435.1l-0.1 11.7M39.2 435.1l9.8 0.1M39.2 435.1l3.2 13.2M39.2 435.1l7.9 10.2M39.2 435.1l4.3 11.0M39.2 435.1l-10.6 -7.0M39.2 435.1l6.7 -6.4M39.2 435.1l-4.8 10.9M39.2 435.1l6.0 -10.9M39.2 435.1l10.8 -3.2M39.2 435.1l3.3 -10.2M39.2 435.1l9.6 -0.6M39.2 435.1l7.9 -5.9M39.2 435.1l-12.1 -5.8M39.2 435.1l-0.2 -13.6M39.2 435.1l3.5 -12.1M39.2 435.1l12.4 -2.1M39.2 435.1l2.4 -8.7M39.2 435.1l12.4 -5.6M39.2 435.1l-7.9 5.0M39.2 435.1l-10.3 2.8M39.2 435.1l3.4 12.0M39.2 435.1l-9.1 -7.8M39.2 435.1l9.7 -1.9M39.2 435.1l9.4 -7.8M39.2 435.1l-0.9 13.8M39.2 435.1l-7.5 -4.9M39.2 435.1l11.1 4.3M39.2 435.1l9.1 -1.1M39.2 435.1l11.8 4.3M39.2 435.1l-9.4 -9.1M39.2 435.1l11.0 3.7M39.2 435.1l-8.7 5.1M39.2 435.1l11.6 -6.7M39.2 435.1l-7.4 -10.8M39.2 435.1l3.7 -11.1M39.2 435.1l8.9 -2.4M39.2 435.1l8.5 -7.0M39.2 435.1l-2.7 11.2M39.2 435.1l9.7 -7.4M39.2 435.1l-1.2 -12.3M39.2 435.1l-7.1 10.7M39.2 435.1l-8.0 -5.3M39.2 435.1l4.5 8.3M39.2 435.1l-8.9 3.9M39.2 435.1l-8.5 -4.1M39.2 435.1l1.2 -13.2M39.2 435.1l3.7 -9.6M39.2 435.1l-3.7 -10.0M39.2 435.1l-7.1 6.5M39.2 435.1l2.9 -10.7M39.2 435.1l3.3 9.8M39.2 435.1l2.8 11.1M39.2 435.1l8.3 -11.2M39.2 435.1l-9.6 -1.0M39.2 435.1l4.5 -12.2M39.2 435.1l10.0 7.2M39.2 435.1l-9.3 -7.2M39.2 435.1l10.5 8.4M39.2 435.1l-11.4 -1.6M39.2 435.1l2.0 10.1M39.2 435.1l-8.5 -5.5M39.2 435.1l-6.5 -10.9M39.2 435.1l12.4 -2.0M39.2 435.1l-12.7 0.6M39.2 435.1l-9.2 10.2M39.2 435.1l-7.6 6.9M39.2 435.1l10.3 -6.5M39.2 435.1l5.9 8.6M39.2 435.1l-2.7 8.6M39.2 435.1l13.3 3.0M39.2 435.1l-7.7 -5.7M39.2 435.1l-13.1 1.3M39.2 435.1l5.0 9.0M39.2 435.1l-11.0 0.3M39.2 435.1l10.8 -0.4M39.2 435.1l-7.4 -5.8M39.2 435.1l2.2 13.2M39.2 435.1l0.6 8.9M39.2 435.1l0.3 -13.8M39.2 435.1l-4.5 9.4M39.2 435.1l-11.5 -0.0M39.2 435.1l-9.1 8.3M39.2 435.1l3.9 -8.0M39.2 435.1l-9.5 6.3M39.2 435.1l4.2 -8.2M39.2 435.1l10.4 -2.0M39.2 435.1l9.1 5.9M39.2 435.1l9.7 4.3M39.2 435.1l10.4 1.8M39.2 435.1l-9.8 7.2M39.2 435.1l9.5 -6.9M39.2 435.1l4.1 -9.1M39.2 435.1l6.3 11.4M39.2 435.1l3.2 -10.6M39.2 435.1l1.2 -9.1M39.2 435.1l5.9 -8.4M39.2 435.1l-8.8 3.0M39.2 435.1l8.6 -10.0M39.2 435.1l10.8 5.1M39.2 435.1l2.0 11.0M39.2 435.1l-12.9 -4.7M39.2 435.1l-9.1 2.5M39.2 435.1l-10.9 4.4M39.2 435.1l13.6 0.6M39.2 435.1l1.7 -11.8M39.2 435.1l-2.0 10.7M39.2 435.1l-9.5 9.8M39.2 435.1l3.1 12.6M39.2 435.1l6.3 -7.9M39.2 435.1l12.8 -3.8M39.2 435.1l-7.7 -11.1M39.2 435.1l-9.5 1.6M39.2 435.1l-7.5 7.6M39.2 435.1l11.0 -4.0M39.2 435.1l-5.2 -8.0M39.2 435.1l-9.4 9.3M39.2 435.1l8.2 4.3M39.2 435.1l-6.0 8.4M39.2 435.1l-13.5 -2.2M39.2 435.1l1.9 -12.3M39.2 435.1l-11.2 1.4M39.2 435.1l-13.0 -2.1M39.2 435.1l3.1 -10.1M39.2 435.1l9.1 5.4M39.2 435.1l-13.1 4.6M39.2 435.1l3.6 8.4M39.2 435.1l-8.6 -3.5M39.2 435.1l-8.8 -5.2M39.2 435.1l-1.6 -10.9M39.2 435.1l-1.3 12.4M39.2 435.1l-5.1 9.5M39.2 435.1l2.8 -9.0M39.2 435.1l4.2 -10.3M39.2 435.1l7.7 -6.4M39.2 435.1l3.0 9.3M39.2 435.1l1.5 9.7M39.2 435.1l-12.4 -3.9M39.2 435.1l6.9 9.0M39.2 435.1l10.1 -5.7M39.2 435.1l10.8 -6.7M39.2 435.1l10.5 0.4M39.2 435.1l7.0 -8.2M39.2 435.1l6.3 -9.9M39.2 435.1l9.7 2.6M39.2 435.1l7.8 8.0M39.2 435.1l4.4 -10.6M39.2 435.1l13.0 0.8M39.2 435.1l13.4 0.5M39.2 435.1l-6.4 -8.8M39.2 435.1l-6.1 8.3M39.2 435.1l-8.9 7.3M39.2 435.1l10.1 -1.0M39.2 435.1l6.2 -11.9M39.2 435.1l-8.9 -10.1M39.2 435.1l-9.4 -9.4M39.2 435.1l8.2 7.3M39.2 435.1l-0.9 -13.6M39.2 435.1l3.4 11.5M39.2 435.1l-10.2 1.3M39.2 435.1l-11.5 -0.1M39.2 435.1l10.5 6.7M39.2 435.1l-10.8 -5.8M39.2 435.1l0.9 9.0M39.2 435.1l-13.5 -3.5M39.2 435.1l-8.7 -5.1M39.2 435.1l-4.5 -7.9M39.2 435.1l7.0 6.3M39.2 435.1l5.5 12.4M39.2 435.1l-10.6 -6.3M39.2 435.1l-7.4 5.6M39.2 435.1l-6.7 -8.1" stroke="#68b0bb" stroke-width="0.45" stroke-opacity="0.7"/>
<path d="M39.8 437.2l1.2 4.0M39.0 431.8l-0.2 -2.4M44.7 434.4l3.3 -0.4M35.0 437.9l-2.8 1.9M36.1 439.7l-2.4 3.5M38.8 440.7l-0.3 4.1M44.7 434.7l2.7 -0.2M40.0 432.6l0.7 -2.2M39.1 438.2l-0.1 2.7M41.6 431.5l1.1 -1.6M40.3 432.8l1.7 -3.5M39.2 440.7l0.0 3.5M37.0 433.1l-3.0 -2.7M43.7 437.5l2.9 1.5M36.3 437.0l-1.7 1.1M35.5 435.3l-2.8 0.1M40.5 439.0l0.9 2.9M39.8 437.8l0.5 2.3M43.8 435.8l2.3 0.4M37.8 432.1l-0.9 -2.0M40.2 439.7l0.6 2.7M37.1 434.3l-4.0 -1.6M34.4 436.4l-2.4 0.7M41.8 434.1l3.4 -1.3M42.6 432.5l1.7 -1.3M42.5 431.5l2.5 -2.7M37.7 433.6l-1.9 -1.8M37.8 437.5l-2.0 3.4M41.2 437.2l1.6 1.7M41.6 439.7l0.9 1.8M43.8 436.5l2.6 0.8M38.5 437.5l-0.9 3.3M41.9 437.4l2.7 2.3M42.8 435.1l2.2 0.0M44.0 436.3l1.9 0.5M41.4 440.2l0.8 1.9M34.9 436.8l-3.1 1.3M42.7 434.4l4.1 -0.8M39.0 438.5l-0.3 4.4M35.5 437.0l-3.6 1.8M43.1 431.3l1.4 -1.4M35.6 439.2l-1.9 2.1M39.6 437.9l0.5 4.0M36.1 433.8l-2.2 -1.0M38.9 437.9l-0.4 3.1M42.9 436.5l3.2 1.2M39.2 431.1l-0.0 -3.8M41.7 439.5l1.2 2.1M36.8 438.6l-1.2 1.8M41.2 430.5l1.5 -3.4M37.9 437.4l-1.2 2.1M39.8 439.4l0.4 2.5M34.8 433.2l-3.8 -1.6M39.1 431.9l-0.1 -3.7M43.4 433.7l2.0 -0.7M35.6 434.3l-1.9 -0.4M37.9 440.1l-0.8 3.0M43.7 432.7l2.7 -1.5" stroke="#2f6a74" stroke-width="0.45" stroke-opacity="0.5"/>
<circle cx="39.2" cy="435.1" r="2.4" fill="#f2c919" stroke="#4a4420" stroke-width="0.45"/>
<circle cx="70.4" cy="421.9" r="7.4" fill="url(#gS)"/>
<path d="M70.4 421.9l-6.0 -1.4M70.4 421.9l-3.5 -5.0M70.4 421.9l-6.9 -1.6M70.4 421.9l-2.6 -7.4M70.4 421.9l7.5 -3.9M70.4 421.9l3.3 -5.1M70.4 421.9l-7.4 2.7M70.4 421.9l-4.9 2.7M70.4 421.9l-5.0 -3.1M70.4 421.9l6.1 0.9M70.4 421.9l0.8 6.3M70.4 421.9l-6.6 4.5M70.4 421.9l-5.4 -4.2M70.4 421.9l-5.1 4.9M70.4 421.9l-4.7 7.0M70.4 421.9l-6.4 4.8M70.4 421.9l-6.6 -2.3M70.4 421.9l-6.8 -4.4M70.4 421.9l-7.6 1.2M70.4 421.9l-1.7 7.6M70.4 421.9l0.8 6.5M70.4 421.9l7.1 -3.2M70.4 421.9l-4.2 -5.1M70.4 421.9l-5.9 -2.9M70.4 421.9l1.5 7.5M70.4 421.9l3.8 4.2M70.4 421.9l-3.5 -5.7M70.4 421.9l-4.1 6.4M70.4 421.9l5.5 -5.3M70.4 421.9l5.7 5.7M70.4 421.9l-8.2 -2.4M70.4 421.9l5.3 4.2M70.4 421.9l5.7 3.2M70.4 421.9l-6.8 1.7M70.4 421.9l-4.6 6.5M70.4 421.9l6.8 -3.1M70.4 421.9l-7.9 2.0M70.4 421.9l-5.7 -5.0M70.4 421.9l-0.1 7.4M70.4 421.9l-2.1 -5.6M70.4 421.9l-6.4 -4.0M70.4 421.9l-7.1 -3.4M70.4 421.9l7.8 -3.8M70.4 421.9l7.6 -3.2M70.4 421.9l4.2 6.7M70.4 421.9l-1.5 -7.1M70.4 421.9l-6.5 2.1M70.4 421.9l-4.9 4.8M70.4 421.9l2.4 7.8M70.4 421.9l-7.5 -4.4M70.4 421.9l-8.7 -0.7M70.4 421.9l5.7 -1.6M70.4 421.9l-7.5 -1.4M70.4 421.9l5.9 -3.6M70.4 421.9l0.5 -6.4M70.4 421.9l-4.3 5.4M70.4 421.9l-5.3 -3.7M70.4 421.9l3.0 4.9M70.4 421.9l4.1 7.3M70.4 421.9l4.0 -5.3M70.4 421.9l-6.6 2.0M70.4 421.9l-5.9 -2.4M70.4 421.9l7.1 1.9M70.4 421.9l8.0 -1.9M70.4 421.9l-4.5 -3.9M70.4 421.9l-6.2 3.6M70.4 421.9l7.6 -0.6M70.4 421.9l-1.6 -6.9M70.4 421.9l-0.2 -6.2M70.4 421.9l8.6 -1.0" stroke="#68b0bb" stroke-width="0.45" stroke-opacity="0.7"/>
<path d="M69.4 420.0l-1.2 -2.3M72.2 422.0l2.2 0.1M71.2 420.2l1.0 -2.1M73.0 420.2l1.7 -1.1M71.4 418.8l0.6 -1.8M70.6 423.9l0.2 1.8M71.6 421.6l2.1 -0.6M71.1 423.4l0.8 1.6M67.7 423.2l-1.5 0.7M69.9 420.7l-0.7 -1.6M69.8 423.3l-0.8 1.9M69.3 423.4l-1.0 1.3M70.7 419.8l0.4 -2.3M69.4 418.9l-0.8 -2.4M69.4 419.7l-0.7 -1.6M71.7 421.5l1.3 -0.4M72.1 423.2l2.1 1.6M73.0 420.8l2.5 -1.1M70.6 424.4l0.2 1.7M67.2 420.9l-1.4 -0.5M69.0 421.8l-1.4 -0.1M69.0 423.9l-0.7 1.0M71.0 420.8l1.2 -2.1" stroke="#2f6a74" stroke-width="0.45" stroke-opacity="0.5"/>
<circle cx="70.4" cy="421.9" r="1.5" fill="#f2c919" stroke="#4a4420" stroke-width="0.45"/>
<circle cx="61.8" cy="460" r="6.3" fill="url(#gS)"/>
<path d="M61.8 460.0l-1.6 5.6M61.8 460.0l1.9 -4.5M61.8 460.0l-5.1 1.2M61.8 460.0l-0.2 -6.8M61.8 460.0l1.8 6.8M61.8 460.0l3.0 4.3M61.8 460.0l2.9 5.2M61.8 460.0l5.1 -2.3M61.8 460.0l-5.8 2.4M61.8 460.0l3.2 -4.3M61.8 460.0l-2.7 4.5M61.8 460.0l6.4 -2.5M61.8 460.0l-5.8 -0.1M61.8 460.0l-5.0 -3.0M61.8 460.0l-4.2 5.3M61.8 460.0l4.7 2.0M61.8 460.0l3.3 6.8M61.8 460.0l3.3 5.0M61.8 460.0l-5.2 3.2M61.8 460.0l-2.6 -6.3M61.8 460.0l3.0 -4.5M61.8 460.0l6.5 -1.2M61.8 460.0l-1.8 -5.4M61.8 460.0l-4.5 -1.9M61.8 460.0l3.7 -4.5M61.8 460.0l-3.6 -5.3M61.8 460.0l-4.8 -2.8M61.8 460.0l-1.3 -5.2M61.8 460.0l4.7 -3.9M61.8 460.0l4.2 -2.5M61.8 460.0l4.8 1.3M61.8 460.0l-5.1 -0.1M61.8 460.0l-5.0 -1.3M61.8 460.0l5.2 4.0M61.8 460.0l5.7 -3.6M61.8 460.0l5.9 2.3M61.8 460.0l5.0 -2.1M61.8 460.0l6.4 -3.3M61.8 460.0l1.1 -6.4M61.8 460.0l-3.1 4.1M61.8 460.0l3.1 3.9M61.8 460.0l5.3 -4.3M61.8 460.0l-6.2 3.7M61.8 460.0l-6.6 -1.3M61.8 460.0l7.1 2.3M61.8 460.0l-0.9 5.8M61.8 460.0l-4.6 4.1M61.8 460.0l-2.9 -4.8M61.8 460.0l-5.3 -3.2M61.8 460.0l0.9 7.0M61.8 460.0l4.5 4.6M61.8 460.0l-0.6 6.9M61.8 460.0l-0.5 6.6M61.8 460.0l-5.8 3.0M61.8 460.0l-5.8 -1.7M61.8 460.0l-0.8 -7.0M61.8 460.0l4.9 1.2M61.8 460.0l-6.9 -0.4M61.8 460.0l-0.5 -6.8M61.8 460.0l-3.4 5.3M61.8 460.0l-4.7 -2.0M61.8 460.0l-2.6 -4.2" stroke="#68b0bb" stroke-width="0.45" stroke-opacity="0.7"/>
<path d="M59.9 459.8l-1.7 -0.2M63.2 457.9l1.1 -1.5M59.4 460.3l-1.9 0.3M61.7 461.9l-0.0 1.3M63.6 459.3l1.7 -0.7M63.2 458.7l1.2 -1.1M63.7 460.6l1.5 0.5M59.5 459.2l-1.7 -0.6M61.5 462.8l-0.2 2.0M62.6 462.7l0.5 1.6M63.7 461.2l1.5 1.0M59.8 458.6l-1.2 -0.9M62.8 459.3l0.9 -0.6M61.8 458.7l0.0 -1.8M62.6 461.6l0.7 1.3M60.5 459.8l-1.9 -0.3M60.7 458.9l-1.7 -1.7M60.7 460.2l-2.3 0.5M59.9 461.1l-1.8 1.0M63.0 457.8l1.1 -2.0" stroke="#2f6a74" stroke-width="0.45" stroke-opacity="0.5"/>
<circle cx="61.8" cy="460" r="1.4" fill="#f2c919" stroke="#4a4420" stroke-width="0.45"/>
<circle cx="85.4" cy="454.2" r="12.2" fill="url(#gS)"/>
<path d="M85.4 454.2l13.3 -5.9M85.4 454.2l-10.3 -4.0M85.4 454.2l-7.0 10.7M85.4 454.2l-2.4 -12.5M85.4 454.2l9.8 4.6M85.4 454.2l-11.1 7.4M85.4 454.2l-10.9 -7.3M85.4 454.2l12.2 -4.2M85.4 454.2l0.5 -10.8M85.4 454.2l-2.1 -13.8M85.4 454.2l-4.0 -10.1M85.4 454.2l10.2 -4.9M85.4 454.2l-9.8 -5.6M85.4 454.2l-13.5 2.9M85.4 454.2l-11.5 -8.0M85.4 454.2l5.9 -7.7M85.4 454.2l11.8 -8.2M85.4 454.2l2.4 13.3M85.4 454.2l-5.6 -11.4M85.4 454.2l6.6 12.4M85.4 454.2l-8.0 8.7M85.4 454.2l10.2 1.9M85.4 454.2l10.3 -3.4M85.4 454.2l9.6 -3.9M85.4 454.2l-1.8 -11.5M85.4 454.2l-4.6 -8.1M85.4 454.2l-9.2 -7.4M85.4 454.2l-3.4 12.3M85.4 454.2l6.1 8.9M85.4 454.2l11.2 6.1M85.4 454.2l10.7 9.2M85.4 454.2l10.4 -1.4M85.4 454.2l7.9 -5.0M85.4 454.2l-5.8 -12.0M85.4 454.2l3.6 -12.0M85.4 454.2l5.0 12.7M85.4 454.2l1.2 -11.1M85.4 454.2l-8.0 7.6M85.4 454.2l-2.1 -9.6M85.4 454.2l2.6 -11.7M85.4 454.2l-10.9 4.2M85.4 454.2l-8.5 7.3M85.4 454.2l-9.8 1.6M85.4 454.2l-1.5 12.1M85.4 454.2l-9.1 2.9M85.4 454.2l-11.7 1.5M85.4 454.2l-4.5 8.5M85.4 454.2l-13.4 4.2M85.4 454.2l2.1 9.3M85.4 454.2l4.1 10.9M85.4 454.2l-10.3 -5.5M85.4 454.2l2.0 -12.7M85.4 454.2l10.7 -9.8M85.4 454.2l7.7 -7.1M85.4 454.2l5.1 12.1M85.4 454.2l12.9 -4.9M85.4 454.2l0.8 -10.6M85.4 454.2l-12.4 1.2M85.4 454.2l-5.6 -11.2M85.4 454.2l-5.0 -9.1M85.4 454.2l-11.6 2.1M85.4 454.2l8.4 6.0M85.4 454.2l-7.1 -9.3M85.4 454.2l-13.7 4.2M85.4 454.2l9.1 -8.2M85.4 454.2l-10.2 -8.9M85.4 454.2l12.4 -1.7M85.4 454.2l-9.6 1.6M85.4 454.2l0.2 -9.6M85.4 454.2l-2.7 10.0M85.4 454.2l8.2 -9.6M85.4 454.2l-8.3 -4.3M85.4 454.2l1.0 14.2M85.4 454.2l7.6 8.4M85.4 454.2l-1.9 9.9M85.4 454.2l9.3 9.5M85.4 454.2l-10.6 2.3M85.4 454.2l3.6 -11.1M85.4 454.2l-6.1 -8.1M85.4 454.2l10.9 0.6M85.4 454.2l13.4 3.7M85.4 454.2l-8.4 5.3M85.4 454.2l1.3 -10.6M85.4 454.2l3.2 -12.2M85.4 454.2l3.8 -9.2M85.4 454.2l1.4 -10.3M85.4 454.2l12.7 -4.8M85.4 454.2l10.6 1.0M85.4 454.2l10.7 -6.2M85.4 454.2l-11.1 6.1M85.4 454.2l10.2 6.5M85.4 454.2l-13.4 6.0M85.4 454.2l12.7 0.3M85.4 454.2l-9.9 5.7M85.4 454.2l-13.1 -2.4M85.4 454.2l5.2 11.7M85.4 454.2l-8.7 -4.5M85.4 454.2l-12.4 -1.2M85.4 454.2l-10.4 0.3M85.4 454.2l-9.4 5.7M85.4 454.2l-1.6 -10.2M85.4 454.2l7.8 7.2M85.4 454.2l-7.9 -5.4M85.4 454.2l9.5 5.9M85.4 454.2l-1.1 13.7M85.4 454.2l-4.4 -11.6M85.4 454.2l-9.8 3.3M85.4 454.2l-9.8 10.6M85.4 454.2l8.5 -8.8M85.4 454.2l3.5 -11.8M85.4 454.2l-1.4 -9.3M85.4 454.2l9.2 -10.9M85.4 454.2l-3.6 -13.2M85.4 454.2l-8.5 -5.4M85.4 454.2l-0.1 11.4M85.4 454.2l-9.9 -5.9M85.4 454.2l12.7 0.4M85.4 454.2l-11.2 0.3M85.4 454.2l-9.9 -7.7M85.4 454.2l-4.4 -12.2M85.4 454.2l13.2 -2.9M85.4 454.2l6.4 -7.1M85.4 454.2l-1.5 -10.6M85.4 454.2l7.0 -7.3M85.4 454.2l-8.2 8.8M85.4 454.2l12.4 3.7M85.4 454.2l8.6 -5.4M85.4 454.2l1.6 10.3M85.4 454.2l0.3 12.3M85.4 454.2l12.4 2.1M85.4 454.2l2.8 -10.5M85.4 454.2l-6.0 -8.8M85.4 454.2l-4.1 -10.4M85.4 454.2l7.4 6.5M85.4 454.2l-1.3 13.0M85.4 454.2l9.2 -2.0M85.4 454.2l3.1 -9.7M85.4 454.2l7.6 -9.1M85.4 454.2l-0.3 13.8M85.4 454.2l3.0 -11.2M85.4 454.2l-9.2 9.3M85.4 454.2l-10.8 9.4M85.4 454.2l11.8 -4.1M85.4 454.2l4.8 -8.7M85.4 454.2l-10.4 4.8M85.4 454.2l-8.3 7.3M85.4 454.2l4.8 -9.2M85.4 454.2l7.8 5.2M85.4 454.2l-5.8 -7.5M85.4 454.2l10.8 -6.4M85.4 454.2l1.6 11.3M85.4 454.2l7.0 -7.2M85.4 454.2l-11.5 -2.6M85.4 454.2l-13.5 -3.0M85.4 454.2l-0.3 12.2M85.4 454.2l6.2 10.2M85.4 454.2l8.8 4.6M85.4 454.2l-12.5 -4.4M85.4 454.2l-9.0 -3.1M85.4 454.2l-8.8 -10.6M85.4 454.2l5.3 -8.0M85.4 454.2l0.1 -9.4M85.4 454.2l-2.5 -11.5M85.4 454.2l10.1 4.6M85.4 454.2l-0.3 13.2M85.4 454.2l-7.7 8.7M85.4 454.2l-8.7 3.3M85.4 454.2l10.9 0.0M85.4 454.2l-0.3 -11.8M85.4 454.2l5.7 8.1M85.4 454.2l-4.2 -11.2M85.4 454.2l11.1 1.6M85.4 454.2l11.8 -0.6M85.4 454.2l13.2 -6.1M85.4 454.2l10.3 2.0M85.4 454.2l7.3 -6.1M85.4 454.2l6.2 9.4M85.4 454.2l1.0 -11.3M85.4 454.2l8.7 8.8M85.4 454.2l-11.7 2.4M85.4 454.2l12.1 4.9" stroke="#68b0bb" stroke-width="0.45" stroke-opacity="0.7"/>
<path d="M83.2 455.4l-3.6 2.0M81.2 455.9l-2.0 0.8M84.3 458.3l-0.9 3.4M87.4 451.6l2.2 -2.9M84.7 452.2l-0.9 -2.6M84.4 452.4l-2.0 -3.7M82.0 453.3l-3.0 -0.8M87.0 451.5l1.6 -2.7M83.3 451.6l-2.1 -2.5M89.4 450.8l3.4 -2.9M81.8 453.9l-2.4 -0.2M86.9 452.7l2.8 -2.8M81.2 451.8l-1.8 -1.0M88.5 456.8l2.0 1.7M85.8 459.8l0.2 2.9M86.6 456.7l1.1 2.4M83.3 458.5l-0.9 1.9M82.0 451.3l-2.8 -2.5M83.6 453.2l-3.0 -1.6M83.9 458.0l-1.4 3.6M81.2 455.1l-3.4 0.7M90.0 452.8l3.5 -1.0M83.2 453.2l-2.0 -0.9M83.1 451.8l-2.0 -2.0M85.1 457.2l-0.3 3.1M87.8 456.4l2.2 2.0M89.6 458.0l3.4 3.1M80.6 450.8l-3.1 -2.2M85.3 451.0l-0.2 -4.2M86.1 451.2l0.6 -2.4M81.7 455.7l-3.2 1.3M82.7 455.1l-3.4 1.1M90.5 451.8l3.2 -1.5M86.7 448.7l0.5 -2.0M81.4 451.7l-1.8 -1.1M91.0 454.9l4.4 0.5M84.4 460.1l-0.5 3.0M84.5 450.5l-0.6 -2.3M89.2 452.5l3.0 -1.4M88.3 454.8l3.8 0.8M89.7 452.3l3.9 -1.7M87.4 450.2l1.3 -2.6M82.8 454.8l-4.0 1.0M83.1 459.0l-1.1 2.3M87.7 455.4l3.2 1.7M81.1 450.1l-2.1 -2.0M86.9 452.4l1.3 -1.6M84.1 450.6l-0.9 -2.4M81.7 452.9l-3.6 -1.3M82.4 456.0l-3.0 1.8M82.2 453.4l-2.9 -0.7M85.4 450.6l0.0 -3.3M87.7 456.1l3.0 2.5M88.7 451.6l2.3 -1.8M81.3 451.0l-3.7 -2.8M87.6 454.8l3.0 0.8M89.5 455.0l2.9 0.6M87.9 454.6l3.3 0.5M87.8 452.4l2.4 -1.8M81.2 450.6l-2.7 -2.4" stroke="#2f6a74" stroke-width="0.45" stroke-opacity="0.5"/>
<circle cx="85.4" cy="454.2" r="2.5" fill="#f2c919" stroke="#4a4420" stroke-width="0.45"/>
<circle cx="122.2" cy="379.5" r="6.6" fill="url(#gR)"/>
<path d="M122.2 379.5l0.1 -6.0M122.2 379.5l0.3 7.5M122.2 379.5l-3.6 -4.1M122.2 379.5l-0.8 -5.2M122.2 379.5l1.7 -6.8M122.2 379.5l4.3 -4.4M122.2 379.5l0.1 7.7M122.2 379.5l6.4 0.9M122.2 379.5l-1.7 5.1M122.2 379.5l2.1 7.6M122.2 379.5l6.3 4.5M122.2 379.5l-3.5 6.1M122.2 379.5l-3.7 3.5M122.2 379.5l-3.9 -3.7M122.2 379.5l5.2 1.7M122.2 379.5l4.9 -3.3M122.2 379.5l-5.5 -2.5M122.2 379.5l-3.2 4.2M122.2 379.5l7.3 0.5M122.2 379.5l-0.8 7.7M122.2 379.5l6.7 3.3M122.2 379.5l3.7 -6.5M122.2 379.5l-5.2 -0.4M122.2 379.5l0.0 -7.4M122.2 379.5l1.1 7.2M122.2 379.5l6.7 1.3M122.2 379.5l5.4 0.0M122.2 379.5l-7.4 1.8M122.2 379.5l4.0 -5.9M122.2 379.5l7.4 2.4M122.2 379.5l2.4 6.5M122.2 379.5l-6.0 -0.6M122.2 379.5l-6.1 3.8M122.2 379.5l1.6 7.5M122.2 379.5l5.2 -2.8M122.2 379.5l-7.4 -1.2M122.2 379.5l-5.1 -0.8M122.2 379.5l-4.7 -2.9M122.2 379.5l1.3 -5.3M122.2 379.5l-5.7 -1.5M122.2 379.5l-4.4 -6.5M122.2 379.5l-0.4 -6.1M122.2 379.5l-6.9 -0.7M122.2 379.5l0.1 6.5M122.2 379.5l-5.4 -0.2M122.2 379.5l-1.8 -5.3M122.2 379.5l-4.4 -6.3M122.2 379.5l-6.6 -3.8M122.2 379.5l-5.4 -3.0M122.2 379.5l-7.3 1.0M122.2 379.5l1.8 -6.3M122.2 379.5l-5.0 -3.0M122.2 379.5l3.0 5.8M122.2 379.5l3.9 4.5M122.2 379.5l6.0 3.1M122.2 379.5l1.9 5.1M122.2 379.5l6.0 0.9M122.2 379.5l5.6 -3.0M122.2 379.5l-6.3 -0.3M122.2 379.5l2.0 7.3M122.2 379.5l-1.2 -6.1M122.2 379.5l-6.7 -3.3M122.2 379.5l-3.5 -4.1M122.2 379.5l5.2 0.3" stroke="#95b7e0" stroke-width="0.45" stroke-opacity="0.7"/>
<path d="M121.4 382.5l-0.5 1.8M123.2 381.6l0.8 1.8M122.6 376.8l0.3 -2.0M121.9 381.1l-0.2 1.3M122.0 381.3l-0.2 1.7M123.3 381.7l1.0 2.0M120.3 378.9l-1.3 -0.4M122.6 378.1l0.4 -1.3M120.9 382.0l-0.9 1.6M122.6 380.7l0.8 2.2M125.1 378.7l2.2 -0.6M119.4 379.0l-1.4 -0.2M124.4 380.4l1.7 0.7M122.5 377.4l0.2 -1.4M123.9 377.6l1.0 -1.2M122.9 381.7l0.5 1.6M121.0 381.3l-1.3 1.9M120.9 378.9l-2.0 -0.9M121.2 380.4l-1.0 0.9M121.8 380.5l-0.8 2.2M121.2 380.2l-1.8 1.2" stroke="#5a78a8" stroke-width="0.45" stroke-opacity="0.5"/>
<circle cx="122.2" cy="379.5" r="1.4" fill="#f2c919" stroke="#4a4420" stroke-width="0.45"/>
<circle cx="188.3" cy="414.4" r="13.4" fill="url(#gC)"/>
<path d="M188.3 414.4l1.9 -10.3M188.3 414.4l-5.4 12.8M188.3 414.4l-13.1 0.2M188.3 414.4l-3.5 -10.1M188.3 414.4l15.2 4.3M188.3 414.4l-8.7 9.8M188.3 414.4l-10.7 1.9M188.3 414.4l7.3 -9.1M188.3 414.4l3.7 -13.1M188.3 414.4l-10.9 4.7M188.3 414.4l7.9 -10.4M188.3 414.4l14.6 -1.5M188.3 414.4l-5.7 13.6M188.3 414.4l8.2 -12.3M188.3 414.4l-8.7 9.4M188.3 414.4l-0.2 14.4M188.3 414.4l10.2 10.4M188.3 414.4l2.1 10.2M188.3 414.4l-10.6 -4.5M188.3 414.4l-12.8 -8.6M188.3 414.4l13.2 -6.4M188.3 414.4l-15.4 0.5M188.3 414.4l-3.4 13.1M188.3 414.4l1.8 15.3M188.3 414.4l-9.3 -12.3M188.3 414.4l10.8 7.0M188.3 414.4l14.8 5.7M188.3 414.4l2.5 -10.9M188.3 414.4l11.7 6.3M188.3 414.4l-4.3 -9.8M188.3 414.4l6.8 13.0M188.3 414.4l-8.1 9.2M188.3 414.4l4.8 11.3M188.3 414.4l-11.2 2.2M188.3 414.4l-4.0 -12.5M188.3 414.4l-4.2 -13.0M188.3 414.4l4.9 -9.3M188.3 414.4l10.1 -11.0M188.3 414.4l-10.7 4.6M188.3 414.4l12.6 8.4M188.3 414.4l13.1 -6.2M188.3 414.4l-10.6 2.1M188.3 414.4l14.3 -3.3M188.3 414.4l10.5 3.3M188.3 414.4l9.2 -7.8M188.3 414.4l-7.7 7.6M188.3 414.4l11.3 4.7M188.3 414.4l13.7 -4.8M188.3 414.4l-10.4 6.6M188.3 414.4l6.6 -9.3M188.3 414.4l-8.6 11.9M188.3 414.4l-12.3 -7.4M188.3 414.4l-1.4 12.9M188.3 414.4l-11.8 5.0M188.3 414.4l-0.6 14.8M188.3 414.4l9.7 9.3M188.3 414.4l-5.7 9.3M188.3 414.4l-10.3 -11.6M188.3 414.4l-8.5 -9.7M188.3 414.4l-5.4 10.4M188.3 414.4l7.2 13.0M188.3 414.4l-7.4 -8.9M188.3 414.4l-8.6 -10.6M188.3 414.4l14.6 0.8M188.3 414.4l-4.7 -9.6M188.3 414.4l-1.1 15.5M188.3 414.4l-10.0 9.8M188.3 414.4l-13.1 -2.7M188.3 414.4l15.1 1.1M188.3 414.4l-13.0 5.4M188.3 414.4l-10.3 -6.5M188.3 414.4l-6.4 8.0M188.3 414.4l-3.4 10.0M188.3 414.4l-12.2 1.4M188.3 414.4l0.3 13.6M188.3 414.4l-6.9 -7.6M188.3 414.4l13.5 1.6M188.3 414.4l1.8 13.6M188.3 414.4l-9.5 -4.3M188.3 414.4l10.9 -1.9M188.3 414.4l-7.1 -10.6M188.3 414.4l-0.3 -14.1M188.3 414.4l-4.3 -12.2M188.3 414.4l6.9 8.5M188.3 414.4l-6.7 -9.5M188.3 414.4l-13.2 0.3M188.3 414.4l6.9 -9.1M188.3 414.4l13.2 -4.9M188.3 414.4l13.9 -1.5M188.3 414.4l14.7 5.5M188.3 414.4l8.8 10.3M188.3 414.4l-9.7 6.4M188.3 414.4l12.5 -5.1M188.3 414.4l14.2 -0.9M188.3 414.4l9.6 9.4M188.3 414.4l-3.7 -12.4M188.3 414.4l8.6 12.8M188.3 414.4l4.7 14.5M188.3 414.4l-8.0 9.9M188.3 414.4l5.0 11.1M188.3 414.4l-0.4 15.4M188.3 414.4l-8.0 6.8M188.3 414.4l11.5 -8.3M188.3 414.4l-11.8 -5.6M188.3 414.4l10.6 0.9M188.3 414.4l4.3 14.3M188.3 414.4l-3.7 -12.8M188.3 414.4l8.7 13.3M188.3 414.4l0.2 14.8M188.3 414.4l-8.1 6.3M188.3 414.4l-12.9 3.5M188.3 414.4l-10.9 -6.6M188.3 414.4l15.1 3.8M188.3 414.4l13.1 -8.0M188.3 414.4l3.1 -14.2M188.3 414.4l-11.4 2.9M188.3 414.4l-8.9 5.8M188.3 414.4l5.1 -10.7M188.3 414.4l-1.0 13.2M188.3 414.4l-7.0 -12.4M188.3 414.4l11.8 -8.2M188.3 414.4l-14.1 -6.3M188.3 414.4l-9.4 -12.7M188.3 414.4l-10.7 0.5M188.3 414.4l-15.5 0.8M188.3 414.4l-2.8 -12.7M188.3 414.4l-9.9 -3.8M188.3 414.4l11.3 -2.7M188.3 414.4l-9.5 7.0M188.3 414.4l10.4 0.9M188.3 414.4l-12.4 -2.2M188.3 414.4l11.0 0.7M188.3 414.4l-0.1 -10.5M188.3 414.4l-4.1 -11.8M188.3 414.4l-13.7 -4.0M188.3 414.4l-4.4 13.8M188.3 414.4l1.7 13.0M188.3 414.4l-12.1 -2.8M188.3 414.4l-14.7 -2.2M188.3 414.4l-10.4 -3.2M188.3 414.4l7.8 9.9M188.3 414.4l-11.1 -8.2M188.3 414.4l11.3 9.8M188.3 414.4l10.5 -6.5M188.3 414.4l-2.9 11.1M188.3 414.4l-7.4 -7.2M188.3 414.4l10.0 12.4M188.3 414.4l-14.7 2.2M188.3 414.4l12.3 -2.6M188.3 414.4l1.9 -10.5M188.3 414.4l-15.0 1.4M188.3 414.4l8.9 -12.0M188.3 414.4l-10.9 -8.9M188.3 414.4l-9.8 11.9M188.3 414.4l-9.6 -5.1M188.3 414.4l-11.0 0.3M188.3 414.4l7.6 7.0M188.3 414.4l-10.7 -0.7M188.3 414.4l-3.9 11.7M188.3 414.4l15.0 -5.2M188.3 414.4l10.3 11.1M188.3 414.4l-14.0 3.8M188.3 414.4l-11.8 0.9M188.3 414.4l-11.6 7.5M188.3 414.4l-2.2 -15.1M188.3 414.4l-4.0 15.2M188.3 414.4l10.1 -1.7M188.3 414.4l-11.0 2.3M188.3 414.4l-10.2 3.4M188.3 414.4l14.4 -6.8M188.3 414.4l2.7 10.6M188.3 414.4l-14.3 2.6M188.3 414.4l-4.7 13.3M188.3 414.4l-0.6 -11.4M188.3 414.4l-15.0 4.5M188.3 414.4l6.7 10.9M188.3 414.4l-10.6 1.5M188.3 414.4l11.7 -0.6M188.3 414.4l-12.4 -9.4M188.3 414.4l14.7 0.0M188.3 414.4l-14.3 -6.7M188.3 414.4l-0.8 -11.1M188.3 414.4l14.9 3.3M188.3 414.4l-9.7 9.4M188.3 414.4l2.4 13.6M188.3 414.4l-15.4 -2.8M188.3 414.4l-2.4 15.5M188.3 414.4l3.7 14.6M188.3 414.4l1.0 15.7M188.3 414.4l-1.4 -11.3M188.3 414.4l4.7 -14.9M188.3 414.4l-0.2 -12.8M188.3 414.4l3.0 11.1M188.3 414.4l-11.9 -3.1M188.3 414.4l3.9 13.8M188.3 414.4l5.8 9.3M188.3 414.4l7.3 -7.8" stroke="#86b6c6" stroke-width="0.45" stroke-opacity="0.7"/>
<path d="M189.0 417.7l0.9 4.4M185.3 418.3l-2.0 2.6M186.6 419.9l-0.7 2.3M186.9 416.3l-2.5 3.3M187.7 420.6l-0.4 4.2M188.8 410.2l0.5 -3.8M186.2 413.6l-4.5 -1.7M191.2 417.5l2.7 2.9M185.4 412.7l-2.8 -1.6M189.0 410.1l0.7 -4.3M186.7 409.0l-1.1 -3.7M185.7 409.0l-1.7 -3.6M184.0 418.9l-2.2 2.3M187.2 411.8l-1.8 -4.1M192.3 416.6l3.2 1.8M190.2 409.2l1.2 -3.3M192.0 410.5l2.1 -2.2M183.2 413.4l-4.8 -0.9M185.1 413.9l-4.8 -0.8M191.4 413.8l3.2 -0.7M187.4 408.1l-0.5 -3.4M191.5 416.5l2.0 1.4M189.5 411.5l1.1 -2.7M187.6 410.4l-0.7 -4.0M189.8 416.1l2.5 2.7M190.5 411.3l2.8 -3.9M185.7 417.6l-2.7 3.3M189.2 419.2l0.9 5.0M188.4 409.3l0.1 -5.0M188.5 409.7l0.1 -2.3M184.9 410.6l-3.3 -3.6M193.0 417.7l2.2 1.5M190.0 408.7l0.9 -3.0M190.6 414.6l3.7 0.4M190.8 418.3l2.7 4.3M187.7 408.2l-0.4 -4.5M189.0 416.9l1.3 4.9M192.0 413.6l3.8 -0.9M191.4 412.7l2.9 -1.6M182.3 413.8l-2.4 -0.2M184.5 412.0l-2.8 -1.8M189.8 418.3l1.4 3.6M192.1 418.2l2.6 2.5M185.9 417.1l-2.7 3.1M189.5 419.2l0.8 3.4M191.4 415.5l2.2 0.8M190.9 416.2l2.2 1.5M185.3 412.9l-2.9 -1.5M188.1 412.2l-0.3 -2.9M190.2 417.2l1.4 2.1M185.1 419.0l-1.3 1.8M192.0 416.9l2.3 1.6M183.9 414.7l-2.9 0.2M184.6 418.1l-1.6 1.6M189.5 418.9l0.6 2.4M182.1 416.3l-2.4 0.7M187.1 418.9l-0.8 3.0M185.7 413.9l-4.0 -0.8M182.2 416.3l-4.5 1.4M189.7 416.6l1.3 2.2M189.1 410.9l0.6 -2.7M191.8 415.7l3.7 1.4M191.8 413.8l4.5 -0.8M192.2 413.8l2.7 -0.4M191.5 415.1l2.8 0.6" stroke="#41666c" stroke-width="0.45" stroke-opacity="0.5"/>
<circle cx="188.3" cy="414.4" r="2.7" fill="#f2c919" stroke="#4a4420" stroke-width="0.45"/>
<circle cx="187.3" cy="451.4" r="7.4" fill="url(#gC)"/>
<path d="M187.3 451.4l-5.6 -3.5M187.3 451.4l-1.2 -7.3M187.3 451.4l-6.4 -4.3M187.3 451.4l-6.5 4.2M187.3 451.4l6.5 2.8M187.3 451.4l-6.8 1.9M187.3 451.4l0.6 -7.5M187.3 451.4l6.8 2.5M187.3 451.4l2.6 -8.1M187.3 451.4l-3.6 7.7M187.3 451.4l-4.0 7.2M187.3 451.4l3.8 -5.1M187.3 451.4l-4.7 -5.5M187.3 451.4l-1.7 -8.4M187.3 451.4l4.3 7.6M187.3 451.4l5.6 0.8M187.3 451.4l-5.9 -1.8M187.3 451.4l-3.3 6.5M187.3 451.4l-6.3 -1.4M187.3 451.4l6.1 5.8M187.3 451.4l-2.9 -7.7M187.3 451.4l7.6 -3.6M187.3 451.4l-5.8 0.1M187.3 451.4l5.6 -3.7M187.3 451.4l-3.9 -4.7M187.3 451.4l-6.0 4.9M187.3 451.4l-5.7 1.7M187.3 451.4l-4.6 5.2M187.3 451.4l7.9 -2.8M187.3 451.4l3.3 -4.5M187.3 451.4l7.3 -2.8M187.3 451.4l7.0 1.6M187.3 451.4l6.0 -3.5M187.3 451.4l-6.0 -2.5M187.3 451.4l6.6 -1.1M187.3 451.4l3.7 7.2M187.3 451.4l-6.8 -4.7M187.3 451.4l-4.4 -5.0M187.3 451.4l3.1 -6.6M187.3 451.4l-6.5 -1.2M187.3 451.4l-3.7 4.2M187.3 451.4l-0.2 -7.9M187.3 451.4l-4.9 3.9M187.3 451.4l3.6 4.7M187.3 451.4l-6.3 -4.0M187.3 451.4l-8.0 -1.4M187.3 451.4l-6.1 3.7M187.3 451.4l-2.1 6.8M187.3 451.4l8.4 1.0M187.3 451.4l2.3 -7.1M187.3 451.4l-1.9 -8.4M187.3 451.4l-2.5 8.2M187.3 451.4l3.3 6.8M187.3 451.4l-3.6 -4.6M187.3 451.4l1.5 -5.8M187.3 451.4l3.9 5.1M187.3 451.4l-4.7 -7.2M187.3 451.4l-4.3 -3.9M187.3 451.4l-7.2 3.2M187.3 451.4l7.1 2.7M187.3 451.4l-7.6 0.8M187.3 451.4l-5.4 5.2M187.3 451.4l4.1 4.3M187.3 451.4l5.7 3.9M187.3 451.4l7.7 -4.2M187.3 451.4l0.9 6.4M187.3 451.4l2.4 -8.4M187.3 451.4l6.4 -3.1M187.3 451.4l-4.4 7.1M187.3 451.4l-1.6 6.2" stroke="#86b6c6" stroke-width="0.45" stroke-opacity="0.7"/>
<path d="M188.6 452.7l0.9 0.9M183.9 452.7l-1.9 0.7M185.6 453.9l-0.9 1.3M187.6 454.2l0.3 2.8M187.8 452.6l1.1 2.4M188.7 449.6l1.0 -1.4M189.7 451.9l1.4 0.3M186.4 452.5l-1.7 2.2M186.8 448.5l-0.4 -2.0M187.9 449.1l0.5 -1.7M187.0 448.0l-0.1 -1.3M184.6 452.1l-2.3 0.6M190.0 451.8l2.3 0.4M185.6 452.4l-2.0 1.3M185.5 451.3l-2.1 -0.1M189.0 452.7l2.0 1.5M187.4 453.2l0.2 2.0M184.2 453.3l-2.2 1.3M186.4 448.7l-0.6 -1.7M186.4 454.0l-0.6 1.6M189.1 454.0l0.9 1.3M190.0 450.9l1.4 -0.3M184.6 449.7l-1.4 -0.9" stroke="#41666c" stroke-width="0.45" stroke-opacity="0.5"/>
<circle cx="187.3" cy="451.4" r="1.5" fill="#f2c919" stroke="#4a4420" stroke-width="0.45"/>
<circle cx="217.6" cy="442" r="7.4" fill="url(#gC)"/>
<path d="M217.6 442.0l7.0 -2.0M217.6 442.0l-6.2 0.4M217.6 442.0l5.9 4.3M217.6 442.0l6.5 -3.2M217.6 442.0l-7.2 -1.4M217.6 442.0l5.5 -5.7M217.6 442.0l-6.2 -1.1M217.6 442.0l7.6 3.2M217.6 442.0l-4.7 -5.5M217.6 442.0l-6.5 -4.7M217.6 442.0l3.2 6.5M217.6 442.0l0.5 -8.4M217.6 442.0l-5.4 -6.2M217.6 442.0l-6.3 -5.2M217.6 442.0l-3.2 -8.2M217.6 442.0l-6.8 5.2M217.6 442.0l-7.5 0.5M217.6 442.0l1.3 -7.0M217.6 442.0l-6.3 2.8M217.6 442.0l-2.8 7.3M217.6 442.0l4.8 5.7M217.6 442.0l2.3 5.8M217.6 442.0l-6.1 -3.9M217.6 442.0l4.2 4.4M217.6 442.0l-0.1 -7.7M217.6 442.0l-2.5 -6.1M217.6 442.0l-5.6 -3.6M217.6 442.0l-5.6 3.5M217.6 442.0l4.6 7.3M217.6 442.0l6.2 3.6M217.6 442.0l2.2 8.3M217.6 442.0l8.4 -2.1M217.6 442.0l-0.8 7.2M217.6 442.0l-6.3 -5.4M217.6 442.0l-2.9 -6.3M217.6 442.0l-5.6 -4.0M217.6 442.0l2.9 -8.0M217.6 442.0l-5.8 -2.6M217.6 442.0l-8.1 1.2M217.6 442.0l6.1 -3.8M217.6 442.0l-2.6 -5.5M217.6 442.0l4.0 -7.6M217.6 442.0l6.2 2.9M217.6 442.0l-6.3 1.2M217.6 442.0l3.2 -4.8M217.6 442.0l5.2 -5.1M217.6 442.0l-1.5 5.5M217.6 442.0l-8.0 2.3M217.6 442.0l-0.8 7.0M217.6 442.0l8.2 -2.8M217.6 442.0l3.5 -7.2M217.6 442.0l2.5 -5.6M217.6 442.0l8.4 -1.1M217.6 442.0l0.7 -6.0M217.6 442.0l8.2 0.9M217.6 442.0l1.6 5.6M217.6 442.0l5.9 4.8M217.6 442.0l-1.9 -5.3M217.6 442.0l0.1 -6.3M217.6 442.0l5.0 -4.4M217.6 442.0l-6.4 -5.7M217.6 442.0l-5.6 -3.6M217.6 442.0l6.9 3.1M217.6 442.0l6.0 -2.9M217.6 442.0l-4.0 -5.1M217.6 442.0l-1.5 -7.1M217.6 442.0l1.3 -6.1M217.6 442.0l-6.1 0.3M217.6 442.0l-5.1 -2.6M217.6 442.0l0.9 5.8" stroke="#86b6c6" stroke-width="0.45" stroke-opacity="0.7"/>
<path d="M218.0 440.0l0.4 -1.9M219.2 442.5l2.6 0.8M218.7 444.7l0.9 2.2M216.8 444.6l-0.6 2.0M219.1 441.7l1.7 -0.4M214.7 441.9l-1.5 -0.0M214.7 442.9l-1.4 0.5M219.1 442.3l1.9 0.4M214.2 442.7l-1.2 0.3M216.2 441.9l-1.6 -0.1M218.0 444.5l0.3 2.0M219.1 441.0l1.8 -1.3M216.8 439.5l-0.8 -2.3M217.4 443.6l-0.2 1.4M221.1 442.5l1.4 0.2M215.0 442.2l-1.6 0.1M218.9 440.8l1.9 -1.8M217.3 439.4l-0.3 -2.2M220.2 443.2l1.2 0.5M221.0 442.5l2.0 0.3M219.4 442.2l1.9 0.2M217.6 444.0l-0.0 1.9M216.0 443.2l-1.0 0.8" stroke="#41666c" stroke-width="0.45" stroke-opacity="0.5"/>
<circle cx="217.6" cy="442" r="1.5" fill="#f2c919" stroke="#4a4420" stroke-width="0.45"/>
<circle cx="210.6" cy="394" r="7.8" fill="url(#gC)"/>
<path d="M210.6 394.0l-7.1 -3.6M210.6 394.0l-8.1 2.2M210.6 394.0l7.8 -0.1M210.6 394.0l-7.9 -1.9M210.6 394.0l4.9 -7.3M210.6 394.0l-5.9 1.9M210.6 394.0l-5.7 3.0M210.6 394.0l4.8 4.2M210.6 394.0l5.2 6.1M210.6 394.0l-7.4 -4.8M210.6 394.0l-5.6 2.2M210.6 394.0l1.2 -7.5M210.6 394.0l-5.3 7.3M210.6 394.0l2.1 5.8M210.6 394.0l6.3 -6.7M210.6 394.0l4.2 -4.4M210.6 394.0l-0.8 8.0M210.6 394.0l-0.7 -8.1M210.6 394.0l-5.8 -6.3M210.6 394.0l6.9 -3.7M210.6 394.0l-7.6 -1.2M210.6 394.0l-7.8 2.5M210.6 394.0l2.2 5.6M210.6 394.0l7.2 -2.5M210.6 394.0l4.2 -7.7M210.6 394.0l4.1 7.9M210.6 394.0l-5.6 5.2M210.6 394.0l-7.3 0.8M210.6 394.0l4.7 -4.8M210.6 394.0l-7.5 -0.6M210.6 394.0l-1.4 6.1M210.6 394.0l0.3 -8.5M210.6 394.0l7.0 3.1M210.6 394.0l-8.2 -0.8M210.6 394.0l4.0 8.2M210.6 394.0l-1.9 -6.1M210.6 394.0l7.7 -0.3M210.6 394.0l-0.2 -8.3M210.6 394.0l-7.1 2.7M210.6 394.0l8.6 1.8M210.6 394.0l-2.9 -5.5M210.6 394.0l-6.1 -5.9M210.6 394.0l3.3 8.2M210.6 394.0l-2.7 -6.5M210.6 394.0l-8.2 -2.2M210.6 394.0l4.7 -7.4M210.6 394.0l-2.0 7.5M210.6 394.0l7.8 -3.4M210.6 394.0l2.8 5.8M210.6 394.0l5.5 -2.4M210.6 394.0l4.1 4.5M210.6 394.0l-4.5 -4.1M210.6 394.0l-1.5 9.0M210.6 394.0l-0.1 7.5M210.6 394.0l-4.6 7.3M210.6 394.0l7.3 1.1M210.6 394.0l8.8 2.9M210.6 394.0l8.1 -3.7M210.6 394.0l-8.7 2.9M210.6 394.0l0.4 -6.5M210.6 394.0l-6.8 3.5M210.6 394.0l4.8 6.4M210.6 394.0l-0.7 -6.2M210.6 394.0l-7.1 -4.8M210.6 394.0l6.3 -6.0M210.6 394.0l-1.6 -6.1M210.6 394.0l-4.0 -7.1M210.6 394.0l-4.3 5.0M210.6 394.0l-4.2 4.6M210.6 394.0l-4.4 -6.3M210.6 394.0l6.8 -0.9M210.6 394.0l-3.0 5.8M210.6 394.0l6.5 -3.7" stroke="#86b6c6" stroke-width="0.45" stroke-opacity="0.7"/>
<path d="M210.9 392.7l0.6 -2.7M211.7 391.7l0.7 -1.5M207.4 392.0l-1.4 -0.8M206.8 393.9l-2.5 -0.1M212.2 394.2l2.0 0.2M210.1 395.9l-0.5 2.1M210.0 391.2l-0.5 -2.6M211.4 395.6l0.6 1.3M207.9 391.5l-1.2 -1.1M209.5 396.3l-0.7 1.4M211.8 392.5l1.6 -1.9M213.4 396.6l1.4 1.3M208.3 394.5l-2.2 0.5M210.1 396.6l-0.5 2.2M212.3 395.6l2.0 1.8M208.3 395.7l-1.0 0.8M209.6 392.9l-1.3 -1.4M212.9 393.1l1.6 -0.6M211.0 391.6l0.3 -2.0M210.8 396.0l0.1 1.5M208.3 393.8l-2.1 -0.2M208.6 395.9l-1.3 1.2M211.8 396.3l0.8 1.6M213.3 394.6l2.0 0.4" stroke="#41666c" stroke-width="0.45" stroke-opacity="0.5"/>
<circle cx="210.6" cy="394" r="1.6" fill="#f2c919" stroke="#4a4420" stroke-width="0.45"/>
<circle cx="170.8" cy="393.8" r="7.4" fill="url(#gC)"/>
<path d="M170.8 393.8l-4.6 4.0M170.8 393.8l5.9 -6.3M170.8 393.8l5.2 6.3M170.8 393.8l5.4 -3.1M170.8 393.8l3.6 -7.0M170.8 393.8l-7.5 0.9M170.8 393.8l-4.4 5.1M170.8 393.8l-3.8 -7.5M170.8 393.8l-1.9 5.8M170.8 393.8l-7.8 0.4M170.8 393.8l1.0 5.8M170.8 393.8l6.2 2.2M170.8 393.8l-3.7 -6.7M170.8 393.8l5.7 -2.4M170.8 393.8l4.7 6.2M170.8 393.8l-5.0 -4.2M170.8 393.8l7.3 1.2M170.8 393.8l-7.1 -1.0M170.8 393.8l-2.4 7.0M170.8 393.8l-6.9 -3.4M170.8 393.8l4.9 5.2M170.8 393.8l2.3 -5.6M170.8 393.8l-3.1 -8.1M170.8 393.8l5.8 2.5M170.8 393.8l0.3 -7.3M170.8 393.8l-8.0 -1.8M170.8 393.8l-2.6 6.9M170.8 393.8l7.6 -4.3M170.8 393.8l-4.9 5.1M170.8 393.8l5.6 4.7M170.8 393.8l-1.9 -5.7M170.8 393.8l-2.5 -7.2M170.8 393.8l-4.8 -5.1M170.8 393.8l5.1 6.3M170.8 393.8l1.3 -7.7M170.8 393.8l-2.2 -5.6M170.8 393.8l6.1 -4.9M170.8 393.8l5.8 -0.8M170.8 393.8l5.7 -3.9M170.8 393.8l7.8 1.6M170.8 393.8l-3.9 -4.2M170.8 393.8l-3.0 6.5M170.8 393.8l6.3 -1.9M170.8 393.8l8.6 1.5M170.8 393.8l4.2 7.0M170.8 393.8l6.7 2.8M170.8 393.8l-5.6 -5.0M170.8 393.8l6.4 -0.7M170.8 393.8l-1.7 7.2M170.8 393.8l3.5 7.1M170.8 393.8l-2.1 -6.5M170.8 393.8l-0.9 6.6M170.8 393.8l-7.0 -0.2M170.8 393.8l5.8 2.2M170.8 393.8l1.6 -8.5M170.8 393.8l3.3 6.2M170.8 393.8l-6.4 2.3M170.8 393.8l-5.2 -2.2M170.8 393.8l8.8 -0.8M170.8 393.8l-6.6 -4.0M170.8 393.8l-6.3 0.6M170.8 393.8l3.9 -4.7M170.8 393.8l8.5 1.7M170.8 393.8l0.3 -5.8M170.8 393.8l1.6 -6.4M170.8 393.8l-2.2 -5.6M170.8 393.8l5.0 -4.9M170.8 393.8l-6.9 -2.4M170.8 393.8l6.7 2.4M170.8 393.8l-5.8 -1.2" stroke="#86b6c6" stroke-width="0.45" stroke-opacity="0.7"/>
<path d="M169.1 392.2l-1.8 -1.8M171.1 396.3l0.2 1.8M170.9 395.3l0.1 1.9M171.9 395.1l1.6 1.9M171.0 390.4l0.1 -2.5M169.6 394.4l-1.2 0.6M169.3 390.6l-1.1 -2.3M168.8 396.4l-1.5 1.9M168.6 391.4l-1.0 -1.2M169.1 391.3l-1.1 -1.7M171.8 391.1l0.6 -1.5M169.2 391.3l-1.2 -1.9M170.7 395.1l-0.1 1.9M170.6 390.8l-0.2 -2.7M171.8 391.7l0.7 -1.5M167.5 393.2l-1.6 -0.3M171.9 396.9l0.9 2.6M170.3 390.3l-0.4 -2.5M168.6 392.0l-1.6 -1.3M172.1 392.5l1.7 -1.7M170.1 391.7l-0.4 -1.2M173.7 395.3l2.1 1.1M172.2 391.7l1.0 -1.4" stroke="#41666c" stroke-width="0.45" stroke-opacity="0.5"/>
<circle cx="170.8" cy="393.8" r="1.5" fill="#f2c919" stroke="#4a4420" stroke-width="0.45"/>
<circle cx="226.7" cy="401.3" r="5.1" fill="url(#gC)"/>
<path d="M226.7 401.3l-4.2 2.1M226.7 401.3l0.2 4.6M226.7 401.3l-3.6 2.1M226.7 401.3l3.7 4.5M226.7 401.3l2.6 -2.9M226.7 401.3l-0.2 5.0M226.7 401.3l-5.1 2.4M226.7 401.3l-4.5 0.1M226.7 401.3l-4.5 -3.0M226.7 401.3l-2.8 -2.9M226.7 401.3l4.7 -0.4M226.7 401.3l1.8 4.3M226.7 401.3l3.2 2.9M226.7 401.3l3.8 -1.9M226.7 401.3l4.7 -3.0M226.7 401.3l0.5 5.8M226.7 401.3l4.3 2.0M226.7 401.3l4.5 -0.4M226.7 401.3l3.0 -4.1M226.7 401.3l-3.2 -5.0M226.7 401.3l1.7 -4.0M226.7 401.3l-2.1 -4.2M226.7 401.3l-4.1 -3.8M226.7 401.3l-0.5 4.4M226.7 401.3l2.5 3.3M226.7 401.3l5.7 -0.4M226.7 401.3l2.3 3.4M226.7 401.3l4.3 3.0M226.7 401.3l0.4 -5.0M226.7 401.3l-0.5 4.4M226.7 401.3l0.4 5.0M226.7 401.3l5.6 1.5M226.7 401.3l0.5 -4.7M226.7 401.3l5.2 -2.7M226.7 401.3l-3.6 -1.5M226.7 401.3l-4.2 -1.8M226.7 401.3l1.4 -4.9M226.7 401.3l1.0 -4.2M226.7 401.3l-0.1 4.4M226.7 401.3l-3.2 3.9M226.7 401.3l-5.8 1.5M226.7 401.3l-3.2 -4.1M226.7 401.3l-1.2 5.3M226.7 401.3l5.1 0.9M226.7 401.3l4.1 -0.4M226.7 401.3l3.0 -3.3M226.7 401.3l-2.5 4.0M226.7 401.3l-4.0 4.4M226.7 401.3l-4.4 1.4M226.7 401.3l5.3 2.7M226.7 401.3l-6.0 -0.3M226.7 401.3l0.7 4.5" stroke="#86b6c6" stroke-width="0.45" stroke-opacity="0.7"/>
<path d="M224.5 400.5l-1.6 -0.6M227.2 400.5l0.7 -1.2M224.7 401.2l-1.0 -0.1M225.0 402.3l-0.7 0.4M225.2 401.8l-1.7 0.6M228.8 401.2l1.5 -0.1M228.2 399.9l0.7 -0.6M225.8 401.2l-1.0 -0.1M226.9 399.0l0.1 -0.9M226.0 399.4l-0.6 -1.8M225.6 399.6l-0.8 -1.3M227.6 401.1l1.3 -0.3M225.3 403.3l-1.1 1.5M226.3 402.3l-0.5 1.4M226.7 403.7l0.0 1.6M227.0 399.9l0.3 -1.4M224.9 400.3l-1.2 -0.7" stroke="#41666c" stroke-width="0.45" stroke-opacity="0.5"/>
<circle cx="226.7" cy="401.3" r="1.4" fill="#f2c919" stroke="#4a4420" stroke-width="0.45"/>
<circle cx="243.6" cy="426.6" r="8.7" fill="url(#gC)"/>
<path d="M243.6 426.6l-6.2 3.9M243.6 426.6l1.1 9.5M243.6 426.6l-4.9 -7.5M243.6 426.6l5.4 -4.8M243.6 426.6l5.1 -6.2M243.6 426.6l-7.4 7.2M243.6 426.6l-4.7 6.0M243.6 426.6l9.1 -2.7M243.6 426.6l-9.0 1.6M243.6 426.6l6.1 4.7M243.6 426.6l-9.5 -1.7M243.6 426.6l8.9 -5.1M243.6 426.6l6.5 -7.5M243.6 426.6l-4.1 -8.0M243.6 426.6l6.9 6.0M243.6 426.6l4.4 -6.8M243.6 426.6l5.4 5.1M243.6 426.6l7.8 -6.2M243.6 426.6l-1.7 7.1M243.6 426.6l-1.4 -8.1M243.6 426.6l-1.9 9.9M243.6 426.6l5.5 7.2M243.6 426.6l6.8 -1.7M243.6 426.6l-5.8 -3.9M243.6 426.6l-5.2 -4.6M243.6 426.6l-8.4 -2.9M243.6 426.6l0.8 -8.1M243.6 426.6l6.8 7.4M243.6 426.6l-5.6 -7.2M243.6 426.6l-10.2 0.0M243.6 426.6l-7.3 -1.9M243.6 426.6l-9.3 1.5M243.6 426.6l-8.2 1.5M243.6 426.6l-3.1 7.1M243.6 426.6l-5.3 6.0M243.6 426.6l-3.1 -8.3M243.6 426.6l8.0 0.3M243.6 426.6l9.4 0.0M243.6 426.6l-0.9 9.8M243.6 426.6l-5.3 -7.5M243.6 426.6l2.2 -8.6M243.6 426.6l-0.8 -9.6M243.6 426.6l8.4 3.9M243.6 426.6l4.2 -6.4M243.6 426.6l-7.2 6.8M243.6 426.6l6.8 -3.2M243.6 426.6l-8.5 0.1M243.6 426.6l-6.5 -3.6M243.6 426.6l-7.3 6.7M243.6 426.6l0.7 9.9M243.6 426.6l6.8 -1.4M243.6 426.6l6.5 -4.0M243.6 426.6l6.1 5.9M243.6 426.6l8.9 -0.1M243.6 426.6l-1.3 8.8M243.6 426.6l-1.9 -7.1M243.6 426.6l7.8 -3.1M243.6 426.6l5.6 7.2M243.6 426.6l-7.7 -0.3M243.6 426.6l4.8 -4.6M243.6 426.6l-1.9 8.8M243.6 426.6l3.9 5.5M243.6 426.6l0.5 -7.2M243.6 426.6l3.0 7.6M243.6 426.6l-7.6 3.7M243.6 426.6l8.4 4.5M243.6 426.6l9.0 0.7M243.6 426.6l-5.5 -5.2M243.6 426.6l-0.5 10.1M243.6 426.6l-1.0 -7.6M243.6 426.6l7.4 6.0M243.6 426.6l5.2 5.2M243.6 426.6l-2.9 -8.3M243.6 426.6l-2.1 -6.7M243.6 426.6l-5.4 8.9M243.6 426.6l-2.6 -7.6M243.6 426.6l-3.0 6.3M243.6 426.6l0.6 9.0M243.6 426.6l-0.8 9.3M243.6 426.6l-3.2 5.9" stroke="#86b6c6" stroke-width="0.45" stroke-opacity="0.7"/>
<path d="M243.6 426.6l5.2 -2.7M243.6 426.6l2.8 9.6M243.6 426.6l5.7 7.9M243.6 426.6l3.8 5.3M243.6 426.6l7.6 0.4M243.6 426.6l5.5 8.3M243.6 426.6l-1.3 7.7M243.6 426.6l-1.0 7.2M243.6 426.6l4.7 8.0M243.6 426.6l1.9 9.3M243.6 426.6l1.4 6.9M243.6 426.6l-2.1 9.3M243.6 426.6l-1.2 7.0M243.6 426.6l6.5 3.6M243.6 426.6l-1.5 8.3M243.6 426.6l3.9 9.5M243.6 426.6l7.6 3.5M243.6 426.6l5.3 5.1M243.6 426.6l5.9 6.5M243.6 426.6l8.1 -3.1M243.6 426.6l6.2 2.5M243.6 426.6l2.9 9.7M243.6 426.6l2.5 9.8M243.6 426.6l7.8 -0.8M243.6 426.6l6.1 0.3M243.6 426.6l1.9 6.1M243.6 426.6l-1.4 8.2M243.6 426.6l8.2 6.0M243.6 426.6l9.9 2.9M243.6 426.6l1.6 9.0M243.6 426.6l-0.9 8.3M243.6 426.6l8.5 4.0M243.6 426.6l9.4 -1.1M243.6 426.6l10.1 -3.1M243.6 426.6l-3.2 6.5M243.6 426.6l8.7 3.1M243.6 426.6l-3.9 7.2M243.6 426.6l6.7 5.1M243.6 426.6l9.7 -3.0M243.6 426.6l3.3 8.9" stroke="#53a6d4" stroke-width="0.5" stroke-opacity="0.75"/>
<path d="M244.5 425.0l1.0 -1.7M242.9 424.8l-0.8 -2.3M241.3 426.4l-1.6 -0.1M242.1 425.8l-2.5 -1.3M244.8 425.2l1.8 -2.0M241.0 424.9l-1.7 -1.1M243.7 430.7l0.0 2.9M245.2 427.8l1.7 1.3M242.0 427.3l-2.9 1.2M242.9 424.4l-0.6 -2.1M244.6 428.4l0.9 1.7M245.8 424.6l1.2 -1.0M245.5 425.2l1.2 -0.9M243.6 423.0l-0.0 -2.9M246.6 429.2l1.3 1.2M240.7 423.5l-1.9 -2.0M241.1 428.7l-1.8 1.6M241.8 424.1l-1.9 -2.6M243.7 424.1l0.1 -2.9M242.7 424.6l-1.1 -2.5M241.9 425.8l-2.3 -1.1M240.8 425.8l-2.9 -0.8M242.4 422.8l-0.5 -1.7M246.2 423.7l0.9 -1.1M240.1 428.3l-1.8 0.9M245.1 426.0l2.7 -1.2" stroke="#41666c" stroke-width="0.45" stroke-opacity="0.5"/>
<circle cx="243.6" cy="426.6" r="1.8" fill="#f2c919" stroke="#4a4420" stroke-width="0.45"/>
<circle cx="206.3" cy="482" r="12.9" fill="url(#gN)"/>
<path d="M206.3 482.0l13.2 -1.4M206.3 482.0l-12.8 -0.4M206.3 482.0l-9.0 7.3M206.3 482.0l-1.6 -12.0M206.3 482.0l-8.0 -6.1M206.3 482.0l15.2 -0.7M206.3 482.0l-2.2 13.8M206.3 482.0l-13.5 -4.0M206.3 482.0l4.7 13.7M206.3 482.0l-13.0 2.4M206.3 482.0l-6.1 -7.9M206.3 482.0l-13.8 -1.2M206.3 482.0l7.0 10.1M206.3 482.0l-10.7 -2.2M206.3 482.0l2.1 -11.0M206.3 482.0l-12.7 2.4M206.3 482.0l7.4 12.2M206.3 482.0l10.7 0.0M206.3 482.0l2.1 -13.3M206.3 482.0l-3.3 -14.4M206.3 482.0l-4.4 -13.5M206.3 482.0l4.2 14.5M206.3 482.0l-3.0 -11.5M206.3 482.0l3.0 -10.8M206.3 482.0l5.6 -12.5M206.3 482.0l9.3 11.4M206.3 482.0l-1.9 -12.2M206.3 482.0l3.6 -11.9M206.3 482.0l8.0 -6.0M206.3 482.0l12.0 6.5M206.3 482.0l-12.7 0.2M206.3 482.0l-5.5 12.4M206.3 482.0l12.4 -0.9M206.3 482.0l2.1 -11.9M206.3 482.0l-12.4 2.6M206.3 482.0l5.9 -10.1M206.3 482.0l13.6 3.9M206.3 482.0l10.9 -10.3M206.3 482.0l-6.7 8.4M206.3 482.0l10.0 5.1M206.3 482.0l-10.9 -3.9M206.3 482.0l-12.4 5.8M206.3 482.0l-11.6 2.3M206.3 482.0l7.5 12.4M206.3 482.0l12.6 2.0M206.3 482.0l-14.9 -0.9M206.3 482.0l-9.8 9.3M206.3 482.0l-14.2 -1.2M206.3 482.0l-15.0 -2.2M206.3 482.0l-9.9 -3.4M206.3 482.0l9.5 -3.9M206.3 482.0l11.3 3.5M206.3 482.0l-7.5 -11.0M206.3 482.0l11.3 7.0M206.3 482.0l-4.1 -13.1M206.3 482.0l-9.8 -6.3M206.3 482.0l9.5 4.4M206.3 482.0l8.3 9.3M206.3 482.0l-7.9 -10.1M206.3 482.0l-5.4 -10.4M206.3 482.0l5.1 12.0M206.3 482.0l5.5 -10.5M206.3 482.0l8.2 12.5M206.3 482.0l10.4 8.6M206.3 482.0l-9.7 7.5M206.3 482.0l8.6 -6.8M206.3 482.0l5.9 -13.7M206.3 482.0l7.9 -13.1M206.3 482.0l2.3 -10.0M206.3 482.0l-4.5 9.3M206.3 482.0l-2.8 12.1M206.3 482.0l-12.5 8.1M206.3 482.0l13.2 -4.0M206.3 482.0l-14.5 -1.9M206.3 482.0l8.9 4.6M206.3 482.0l9.7 -8.4M206.3 482.0l8.6 -10.5M206.3 482.0l-11.4 -3.5M206.3 482.0l-0.5 -15.1M206.3 482.0l-10.9 -2.0M206.3 482.0l-9.5 6.5M206.3 482.0l5.9 -10.1M206.3 482.0l-11.5 -3.6M206.3 482.0l13.3 6.8M206.3 482.0l-7.0 -12.0M206.3 482.0l-6.6 13.6M206.3 482.0l-11.8 2.3M206.3 482.0l13.0 4.2M206.3 482.0l-7.9 -10.9M206.3 482.0l8.5 8.9M206.3 482.0l-9.6 2.7M206.3 482.0l12.5 2.3M206.3 482.0l10.5 8.6M206.3 482.0l2.4 14.1M206.3 482.0l-5.2 10.6M206.3 482.0l-8.5 10.9M206.3 482.0l-12.0 -8.5M206.3 482.0l-5.9 13.7M206.3 482.0l2.6 14.3M206.3 482.0l6.4 -12.2M206.3 482.0l1.0 10.2M206.3 482.0l-5.9 10.8M206.3 482.0l11.0 -2.0M206.3 482.0l-5.2 -11.1M206.3 482.0l13.1 8.0M206.3 482.0l1.1 10.4M206.3 482.0l6.5 7.7M206.3 482.0l-7.6 -6.3M206.3 482.0l-0.8 -10.9M206.3 482.0l-4.3 13.9M206.3 482.0l8.9 11.0M206.3 482.0l14.3 -1.9M206.3 482.0l-2.6 10.4M206.3 482.0l5.4 -8.7M206.3 482.0l-9.1 9.7M206.3 482.0l5.7 -11.8M206.3 482.0l-11.6 0.5M206.3 482.0l-4.0 -13.3M206.3 482.0l4.8 -11.3M206.3 482.0l1.1 -12.0M206.3 482.0l7.4 10.9M206.3 482.0l10.1 3.3M206.3 482.0l11.8 -0.2M206.3 482.0l14.3 -5.1M206.3 482.0l-7.3 12.8M206.3 482.0l12.8 -6.4M206.3 482.0l-3.3 11.9M206.3 482.0l-6.0 -12.4M206.3 482.0l10.6 -6.3M206.3 482.0l-1.7 -10.0M206.3 482.0l7.1 -9.0M206.3 482.0l-1.9 -9.7M206.3 482.0l-10.3 7.0M206.3 482.0l-12.7 1.2M206.3 482.0l14.5 -1.0M206.3 482.0l-7.2 7.1M206.3 482.0l4.0 13.8M206.3 482.0l-2.9 -12.4M206.3 482.0l-0.7 -10.9M206.3 482.0l-12.3 1.8M206.3 482.0l-6.2 10.8M206.3 482.0l9.3 9.1M206.3 482.0l-7.8 -10.2M206.3 482.0l3.3 -14.2M206.3 482.0l-7.8 -9.6M206.3 482.0l-7.8 8.7M206.3 482.0l9.1 -4.5M206.3 482.0l7.5 9.3M206.3 482.0l5.3 12.4M206.3 482.0l13.3 -3.0M206.3 482.0l-12.1 -3.7M206.3 482.0l-9.4 8.4M206.3 482.0l-2.8 -11.3M206.3 482.0l2.8 10.5M206.3 482.0l12.8 2.2M206.3 482.0l-4.5 -9.8M206.3 482.0l-11.0 -5.7M206.3 482.0l6.8 8.0M206.3 482.0l1.8 -14.8M206.3 482.0l-3.5 12.6M206.3 482.0l-11.6 5.2M206.3 482.0l-5.6 11.4M206.3 482.0l6.4 9.3M206.3 482.0l6.3 11.0M206.3 482.0l-9.7 -8.7M206.3 482.0l-5.1 12.4M206.3 482.0l-13.6 6.3M206.3 482.0l-6.4 8.4M206.3 482.0l-10.5 4.7M206.3 482.0l6.4 -12.4M206.3 482.0l11.9 -3.7M206.3 482.0l1.2 -13.4M206.3 482.0l8.8 5.3M206.3 482.0l12.0 -9.2M206.3 482.0l-7.4 7.0M206.3 482.0l3.7 14.0M206.3 482.0l-9.3 10.3M206.3 482.0l-3.3 -10.9M206.3 482.0l9.3 5.5M206.3 482.0l-0.9 11.1M206.3 482.0l-13.6 0.6M206.3 482.0l-11.2 -1.0M206.3 482.0l8.2 -5.6M206.3 482.0l3.9 -11.5M206.3 482.0l0.4 -9.8M206.3 482.0l14.9 2.9M206.3 482.0l-12.4 1.9M206.3 482.0l14.1 4.4M206.3 482.0l-9.0 12.0M206.3 482.0l9.3 7.3" stroke="#53a6d4" stroke-width="0.45" stroke-opacity="0.7"/>
<path d="M210.0 477.3l2.8 -3.6M211.3 484.0l4.1 1.7M209.9 478.3l1.8 -1.9M203.6 482.0l-2.2 -0.0M202.1 479.8l-4.0 -2.1M211.3 484.5l3.1 1.6M206.1 478.7l-0.2 -3.5M205.8 478.5l-0.3 -2.2M204.7 486.7l-0.8 2.2M210.6 481.8l3.6 -0.2M210.8 484.8l3.1 2.0M201.9 485.0l-2.0 1.4M206.9 487.8l0.3 2.6M211.6 480.3l4.6 -1.5M208.1 477.7l1.0 -2.5M208.0 476.9l1.5 -4.5M206.2 479.6l-0.2 -4.5M205.6 477.6l-0.4 -2.2M206.8 484.3l0.4 2.1M204.2 482.7l-3.9 1.3M212.0 484.2l4.0 1.5M202.1 484.4l-2.2 1.3M210.8 481.0l2.8 -0.6M209.0 483.8l2.3 1.6M204.0 479.2l-1.8 -2.3M202.1 484.6l-4.0 2.5M206.7 479.3l0.6 -4.6M208.2 483.2l3.5 2.2M203.9 480.8l-4.2 -2.2M206.7 479.0l0.5 -4.2M208.9 485.4l2.1 2.7M204.1 483.0l-3.7 1.7M201.4 485.3l-1.8 1.2M204.4 487.4l-1.2 3.3M210.6 485.9l1.8 1.7M202.2 480.9l-3.5 -0.9M206.3 485.1l-0.0 3.5M200.8 479.9l-3.7 -1.4M211.4 483.7l3.8 1.3M201.4 485.7l-3.3 2.5M203.2 481.6l-2.5 -0.3M206.2 476.9l-0.1 -4.5M211.1 482.3l3.4 0.2M209.8 483.2l4.4 1.5M207.6 487.7l0.8 3.7M206.1 478.3l-0.2 -4.5M203.5 482.9l-3.8 1.2M203.6 479.1l-1.9 -2.0M204.1 480.0l-3.2 -2.9M209.5 486.1l2.1 2.7M201.9 478.3l-2.5 -2.1M202.3 479.7l-3.9 -2.3M212.4 481.0l4.5 -0.8M203.6 478.3l-1.4 -1.9M204.2 484.1l-1.9 2.0M202.7 482.9l-2.3 0.6M203.4 485.8l-2.4 3.1M208.8 478.0l1.7 -2.7M202.1 477.6l-2.4 -2.5M201.2 485.2l-3.6 2.3M202.7 482.3l-2.5 0.2M204.5 476.5l-1.0 -3.0M208.3 476.3l0.9 -2.6" stroke="#1f6a9a" stroke-width="0.45" stroke-opacity="0.5"/>
<circle cx="206.3" cy="482" r="2.7" fill="#f2c919" stroke="#4a4420" stroke-width="0.45"/>
<circle cx="222.9" cy="513.5" r="15.2" fill="url(#gN)"/>
<path d="M222.9 513.5l-0.1 -12.8M222.9 513.5l13.9 -4.4M222.9 513.5l10.0 9.0M222.9 513.5l-5.3 17.3M222.9 513.5l-12.0 1.8M222.9 513.5l1.2 16.6M222.9 513.5l-10.2 -8.0M222.9 513.5l-7.6 14.2M222.9 513.5l1.0 -12.6M222.9 513.5l6.8 -11.6M222.9 513.5l-12.8 5.8M222.9 513.5l6.3 -11.9M222.9 513.5l-14.4 -2.2M222.9 513.5l-16.0 -2.0M222.9 513.5l9.6 -10.9M222.9 513.5l1.6 -13.8M222.9 513.5l-8.7 9.2M222.9 513.5l-6.5 14.5M222.9 513.5l1.2 13.7M222.9 513.5l10.9 9.2M222.9 513.5l-9.8 9.0M222.9 513.5l12.2 0.0M222.9 513.5l-1.1 -15.4M222.9 513.5l9.8 -7.2M222.9 513.5l16.4 -3.2M222.9 513.5l-8.5 11.7M222.9 513.5l-10.3 14.5M222.9 513.5l-10.6 -6.2M222.9 513.5l-3.7 13.4M222.9 513.5l-14.9 0.5M222.9 513.5l7.5 -11.2M222.9 513.5l4.1 -15.6M222.9 513.5l-12.4 -10.3M222.9 513.5l11.0 -12.8M222.9 513.5l-9.1 -7.8M222.9 513.5l9.8 7.0M222.9 513.5l12.5 2.5M222.9 513.5l-11.3 9.0M222.9 513.5l-14.7 -3.2M222.9 513.5l-5.8 -12.7M222.9 513.5l2.7 -17.0M222.9 513.5l8.8 13.6M222.9 513.5l-15.9 6.4M222.9 513.5l-12.0 4.5M222.9 513.5l-10.2 -9.7M222.9 513.5l12.4 -2.1M222.9 513.5l-3.4 -15.6M222.9 513.5l7.6 -13.6M222.9 513.5l12.5 10.9M222.9 513.5l-11.7 -1.4M222.9 513.5l11.6 -3.5M222.9 513.5l11.5 8.8M222.9 513.5l12.1 -10.6M222.9 513.5l4.3 -14.5M222.9 513.5l-11.1 5.6M222.9 513.5l10.7 -9.2M222.9 513.5l-11.6 -6.3M222.9 513.5l-0.2 16.5M222.9 513.5l8.3 11.9M222.9 513.5l-9.2 -12.6M222.9 513.5l-12.9 0.0M222.9 513.5l15.9 -8.0M222.9 513.5l3.0 -17.1M222.9 513.5l11.5 -3.0M222.9 513.5l1.8 13.8M222.9 513.5l13.6 7.4M222.9 513.5l-6.5 -14.1M222.9 513.5l10.1 -11.5M222.9 513.5l-11.2 -12.2M222.9 513.5l2.3 -17.7M222.9 513.5l15.0 3.7M222.9 513.5l5.1 16.1M222.9 513.5l6.7 -15.2M222.9 513.5l12.1 3.3M222.9 513.5l8.4 16.0M222.9 513.5l10.6 -13.4M222.9 513.5l-3.3 -15.1M222.9 513.5l0.3 -14.5M222.9 513.5l14.0 -8.0M222.9 513.5l-10.3 8.2M222.9 513.5l-12.0 -8.5M222.9 513.5l-2.0 12.3M222.9 513.5l14.0 -10.9M222.9 513.5l-5.1 10.4M222.9 513.5l13.7 8.0M222.9 513.5l-12.2 -11.2M222.9 513.5l-1.1 -15.6M222.9 513.5l-8.0 -15.3M222.9 513.5l-15.4 -4.3M222.9 513.5l-12.2 4.9M222.9 513.5l-2.2 11.8M222.9 513.5l16.3 -3.6M222.9 513.5l-16.8 2.6M222.9 513.5l11.4 -1.7M222.9 513.5l-2.7 -13.9M222.9 513.5l-12.2 2.2M222.9 513.5l1.2 16.2M222.9 513.5l3.3 -11.4M222.9 513.5l-14.1 4.2M222.9 513.5l1.7 11.5M222.9 513.5l-5.1 -14.3M222.9 513.5l8.1 -9.4M222.9 513.5l-8.2 -12.0M222.9 513.5l4.8 13.4M222.9 513.5l-2.2 12.8M222.9 513.5l0.8 17.0M222.9 513.5l13.1 1.0M222.9 513.5l13.4 10.3M222.9 513.5l11.4 -7.4M222.9 513.5l-11.6 8.4M222.9 513.5l-7.8 9.8M222.9 513.5l2.5 17.2M222.9 513.5l6.1 16.2M222.9 513.5l4.1 -17.0M222.9 513.5l-12.3 -5.4M222.9 513.5l-10.3 10.6M222.9 513.5l15.4 6.5M222.9 513.5l-9.9 13.2M222.9 513.5l12.5 -8.8M222.9 513.5l-0.1 17.7M222.9 513.5l2.1 14.9M222.9 513.5l-8.8 -7.5M222.9 513.5l-1.8 -18.0M222.9 513.5l14.5 7.5M222.9 513.5l-5.4 12.5M222.9 513.5l14.1 0.4M222.9 513.5l-10.8 -7.3M222.9 513.5l-6.9 -11.2M222.9 513.5l-4.7 13.7M222.9 513.5l-11.9 -10.6M222.9 513.5l12.9 5.5M222.9 513.5l-4.0 -12.4M222.9 513.5l-14.1 10.2M222.9 513.5l-10.0 -10.9M222.9 513.5l7.0 -14.6M222.9 513.5l-15.5 -3.9M222.9 513.5l10.6 10.4M222.9 513.5l-5.2 13.9M222.9 513.5l6.4 10.3M222.9 513.5l-9.2 -9.0M222.9 513.5l-10.2 -7.5M222.9 513.5l16.5 1.1M222.9 513.5l-0.3 -16.5M222.9 513.5l-11.1 -3.8M222.9 513.5l-3.3 -13.5M222.9 513.5l-16.4 -2.0M222.9 513.5l-5.5 10.8M222.9 513.5l-12.0 -4.3M222.9 513.5l-10.2 -11.7M222.9 513.5l3.4 -14.1M222.9 513.5l14.5 5.3M222.9 513.5l-12.7 2.8M222.9 513.5l15.9 -5.8M222.9 513.5l-3.6 -11.4M222.9 513.5l-16.6 3.9M222.9 513.5l4.4 15.0M222.9 513.5l-8.7 -8.3M222.9 513.5l11.4 -9.6M222.9 513.5l-13.6 7.2M222.9 513.5l-9.6 -8.9M222.9 513.5l6.0 -12.7M222.9 513.5l14.4 -9.3M222.9 513.5l-2.4 -13.6M222.9 513.5l-3.8 -11.3M222.9 513.5l10.7 -7.0M222.9 513.5l6.9 14.0M222.9 513.5l-8.1 12.7M222.9 513.5l-10.4 10.1M222.9 513.5l10.5 8.6M222.9 513.5l-13.7 -3.7M222.9 513.5l-5.7 -11.7M222.9 513.5l-13.2 -0.9M222.9 513.5l2.7 -13.2M222.9 513.5l4.7 -13.4M222.9 513.5l-17.4 1.7M222.9 513.5l16.3 7.2M222.9 513.5l11.9 3.3M222.9 513.5l11.2 9.8M222.9 513.5l-14.0 -9.9M222.9 513.5l-12.4 -0.9M222.9 513.5l1.5 11.5M222.9 513.5l-10.6 11.2M222.9 513.5l-12.8 5.0M222.9 513.5l-11.9 0.4M222.9 513.5l-13.4 -2.9M222.9 513.5l-13.8 -2.4M222.9 513.5l2.5 -14.2M222.9 513.5l12.5 6.4M222.9 513.5l-8.9 -9.1M222.9 513.5l-8.8 -10.1M222.9 513.5l12.9 -7.3M222.9 513.5l12.1 -3.8M222.9 513.5l-4.9 13.6M222.9 513.5l2.4 13.8M222.9 513.5l-4.7 16.0M222.9 513.5l-4.5 16.4M222.9 513.5l6.1 -12.4M222.9 513.5l2.9 15.1M222.9 513.5l11.1 -4.8M222.9 513.5l9.9 -11.1M222.9 513.5l-12.5 3.8M222.9 513.5l13.0 -1.3M222.9 513.5l2.9 16.8M222.9 513.5l9.5 12.8M222.9 513.5l14.8 1.0M222.9 513.5l15.4 3.7M222.9 513.5l-12.9 0.6M222.9 513.5l3.3 12.1M222.9 513.5l14.7 -2.3M222.9 513.5l12.2 3.2M222.9 513.5l5.1 14.8M222.9 513.5l3.4 11.0M222.9 513.5l15.1 -1.5M222.9 513.5l2.3 -11.4M222.9 513.5l11.6 10.3M222.9 513.5l-17.4 -2.6M222.9 513.5l11.5 -2.3M222.9 513.5l-11.6 2.0M222.9 513.5l-14.7 -10.3M222.9 513.5l-8.4 10.6M222.9 513.5l-15.9 0.4M222.9 513.5l7.1 -9.6M222.9 513.5l6.0 12.8M222.9 513.5l4.4 15.9M222.9 513.5l-8.9 10.2M222.9 513.5l-5.8 12.3M222.9 513.5l16.0 -3.3M222.9 513.5l-11.4 2.5M222.9 513.5l-12.0 -4.9M222.9 513.5l5.4 -16.0M222.9 513.5l11.6 0.1M222.9 513.5l9.0 -12.1M222.9 513.5l5.5 11.5M222.9 513.5l-8.8 -13.0M222.9 513.5l-5.9 11.2M222.9 513.5l6.2 14.7M222.9 513.5l11.2 8.9M222.9 513.5l0.5 -16.4M222.9 513.5l-3.8 -11.0M222.9 513.5l-7.7 11.9M222.9 513.5l-8.4 -8.7M222.9 513.5l-15.2 -9.6M222.9 513.5l14.1 -3.0M222.9 513.5l-11.4 5.9M222.9 513.5l-16.1 3.0" stroke="#53a6d4" stroke-width="0.45" stroke-opacity="0.7"/>
<path d="M219.7 516.2l-3.6 3.1M223.2 511.0l0.6 -5.4M216.7 511.6l-4.7 -1.4M223.2 510.5l0.2 -2.9M219.3 513.2l-2.5 -0.2M216.8 511.6l-3.0 -0.9M225.9 512.6l5.4 -1.6M222.5 509.5l-0.4 -4.2M218.6 512.8l-4.9 -0.8M221.4 507.4l-0.9 -3.5M224.8 511.4l2.4 -2.6M219.3 510.3l-2.1 -1.9M223.5 507.0l0.4 -4.5M225.2 519.6l1.7 4.5M225.6 509.2l2.2 -3.5M217.3 514.8l-3.5 0.8M225.2 517.7l1.4 2.5M225.1 519.5l0.9 2.4M225.7 508.3l2.6 -4.8M220.8 508.6l-1.2 -2.8M227.0 518.8l3.2 4.1M224.8 520.5l1.2 4.5M224.2 507.4l0.8 -3.5M219.8 515.7l-2.4 1.8M219.0 511.6l-4.7 -2.3M221.7 516.3l-1.0 2.4M215.6 513.9l-5.4 0.3M219.4 508.3l-1.4 -2.1M223.8 508.2l0.5 -3.2M228.6 514.7l2.6 0.6M220.3 513.4l-4.6 -0.1M229.9 515.2l4.9 1.2M225.3 514.3l5.3 1.8M225.9 507.9l1.9 -3.6M225.1 507.8l1.9 -4.8M222.4 516.3l-0.8 4.0M217.1 509.7l-3.6 -2.3M223.3 516.1l0.5 3.0M225.3 512.7l4.4 -1.5M227.4 511.5l4.9 -2.1M219.6 510.5l-2.7 -2.5M226.2 514.7l2.5 0.9M220.7 508.3l-0.9 -2.3M220.5 514.7l-4.0 2.0M220.6 518.4l-1.2 2.7M227.9 510.6l4.3 -2.5M225.3 509.5l1.4 -2.3M218.1 511.0l-4.4 -2.2M218.2 511.6l-2.9 -1.2M224.1 516.2l1.5 3.3M222.6 510.7l-0.5 -3.9M220.5 511.8l-2.3 -1.7M229.2 512.9l2.9 -0.3M227.6 513.0l3.1 -0.3M226.0 510.4l2.3 -2.3M215.7 512.5l-3.3 -0.4M218.7 510.5l-2.1 -1.5M226.1 515.9l4.0 3.0M222.0 510.7l-1.4 -4.3M224.0 510.4l1.4 -3.9M218.0 511.2l-2.9 -1.4M221.0 508.6l-2.1 -5.3M223.7 516.9l0.7 2.8M220.6 509.6l-2.2 -3.7M221.5 510.5l-1.9 -4.2M227.4 517.3l4.1 3.4M225.6 518.2l1.4 2.6M222.2 509.0l-0.5 -3.1M219.7 518.5l-2.8 4.4M221.5 519.2l-0.9 3.6M219.7 509.6l-2.0 -2.5M224.3 515.6l3.1 4.6M222.6 519.3l-0.3 5.3M218.1 517.5l-2.5 2.1M220.1 508.8l-2.2 -3.6M224.1 510.8l1.5 -3.5M221.7 507.8l-0.6 -2.8M221.0 515.3l-2.9 2.9M229.7 515.1l4.4 1.0M224.6 511.1l2.2 -3.1M225.4 517.1l2.5 3.6" stroke="#1f6a9a" stroke-width="0.45" stroke-opacity="0.5"/>
<circle cx="222.9" cy="513.5" r="2.7" fill="#f2c919" stroke="#4a4420" stroke-width="0.45"/>
<circle cx="240" cy="478" r="8.3" fill="url(#gN)"/>
<path d="M240.0 478.0l4.7 -8.6M240.0 478.0l-5.1 7.6M240.0 478.0l4.7 -8.4M240.0 478.0l0.1 9.1M240.0 478.0l7.8 3.3M240.0 478.0l6.2 -3.8M240.0 478.0l-5.0 6.8M240.0 478.0l-4.9 7.1M240.0 478.0l5.1 4.2M240.0 478.0l6.5 2.7M240.0 478.0l-6.9 -1.8M240.0 478.0l-5.6 7.7M240.0 478.0l-1.6 -9.5M240.0 478.0l6.5 -3.6M240.0 478.0l4.0 7.3M240.0 478.0l2.1 -6.6M240.0 478.0l-4.6 4.7M240.0 478.0l3.3 -6.6M240.0 478.0l-8.4 2.9M240.0 478.0l7.5 2.5M240.0 478.0l-4.8 8.2M240.0 478.0l7.9 3.7M240.0 478.0l-6.8 -2.3M240.0 478.0l5.4 -8.0M240.0 478.0l-5.4 8.2M240.0 478.0l-8.0 -3.8M240.0 478.0l-6.0 3.8M240.0 478.0l8.4 2.1M240.0 478.0l-7.6 2.2M240.0 478.0l-9.1 2.2M240.0 478.0l3.7 8.6M240.0 478.0l-7.6 -0.1M240.0 478.0l-7.1 5.7M240.0 478.0l-7.5 -2.1M240.0 478.0l0.3 8.0M240.0 478.0l-6.6 -4.0M240.0 478.0l-6.6 4.9M240.0 478.0l-8.8 0.9M240.0 478.0l-1.7 7.4M240.0 478.0l-0.3 6.6M240.0 478.0l1.6 -7.4M240.0 478.0l7.5 5.9M240.0 478.0l-0.0 6.8M240.0 478.0l-6.4 -7.1M240.0 478.0l-6.5 1.7M240.0 478.0l-0.6 -7.5M240.0 478.0l0.8 -9.2M240.0 478.0l7.6 0.1M240.0 478.0l3.4 -8.5M240.0 478.0l-0.5 9.4M240.0 478.0l-3.8 7.4M240.0 478.0l-7.2 -0.4M240.0 478.0l-7.1 -0.6M240.0 478.0l-2.8 9.5M240.0 478.0l-6.8 5.8M240.0 478.0l-3.1 7.5M240.0 478.0l-6.0 -2.6M240.0 478.0l-4.3 -6.8M240.0 478.0l-1.1 -6.5M240.0 478.0l-0.4 6.9M240.0 478.0l-3.3 8.9M240.0 478.0l2.2 -6.8M240.0 478.0l-2.8 6.7M240.0 478.0l4.5 -4.5M240.0 478.0l-4.6 -8.6M240.0 478.0l-4.3 8.1M240.0 478.0l-4.1 6.3M240.0 478.0l-3.3 6.1M240.0 478.0l-5.9 2.4M240.0 478.0l5.7 -7.2M240.0 478.0l6.0 -4.5M240.0 478.0l-6.3 -1.3M240.0 478.0l6.2 7.7M240.0 478.0l-0.4 8.9M240.0 478.0l4.3 -5.9M240.0 478.0l3.9 -8.0M240.0 478.0l4.3 -5.5" stroke="#53a6d4" stroke-width="0.45" stroke-opacity="0.7"/>
<path d="M236.2 477.0l-2.9 -0.8M239.5 479.3l-0.5 1.3M240.3 480.4l0.3 2.6M241.8 476.8l2.0 -1.4M236.3 478.7l-1.7 0.3M237.9 475.8l-1.9 -2.0M240.7 474.6l0.3 -1.5M238.1 477.4l-2.1 -0.7M243.0 480.0l1.6 1.1M237.4 476.1l-2.2 -1.6M238.5 477.3l-1.7 -0.8M242.3 476.0l2.3 -2.0M237.3 479.3l-1.3 0.6M241.6 474.5l1.1 -2.4M241.6 478.7l2.1 0.9M241.9 477.8l1.9 -0.2M240.4 475.3l0.4 -3.1M239.4 481.2l-0.6 2.9M236.7 479.4l-1.7 0.7M242.0 479.6l2.1 1.7M241.4 474.5l1.0 -2.6M241.1 474.4l0.6 -2.0M240.7 474.8l0.3 -1.5M238.7 479.2l-2.0 2.0M241.9 477.8l2.4 -0.3" stroke="#1f6a9a" stroke-width="0.45" stroke-opacity="0.5"/>
<circle cx="240" cy="478" r="1.7" fill="#f2c919" stroke="#4a4420" stroke-width="0.45"/>
<circle cx="145.6" cy="505.8" r="11.7" fill="url(#gM)"/>
<path d="M145.6 505.8l11.4 0.7M145.6 505.8l-6.0 10.6M145.6 505.8l-8.5 4.7M145.6 505.8l-3.0 13.0M145.6 505.8l-5.1 12.5M145.6 505.8l-0.7 13.6M145.6 505.8l10.0 4.1M145.6 505.8l8.8 -4.8M145.6 505.8l4.7 -7.6M145.6 505.8l-9.9 -7.6M145.6 505.8l12.7 4.2M145.6 505.8l10.2 -6.9M145.6 505.8l-12.3 1.9M145.6 505.8l-9.6 4.8M145.6 505.8l10.7 1.7M145.6 505.8l-8.7 -7.9M145.6 505.8l10.2 3.3M145.6 505.8l-11.9 -7.2M145.6 505.8l1.1 -12.7M145.6 505.8l2.9 -13.6M145.6 505.8l7.5 -11.7M145.6 505.8l8.1 8.5M145.6 505.8l10.4 -5.7M145.6 505.8l-6.1 6.8M145.6 505.8l11.3 -5.6M145.6 505.8l-11.4 6.9M145.6 505.8l-10.1 5.1M145.6 505.8l-3.0 -8.4M145.6 505.8l9.8 5.8M145.6 505.8l-6.6 11.0M145.6 505.8l7.2 -5.5M145.6 505.8l-5.5 -12.1M145.6 505.8l-2.1 11.1M145.6 505.8l-10.8 -8.7M145.6 505.8l-7.9 -8.0M145.6 505.8l-2.9 -8.6M145.6 505.8l4.6 9.2M145.6 505.8l-5.6 8.6M145.6 505.8l1.4 -12.4M145.6 505.8l7.1 -6.9M145.6 505.8l8.8 10.2M145.6 505.8l10.0 -3.0M145.6 505.8l8.3 8.2M145.6 505.8l-9.8 -3.9M145.6 505.8l11.6 -3.2M145.6 505.8l-3.7 -12.0M145.6 505.8l-8.1 4.9M145.6 505.8l8.3 4.0M145.6 505.8l-13.2 3.8M145.6 505.8l11.7 0.4M145.6 505.8l-10.4 -4.7M145.6 505.8l-8.8 -3.4M145.6 505.8l-8.9 -0.5M145.6 505.8l-3.9 -9.6M145.6 505.8l-10.9 -1.9M145.6 505.8l-2.5 -11.6M145.6 505.8l3.1 9.2M145.6 505.8l-10.0 -6.2M145.6 505.8l-9.6 -8.7M145.6 505.8l5.8 -9.7M145.6 505.8l1.8 10.3M145.6 505.8l8.6 -3.4M145.6 505.8l8.5 -7.6M145.6 505.8l-10.8 4.0M145.6 505.8l-10.0 6.7M145.6 505.8l-6.7 7.6M145.6 505.8l3.9 9.9M145.6 505.8l2.2 -11.1M145.6 505.8l9.9 7.4M145.6 505.8l2.7 -9.2M145.6 505.8l-12.3 1.2M145.6 505.8l13.0 1.2M145.6 505.8l0.4 10.8M145.6 505.8l8.5 -4.4M145.6 505.8l-6.9 11.9M145.6 505.8l4.3 10.7M145.6 505.8l-3.1 -12.6M145.6 505.8l-0.3 9.3M145.6 505.8l-9.4 -0.2M145.6 505.8l-1.0 11.5M145.6 505.8l7.2 10.7M145.6 505.8l8.2 -5.4M145.6 505.8l0.6 -13.0M145.6 505.8l-4.6 9.1M145.6 505.8l-6.6 -6.0M145.6 505.8l2.9 8.8M145.6 505.8l9.6 -3.9M145.6 505.8l-2.5 -10.3M145.6 505.8l7.9 9.1M145.6 505.8l-9.0 0.2M145.6 505.8l-8.0 10.0M145.6 505.8l-11.6 2.6M145.6 505.8l7.2 10.9M145.6 505.8l-2.0 -10.3M145.6 505.8l-6.8 11.3M145.6 505.8l1.1 13.9M145.6 505.8l6.7 7.8M145.6 505.8l-8.1 -8.6M145.6 505.8l3.4 -8.8M145.6 505.8l-4.1 -12.5M145.6 505.8l-2.1 9.6M145.6 505.8l4.4 8.8M145.6 505.8l-0.8 -11.4M145.6 505.8l0.2 -8.9M145.6 505.8l-8.1 -4.7M145.6 505.8l-9.3 -0.2M145.6 505.8l5.9 -11.9M145.6 505.8l4.5 -10.3M145.6 505.8l-7.3 -7.7M145.6 505.8l-5.2 11.7M145.6 505.8l0.1 12.9M145.6 505.8l4.0 10.4M145.6 505.8l-1.5 9.7M145.6 505.8l-8.3 -4.2M145.6 505.8l9.5 9.0M145.6 505.8l10.8 7.0M145.6 505.8l8.1 -5.7M145.6 505.8l12.0 -6.0M145.6 505.8l-1.4 -9.1M145.6 505.8l-5.6 12.7M145.6 505.8l-1.3 -12.1M145.6 505.8l0.5 -9.7M145.6 505.8l5.1 -10.2M145.6 505.8l-11.3 8.0M145.6 505.8l10.0 -0.9M145.6 505.8l-11.4 0.5M145.6 505.8l-11.1 -3.5M145.6 505.8l-12.9 1.4M145.6 505.8l-7.3 -6.7M145.6 505.8l-13.9 -1.0M145.6 505.8l11.6 0.5M145.6 505.8l-4.3 8.1M145.6 505.8l-13.3 -2.7M145.6 505.8l8.5 -7.3M145.6 505.8l3.2 12.8M145.6 505.8l-0.2 12.2M145.6 505.8l2.5 13.1M145.6 505.8l-2.0 10.4M145.6 505.8l-7.2 -11.1M145.6 505.8l-7.4 8.8M145.6 505.8l11.4 -4.1M145.6 505.8l-13.0 -2.3M145.6 505.8l-12.8 3.1M145.6 505.8l-9.6 9.4M145.6 505.8l-8.2 11.1M145.6 505.8l5.4 -8.9M145.6 505.8l5.4 11.8M145.6 505.8l8.8 7.9M145.6 505.8l4.5 10.6M145.6 505.8l-2.8 -8.7M145.6 505.8l-6.0 8.3M145.6 505.8l5.1 -11.4M145.6 505.8l-1.3 12.1M145.6 505.8l8.3 4.0M145.6 505.8l-4.4 -10.5M145.6 505.8l-6.2 8.1M145.6 505.8l-11.9 -6.6M145.6 505.8l-0.4 9.4M145.6 505.8l-6.6 -6.5M145.6 505.8l1.8 9.0M145.6 505.8l11.1 6.0M145.6 505.8l4.9 12.6M145.6 505.8l-3.1 10.2M145.6 505.8l-2.3 -12.4M145.6 505.8l8.0 8.3M145.6 505.8l7.9 10.0M145.6 505.8l6.7 12.0M145.6 505.8l-2.0 -10.3M145.6 505.8l3.2 -8.7M145.6 505.8l-9.0 10.5M145.6 505.8l12.1 3.1M145.6 505.8l-4.0 10.2M145.6 505.8l3.8 -11.7M145.6 505.8l1.6 -12.6" stroke="#8a9cc2" stroke-width="0.45" stroke-opacity="0.7"/>
<path d="M148.8 505.1l3.1 -0.7M143.9 503.6l-1.2 -1.6M150.4 502.9l2.2 -1.3M145.6 510.8l0.0 2.2M147.1 508.1l1.5 2.3M148.1 506.3l3.4 0.7M145.1 508.0l-0.5 2.3M147.9 502.8l2.1 -2.7M149.8 505.3l2.3 -0.3M141.7 507.4l-3.5 1.5M144.6 507.5l-1.4 2.4M143.9 504.5l-2.1 -1.6M146.3 509.3l0.8 4.1M148.4 506.9l1.8 0.7M148.0 505.2l2.6 -0.6M148.0 501.7l1.8 -2.9M146.2 503.8l1.0 -3.4M140.5 508.0l-2.0 0.8M145.5 502.1l-0.1 -3.5M148.1 509.4l1.6 2.2M146.8 500.3l0.6 -2.9M143.2 504.7l-3.5 -1.6M143.4 504.6l-2.6 -1.3M148.3 507.2l1.7 0.9M148.6 505.6l3.1 -0.2M147.1 507.2l1.6 1.5M148.8 505.5l3.7 -0.3M144.4 510.5l-0.7 2.6M149.7 505.0l2.6 -0.5M145.4 508.1l-0.3 2.5M143.4 500.8l-1.4 -3.2M148.1 504.5l3.1 -1.6M143.2 504.0l-2.0 -1.5M145.0 507.7l-1.0 3.5M147.9 504.6l3.8 -1.9M142.3 502.8l-1.6 -1.5M143.2 505.8l-3.6 -0.0M141.8 504.9l-2.5 -0.6M141.0 505.6l-4.1 -0.1M149.7 504.0l3.3 -1.5M145.3 509.2l-0.3 3.3M147.3 506.8l3.5 2.0M143.6 508.3l-2.4 3.1M144.8 503.1l-1.0 -3.2M142.5 503.9l-3.7 -2.2M144.5 510.0l-1.1 4.2M148.4 508.5l2.1 2.1M140.2 507.6l-3.4 1.2M147.8 510.8l1.7 3.8M149.9 508.2l2.7 1.5M150.6 506.9l4.3 0.9M148.7 503.5l1.6 -1.2M141.7 505.9l-3.4 0.1M142.9 500.9l-1.6 -2.9M145.2 501.7l-0.4 -4.2M147.6 510.5l0.9 2.1M148.4 504.4l2.5 -1.2M141.3 505.4l-3.3 -0.3" stroke="#4a5a86" stroke-width="0.45" stroke-opacity="0.5"/>
<circle cx="145.6" cy="505.8" r="2.4" fill="#f2c919" stroke="#4a4420" stroke-width="0.45"/>
<circle cx="165.2" cy="552.8" r="12.4" fill="url(#gM)"/>
<path d="M165.2 552.8l10.8 -0.4M165.2 552.8l-4.8 10.4M165.2 552.8l5.2 -8.5M165.2 552.8l-8.6 8.0M165.2 552.8l9.0 5.9M165.2 552.8l-6.9 -10.3M165.2 552.8l-8.4 8.4M165.2 552.8l-8.4 -10.9M165.2 552.8l-2.2 9.8M165.2 552.8l5.9 -8.2M165.2 552.8l-9.4 4.0M165.2 552.8l12.8 -5.8M165.2 552.8l-3.2 12.5M165.2 552.8l-8.5 5.3M165.2 552.8l8.1 10.5M165.2 552.8l3.4 10.4M165.2 552.8l-11.9 2.5M165.2 552.8l-13.4 4.5M165.2 552.8l-2.4 11.2M165.2 552.8l6.3 8.3M165.2 552.8l-7.9 -7.8M165.2 552.8l-6.6 7.2M165.2 552.8l3.7 12.2M165.2 552.8l12.5 -3.3M165.2 552.8l-12.1 7.5M165.2 552.8l-6.8 12.5M165.2 552.8l11.8 3.4M165.2 552.8l10.9 -3.7M165.2 552.8l-11.5 0.4M165.2 552.8l9.7 7.3M165.2 552.8l-11.5 7.6M165.2 552.8l3.8 9.0M165.2 552.8l8.7 -5.3M165.2 552.8l10.8 -6.2M165.2 552.8l-10.2 -1.9M165.2 552.8l-12.4 3.1M165.2 552.8l13.5 1.0M165.2 552.8l-10.9 -8.8M165.2 552.8l-14.0 2.9M165.2 552.8l2.0 -11.1M165.2 552.8l6.9 -8.7M165.2 552.8l-8.9 5.7M165.2 552.8l-9.1 3.0M165.2 552.8l-9.9 -3.3M165.2 552.8l11.9 5.7M165.2 552.8l-11.3 -4.8M165.2 552.8l5.3 13.1M165.2 552.8l9.9 1.3M165.2 552.8l-8.8 6.3M165.2 552.8l-11.7 8.4M165.2 552.8l10.0 -3.6M165.2 552.8l2.8 10.9M165.2 552.8l-3.2 9.4M165.2 552.8l-3.7 -9.3M165.2 552.8l-8.5 5.4M165.2 552.8l5.6 -9.8M165.2 552.8l9.6 9.3M165.2 552.8l2.2 10.7M165.2 552.8l-7.9 7.6M165.2 552.8l-10.2 1.3M165.2 552.8l-2.2 12.4M165.2 552.8l-9.4 3.5M165.2 552.8l-10.1 -8.3M165.2 552.8l-8.0 -8.5M165.2 552.8l-11.0 -2.3M165.2 552.8l9.4 -7.3M165.2 552.8l-2.9 -12.9M165.2 552.8l-9.5 3.9M165.2 552.8l-10.3 8.5M165.2 552.8l-6.9 7.6M165.2 552.8l-12.5 4.8M165.2 552.8l12.9 -4.3M165.2 552.8l4.7 9.7M165.2 552.8l-5.6 -9.4M165.2 552.8l-6.9 12.3M165.2 552.8l14.0 -1.9M165.2 552.8l0.9 -12.3M165.2 552.8l2.1 11.2M165.2 552.8l-2.1 12.3M165.2 552.8l4.3 13.6M165.2 552.8l-8.8 8.4M165.2 552.8l12.5 -4.1M165.2 552.8l-2.9 -9.2M165.2 552.8l10.6 -5.5M165.2 552.8l11.7 1.9M165.2 552.8l11.5 -1.1M165.2 552.8l-10.6 -5.1M165.2 552.8l13.4 -2.3M165.2 552.8l-10.6 -1.4M165.2 552.8l3.6 10.3M165.2 552.8l9.4 -6.0M165.2 552.8l2.6 -14.0M165.2 552.8l-6.5 -10.2M165.2 552.8l5.2 -13.5M165.2 552.8l-7.1 -11.2M165.2 552.8l4.5 -8.5M165.2 552.8l-8.5 10.6M165.2 552.8l-11.9 2.4M165.2 552.8l-1.6 13.7M165.2 552.8l0.7 -9.8M165.2 552.8l-2.4 11.4M165.2 552.8l-12.8 4.7M165.2 552.8l3.4 -13.4M165.2 552.8l6.4 8.3M165.2 552.8l-5.7 12.4M165.2 552.8l12.0 8.0M165.2 552.8l8.7 6.0M165.2 552.8l-7.9 12.3M165.2 552.8l-2.3 10.3M165.2 552.8l6.6 11.3M165.2 552.8l10.1 1.5M165.2 552.8l12.0 -4.8M165.2 552.8l-11.9 6.1M165.2 552.8l7.7 -6.0M165.2 552.8l4.5 -8.7M165.2 552.8l10.6 -6.7M165.2 552.8l14.0 -4.7M165.2 552.8l-7.1 7.1M165.2 552.8l2.4 12.8M165.2 552.8l4.0 -14.3M165.2 552.8l5.6 8.0M165.2 552.8l-12.3 1.7M165.2 552.8l4.0 -11.0M165.2 552.8l8.8 9.6M165.2 552.8l13.7 -2.0M165.2 552.8l-3.8 -9.8M165.2 552.8l-10.1 0.7M165.2 552.8l-13.4 -4.2M165.2 552.8l4.9 -10.4M165.2 552.8l-3.9 14.1M165.2 552.8l-3.5 -11.8M165.2 552.8l-4.8 -8.4M165.2 552.8l0.1 -12.5M165.2 552.8l1.5 -10.3M165.2 552.8l-10.5 0.3M165.2 552.8l2.7 -10.1M165.2 552.8l5.9 8.8M165.2 552.8l-10.5 2.5M165.2 552.8l-9.8 10.4M165.2 552.8l-4.9 8.2M165.2 552.8l9.6 10.7M165.2 552.8l10.2 0.7M165.2 552.8l11.6 5.0M165.2 552.8l-1.7 -13.4M165.2 552.8l-1.6 11.2M165.2 552.8l13.2 -2.3M165.2 552.8l-7.8 -5.7M165.2 552.8l-5.0 8.2M165.2 552.8l9.3 6.6M165.2 552.8l8.0 8.9M165.2 552.8l-4.5 -9.0M165.2 552.8l-8.8 -3.8M165.2 552.8l1.6 9.8M165.2 552.8l-6.7 -10.4M165.2 552.8l9.6 -7.9M165.2 552.8l-6.5 -13.0M165.2 552.8l9.0 -10.8M165.2 552.8l-9.2 -8.7M165.2 552.8l7.8 -10.7M165.2 552.8l3.0 12.1M165.2 552.8l12.9 -4.0M165.2 552.8l11.0 6.7M165.2 552.8l8.5 -7.7M165.2 552.8l-9.8 3.4M165.2 552.8l12.9 -3.2M165.2 552.8l3.4 11.1M165.2 552.8l-10.5 -7.1M165.2 552.8l2.2 12.0M165.2 552.8l-10.6 -9.2M165.2 552.8l-13.5 4.5M165.2 552.8l9.4 10.2M165.2 552.8l-12.3 3.8M165.2 552.8l-13.4 1.4M165.2 552.8l7.2 10.0M165.2 552.8l-8.4 -5.6M165.2 552.8l-13.5 0.1M165.2 552.8l13.9 3.1M165.2 552.8l-0.8 -9.7M165.2 552.8l9.9 -2.1M165.2 552.8l9.4 10.7M165.2 552.8l10.8 -5.3M165.2 552.8l-4.7 10.0M165.2 552.8l-1.9 13.7M165.2 552.8l-7.5 8.5" stroke="#8a9cc2" stroke-width="0.45" stroke-opacity="0.7"/>
<path d="M165.2 552.8l-3.6 12.4M165.2 552.8l3.4 11.9M165.2 552.8l13.5 7.1M165.2 552.8l10.7 -1.7M165.2 552.8l-3.2 7.5M165.2 552.8l2.4 11.3M165.2 552.8l-0.6 15.1M165.2 552.8l8.8 -3.1M165.2 552.8l-3.1 12.2M165.2 552.8l7.8 -4.4M165.2 552.8l9.0 -4.5M165.2 552.8l1.4 9.0M165.2 552.8l0.9 11.3M165.2 552.8l4.6 12.6M165.2 552.8l-0.5 14.6M165.2 552.8l-4.3 12.4M165.2 552.8l-5.7 9.9M165.2 552.8l5.4 6.9M165.2 552.8l-0.6 9.5M165.2 552.8l10.6 5.6M165.2 552.8l12.4 -5.4M165.2 552.8l13.7 4.8M165.2 552.8l-2.4 8.5M165.2 552.8l10.9 -6.3M165.2 552.8l-4.3 13.5M165.2 552.8l13.0 5.3M165.2 552.8l13.0 -4.2M165.2 552.8l9.9 -2.7M165.2 552.8l11.8 4.2M165.2 552.8l-1.4 8.9M165.2 552.8l8.4 -1.2M165.2 552.8l11.2 1.3M165.2 552.8l-6.1 10.3M165.2 552.8l11.2 1.1M165.2 552.8l3.3 13.4M165.2 552.8l6.5 6.8M165.2 552.8l9.6 10.3M165.2 552.8l-2.7 8.5M165.2 552.8l7.7 3.5M165.2 552.8l-4.0 7.2M165.2 552.8l-1.6 12.7M165.2 552.8l-4.5 7.4M165.2 552.8l4.6 8.6M165.2 552.8l3.9 9.8M165.2 552.8l7.1 -4.4M165.2 552.8l10.7 -5.1M165.2 552.8l9.2 -2.6M165.2 552.8l4.0 9.0M165.2 552.8l13.4 -5.1M165.2 552.8l9.4 6.9M165.2 552.8l11.7 6.3M165.2 552.8l11.1 7.3M165.2 552.8l-0.7 8.6M165.2 552.8l8.8 11.2M165.2 552.8l-5.2 8.7M165.2 552.8l9.5 -5.2M165.2 552.8l7.2 6.9M165.2 552.8l12.7 -4.5M165.2 552.8l10.3 -5.5M165.2 552.8l14.7 -4.7M165.2 552.8l5.8 11.2M165.2 552.8l8.2 4.4M165.2 552.8l0.3 8.8M165.2 552.8l14.3 1.9M165.2 552.8l5.8 9.1M165.2 552.8l9.7 -0.3M165.2 552.8l-2.7 10.2M165.2 552.8l12.8 7.7M165.2 552.8l-1.5 10.1M165.2 552.8l8.9 0.0M165.2 552.8l8.7 -1.8M165.2 552.8l-3.1 12.2M165.2 552.8l8.1 9.0M165.2 552.8l7.9 3.0M165.2 552.8l8.7 1.3M165.2 552.8l9.8 9.1M165.2 552.8l-4.0 12.6M165.2 552.8l6.1 10.5M165.2 552.8l6.7 13.6M165.2 552.8l-2.4 8.6M165.2 552.8l11.7 7.2M165.2 552.8l14.7 5.0M165.2 552.8l-1.5 8.1M165.2 552.8l-3.3 11.2M165.2 552.8l10.8 -7.2M165.2 552.8l14.1 3.0M165.2 552.8l12.4 7.2M165.2 552.8l6.3 10.2M165.2 552.8l-1.3 14.8M165.2 552.8l4.1 7.7M165.2 552.8l-4.3 9.1M165.2 552.8l7.3 9.5" stroke="#53a6d4" stroke-width="0.5" stroke-opacity="0.75"/>
<path d="M171.0 554.1l2.2 0.5M169.0 549.4l2.8 -2.6M167.6 549.0l1.2 -1.9M161.5 554.9l-3.2 1.8M166.3 547.1l0.7 -4.0M165.7 546.8l0.2 -2.4M168.4 552.9l2.6 0.0M163.1 553.1l-3.4 0.5M165.2 555.9l0.0 3.0M162.9 549.2l-2.0 -3.2M165.7 555.9l0.6 3.5M163.9 558.1l-0.5 2.0M161.8 552.2l-2.0 -0.3M162.2 554.9l-3.7 2.5M167.0 555.8l1.3 2.3M160.9 550.9l-3.5 -1.5M167.6 550.0l2.2 -2.5M169.2 549.9l2.4 -1.8M164.3 557.9l-0.4 2.6M163.0 556.4l-1.9 3.1M167.9 551.5l2.0 -0.9M162.3 549.5l-1.4 -1.6M161.3 553.0l-3.5 0.2M164.3 556.8l-0.9 4.3M161.6 550.8l-2.3 -1.3M163.3 555.0l-1.8 2.1M166.6 548.3l1.2 -4.0M163.0 550.6l-2.7 -2.7M164.1 556.4l-0.9 3.0M164.8 550.6l-0.6 -3.2M163.3 547.1l-1.2 -3.5M165.2 556.8l0.0 2.7M163.6 557.3l-1.0 2.8M169.2 548.9l1.8 -1.7M164.0 551.0l-1.2 -1.7M168.5 549.5l2.0 -2.0M170.0 554.7l3.8 1.5M166.4 550.6l1.2 -2.2M168.9 551.6l3.7 -1.1M164.3 547.0l-0.4 -2.6M168.3 551.9l4.0 -1.2M169.9 554.4l2.5 0.9M166.4 548.9l1.2 -4.0M161.8 554.5l-2.3 1.2M167.9 553.9l4.2 1.7M170.0 553.2l2.8 0.2M163.0 551.1l-2.6 -2.1M159.7 555.3l-3.9 1.7M168.1 552.4l2.2 -0.3M160.6 556.0l-3.5 2.4M161.5 554.5l-2.6 1.2M165.6 550.3l0.4 -2.6M160.4 549.4l-1.7 -1.2M170.2 555.7l2.9 1.7M169.0 554.5l2.3 1.0M163.8 549.6l-1.8 -4.1M164.7 557.2l-0.3 3.1M161.5 552.4l-3.9 -0.5M164.1 554.7l-1.5 2.7M168.4 553.3l4.2 0.6M164.9 549.6l-0.3 -3.1" stroke="#4a5a86" stroke-width="0.45" stroke-opacity="0.5"/>
<circle cx="165.2" cy="552.8" r="2.6" fill="#f2c919" stroke="#4a4420" stroke-width="0.45"/>
<circle cx="118.4" cy="533.7" r="7.4" fill="url(#gM)"/>
<path d="M118.4 533.7l-5.1 3.5M118.4 533.7l-5.5 -6.6M118.4 533.7l-5.1 7.0M118.4 533.7l4.0 -5.6M118.4 533.7l5.7 -1.6M118.4 533.7l4.0 -4.6M118.4 533.7l-0.3 7.0M118.4 533.7l6.4 1.4M118.4 533.7l6.1 1.3M118.4 533.7l2.2 -6.5M118.4 533.7l-1.0 7.6M118.4 533.7l1.7 5.7M118.4 533.7l6.8 4.9M118.4 533.7l7.3 4.3M118.4 533.7l7.2 -4.4M118.4 533.7l5.9 1.0M118.4 533.7l-7.8 1.6M118.4 533.7l4.8 3.1M118.4 533.7l5.9 0.7M118.4 533.7l8.0 -1.6M118.4 533.7l0.5 -8.0M118.4 533.7l-1.6 5.9M118.4 533.7l3.8 5.3M118.4 533.7l3.2 4.8M118.4 533.7l-2.2 7.7M118.4 533.7l-6.7 -1.2M118.4 533.7l-6.3 4.9M118.4 533.7l-5.7 -0.6M118.4 533.7l-5.4 6.5M118.4 533.7l-3.4 6.6M118.4 533.7l5.4 1.5M118.4 533.7l-1.2 -6.2M118.4 533.7l4.0 5.3M118.4 533.7l7.4 -4.7M118.4 533.7l-1.4 -6.5M118.4 533.7l-2.4 -7.1M118.4 533.7l-5.6 4.7M118.4 533.7l-5.5 -2.8M118.4 533.7l6.5 1.9M118.4 533.7l5.6 -1.5M118.4 533.7l1.9 -5.6M118.4 533.7l7.6 -0.6M118.4 533.7l-5.5 -3.0M118.4 533.7l2.8 -5.5M118.4 533.7l7.8 2.1M118.4 533.7l6.1 1.6M118.4 533.7l-6.5 -2.8M118.4 533.7l5.9 1.9M118.4 533.7l-2.6 -7.2M118.4 533.7l-5.6 3.9M118.4 533.7l-6.7 5.6M118.4 533.7l-8.3 -2.6M118.4 533.7l7.6 -1.2M118.4 533.7l-1.4 -8.1M118.4 533.7l-4.4 4.2M118.4 533.7l-6.3 1.5M118.4 533.7l-4.8 -4.3M118.4 533.7l-2.3 7.4M118.4 533.7l5.7 5.9M118.4 533.7l-5.5 -5.6M118.4 533.7l-6.7 -1.6M118.4 533.7l4.0 7.0M118.4 533.7l-6.8 4.3M118.4 533.7l-4.5 -4.2M118.4 533.7l4.0 -7.2M118.4 533.7l3.6 7.8M118.4 533.7l6.4 -4.3M118.4 533.7l3.3 5.2M118.4 533.7l-4.3 7.0M118.4 533.7l-0.4 7.1" stroke="#8a9cc2" stroke-width="0.45" stroke-opacity="0.7"/>
<path d="M118.1 532.3l-0.4 -1.7M118.3 535.3l-0.2 2.2M116.0 531.2l-1.9 -2.0M118.0 535.0l-0.6 2.1M117.7 534.8l-1.3 1.9M116.2 536.0l-1.0 1.0M118.0 532.5l-0.7 -1.9M115.6 532.2l-1.6 -0.8M120.0 532.5l2.0 -1.6M120.0 533.6l2.6 -0.1M119.0 531.7l0.5 -1.5M119.6 532.2l0.9 -1.1M118.7 532.4l0.3 -1.5M116.7 530.8l-1.4 -2.3M117.4 532.7l-2.0 -1.8M115.8 533.1l-1.6 -0.4M118.6 535.3l0.4 2.5M116.4 533.8l-2.8 0.1M118.5 531.7l0.1 -2.6M118.3 531.8l-0.1 -2.0M119.4 536.7l0.5 1.5M118.2 536.1l-0.1 1.6M121.3 534.5l2.3 0.7" stroke="#4a5a86" stroke-width="0.45" stroke-opacity="0.5"/>
<circle cx="118.4" cy="533.7" r="1.5" fill="#f2c919" stroke="#4a4420" stroke-width="0.45"/>
<circle cx="115.5" cy="500.5" r="5.1" fill="url(#gM)"/>
<path d="M115.5 500.5l-3.0 3.0M115.5 500.5l3.8 -2.1M115.5 500.5l-0.2 -5.7M115.5 500.5l-3.7 4.5M115.5 500.5l-2.6 3.4M115.5 500.5l-3.2 -2.5M115.5 500.5l5.0 1.0M115.5 500.5l-4.5 -3.2M115.5 500.5l-2.3 -3.4M115.5 500.5l-5.6 0.2M115.5 500.5l0.5 5.2M115.5 500.5l-4.3 -3.7M115.5 500.5l4.4 2.3M115.5 500.5l-2.3 -4.8M115.5 500.5l-1.5 -4.8M115.5 500.5l5.5 1.3M115.5 500.5l-0.1 -4.4M115.5 500.5l2.7 5.1M115.5 500.5l-3.4 3.7M115.5 500.5l-1.0 4.3M115.5 500.5l3.5 3.7M115.5 500.5l1.4 -4.2M115.5 500.5l5.5 1.3M115.5 500.5l3.9 -3.7M115.5 500.5l2.1 4.9M115.5 500.5l-3.6 2.7M115.5 500.5l1.3 3.9M115.5 500.5l4.4 1.0M115.5 500.5l3.7 -3.1M115.5 500.5l-1.3 -4.0M115.5 500.5l-1.5 4.4M115.5 500.5l0.9 4.9M115.5 500.5l-4.3 4.3M115.5 500.5l-4.0 -0.3M115.5 500.5l0.3 -4.9M115.5 500.5l-1.3 4.7M115.5 500.5l-2.7 5.1M115.5 500.5l0.6 -5.6M115.5 500.5l4.0 -2.5M115.5 500.5l-4.3 1.3M115.5 500.5l1.3 -5.1M115.5 500.5l-1.0 -5.5M115.5 500.5l-0.2 -5.2M115.5 500.5l-2.5 4.3M115.5 500.5l-4.9 -2.1M115.5 500.5l4.9 2.8M115.5 500.5l-4.5 3.2M115.5 500.5l1.8 -4.5M115.5 500.5l-3.8 -2.9M115.5 500.5l-3.9 0.1M115.5 500.5l0.0 -5.2M115.5 500.5l2.9 5.0" stroke="#8a9cc2" stroke-width="0.45" stroke-opacity="0.7"/>
<path d="M116.2 499.3l0.8 -1.5M116.7 501.3l1.3 0.9M115.8 502.4l0.2 1.1M114.4 500.8l-1.2 0.3M117.2 500.0l1.6 -0.4M115.9 499.8l0.8 -1.3M117.1 502.1l0.9 0.9M116.4 499.7l0.7 -0.6M115.1 499.4l-0.7 -1.7M115.3 499.5l-0.3 -1.6M113.5 499.6l-0.8 -0.4M116.8 498.4l1.0 -1.5M115.7 501.7l0.3 1.8M113.6 500.5l-1.3 0.0M113.9 500.9l-1.7 0.5M116.4 499.4l0.6 -0.7M114.3 500.1l-1.5 -0.5" stroke="#4a5a86" stroke-width="0.45" stroke-opacity="0.5"/>
<circle cx="115.5" cy="500.5" r="1.4" fill="#f2c919" stroke="#4a4420" stroke-width="0.45"/>
<circle cx="134.8" cy="526.2" r="4.6" fill="url(#gM)"/>
<path d="M134.8 526.2l0.4 3.5M134.8 526.2l3.3 -1.4M134.8 526.2l-4.9 1.5M134.8 526.2l0.3 -4.5M134.8 526.2l5.4 -1.1M134.8 526.2l0.8 4.8M134.8 526.2l5.3 -0.0M134.8 526.2l3.5 1.6M134.8 526.2l-3.9 1.1M134.8 526.2l-3.2 3.4M134.8 526.2l4.7 -2.3M134.8 526.2l1.5 -3.6M134.8 526.2l4.8 -1.4M134.8 526.2l-1.5 3.4M134.8 526.2l4.5 -1.5M134.8 526.2l-0.4 -4.6M134.8 526.2l-0.7 5.1M134.8 526.2l3.1 -3.9M134.8 526.2l2.2 -4.3M134.8 526.2l5.2 -0.0M134.8 526.2l-0.9 4.4M134.8 526.2l-3.2 -1.8M134.8 526.2l2.1 4.0M134.8 526.2l2.5 4.1M134.8 526.2l-4.4 -3.0M134.8 526.2l-4.6 -1.6M134.8 526.2l0.6 -4.4M134.8 526.2l1.8 -4.9M134.8 526.2l-1.2 -3.8M134.8 526.2l-3.1 2.2M134.8 526.2l0.7 5.3M134.8 526.2l3.0 -2.9M134.8 526.2l0.6 3.5M134.8 526.2l0.5 -4.4M134.8 526.2l-2.3 4.4M134.8 526.2l-4.0 -2.9M134.8 526.2l4.5 -1.2M134.8 526.2l-4.1 2.3M134.8 526.2l3.5 -3.5M134.8 526.2l-3.2 -3.3M134.8 526.2l3.4 -4.1M134.8 526.2l-4.6 0.5M134.8 526.2l-3.9 1.3M134.8 526.2l1.8 -4.2M134.8 526.2l4.2 -2.0M134.8 526.2l4.5 2.3M134.8 526.2l5.0 -1.4M134.8 526.2l4.6 0.3M134.8 526.2l2.9 -4.3" stroke="#8a9cc2" stroke-width="0.45" stroke-opacity="0.7"/>
<path d="M136.6 527.2l1.1 0.6M132.8 525.7l-1.4 -0.4M136.1 524.6l0.8 -1.0M134.7 528.0l-0.1 1.6M134.9 527.2l0.1 0.9M136.7 526.7l0.8 0.2M134.9 527.6l0.1 0.8M134.1 525.4l-1.1 -1.2M133.9 525.4l-1.3 -1.2M134.3 528.3l-0.2 1.0M135.9 527.3l1.2 1.2M134.1 526.7l-1.0 0.7M135.7 525.5l1.3 -1.0M134.6 525.3l-0.2 -1.1M135.5 527.7l0.3 0.7M134.0 526.0l-1.7 -0.4" stroke="#4a5a86" stroke-width="0.45" stroke-opacity="0.5"/>
<circle cx="134.8" cy="526.2" r="1.4" fill="#f2c919" stroke="#4a4420" stroke-width="0.45"/>
<circle cx="92.4" cy="524.7" r="6.4" fill="url(#gM)"/>
<path d="M92.4 524.7l4.2 -5.2M92.4 524.7l-0.6 5.4M92.4 524.7l-3.6 -4.4M92.4 524.7l4.4 -3.6M92.4 524.7l-4.2 4.2M92.4 524.7l-0.1 -6.3M92.4 524.7l6.5 2.1M92.4 524.7l-4.6 3.1M92.4 524.7l6.1 -0.3M92.4 524.7l-3.0 -7.1M92.4 524.7l4.6 -1.9M92.4 524.7l4.2 2.6M92.4 524.7l-4.5 -3.3M92.4 524.7l5.1 -5.0M92.4 524.7l-3.4 -5.2M92.4 524.7l3.0 6.6M92.4 524.7l-3.9 4.0M92.4 524.7l-4.5 -5.5M92.4 524.7l6.4 -3.3M92.4 524.7l6.1 -4.2M92.4 524.7l-2.2 -4.5M92.4 524.7l4.0 -4.9M92.4 524.7l-4.7 -4.6M92.4 524.7l5.2 -5.6M92.4 524.7l-6.4 -1.6M92.4 524.7l-6.1 -1.1M92.4 524.7l4.8 1.4M92.4 524.7l2.9 -6.0M92.4 524.7l5.3 -1.0M92.4 524.7l0.5 -5.9M92.4 524.7l-4.0 -4.2M92.4 524.7l6.8 2.7M92.4 524.7l-2.2 -6.3M92.4 524.7l-4.0 3.5M92.4 524.7l2.1 6.6M92.4 524.7l0.4 6.6M92.4 524.7l-4.9 -1.1M92.4 524.7l5.8 -3.5M92.4 524.7l7.5 -1.2M92.4 524.7l6.7 -2.8M92.4 524.7l-0.8 -5.3M92.4 524.7l1.9 5.4M92.4 524.7l6.0 3.4M92.4 524.7l1.7 -5.9M92.4 524.7l-2.2 7.3M92.4 524.7l-5.4 4.1M92.4 524.7l-4.8 -2.5M92.4 524.7l4.8 -4.7M92.4 524.7l-4.7 -3.2M92.4 524.7l-6.6 -1.1M92.4 524.7l5.3 2.2M92.4 524.7l6.0 1.6M92.4 524.7l-4.4 -2.7M92.4 524.7l-3.3 -4.8M92.4 524.7l-1.8 6.6M92.4 524.7l5.2 1.1M92.4 524.7l-7.2 0.2M92.4 524.7l-5.7 -0.7M92.4 524.7l-3.7 6.7M92.4 524.7l-3.3 -3.8M92.4 524.7l-4.3 -6.1M92.4 524.7l4.1 4.2M92.4 524.7l4.7 1.8" stroke="#8a9cc2" stroke-width="0.45" stroke-opacity="0.7"/>
<path d="M89.8 524.7l-1.7 -0.0M90.1 523.3l-1.1 -0.7M93.2 521.9l0.4 -1.4M92.3 522.7l-0.0 -1.3M92.9 522.6l0.3 -1.2M90.9 522.5l-0.9 -1.4M90.9 525.3l-1.1 0.4M92.7 523.3l0.4 -1.9M93.6 527.5l0.5 1.2M92.0 525.8l-0.6 1.5M89.8 525.9l-1.0 0.5M93.8 523.6l1.7 -1.4M90.1 526.3l-1.3 0.9M93.5 524.1l1.5 -0.9M94.2 523.5l1.3 -0.9M93.4 523.3l0.8 -1.2M91.4 527.4l-0.5 1.3M93.9 522.2l1.0 -1.6M91.0 523.8l-1.6 -1.0M93.0 523.0l0.5 -1.5M93.6 524.9l2.4 0.4" stroke="#4a5a86" stroke-width="0.45" stroke-opacity="0.5"/>
<circle cx="92.4" cy="524.7" r="1.4" fill="#f2c919" stroke="#4a4420" stroke-width="0.45"/>
<circle cx="128" cy="417.9" r="2.7" fill="#e8b024" stroke="#b08420" stroke-width="0.3"/>
<circle cx="263.3" cy="503.3" r="1.8" fill="#8fc43a"/>
<circle cx="134.6" cy="454.4" r="6.2" fill="#faec1c" stroke="#b8a830" stroke-width="0.7"/>
<g font-size="7.8" fill="#222">
<text x="113" y="430">Ribosome</text>
<text x="157.5" y="433.8">Cytosol</text>
<text x="170" y="474.6">Nucleus</text>
<text x="91.7" y="465">Secretory</text>
<text x="118" y="485.6">Mitochondria</text>
</g>
<g font-size="7.3" fill="#222">
<text x="111" y="393.5">R1</text>
<text x="78.5" y="429.5">S2</text>
<text x="47.6" y="448.3">S1</text>
<text x="59" y="473.6">S3</text>
<text x="160.5" y="405.5">C4</text>
<text x="206" y="384.3">C3</text>
<text x="224" y="411.8">C5</text>
<text x="233.5" y="439.3">C6</text>
<text x="202.8" y="452.4">C2</text>
<text x="172" y="458.4">C1</text>
<text x="243.7" y="489.5">N3</text>
<text x="198.7" y="513.7">N2</text>
<text x="255" y="512.5">N1</text>
<text x="112.5" y="494.8">M3</text>
<text x="99.2" y="529.4">M5</text>
<text x="112.5" y="547.6">M2</text>
<text x="136.6" y="535.8">M4</text>
<text x="161.6" y="539">M1</text>
</g>
<text x="320.3" y="9.4" font-size="11.2">C</text>
<text x="359" y="16.6" font-size="10" font-weight="bold">Classified proteins (<tspan font-style="italic">n</tspan>=3,803)</text>
<circle cx="417.5" cy="69.2" r="30" fill="#3b79b6" stroke="#1c2836" stroke-width="0.9"/>
<path d="M417.5 69.2L447.5 69.2A30 30 0 0 1 428.54 97.09Z" fill="#86cdea" stroke="#1c2836" stroke-width="0.9"/>
<path d="M424.9 39.2L429.7 32.5" stroke="#222" stroke-width="0.7"/>
<path d="M441.8 86.2L445.8 89.6" stroke="#222" stroke-width="0.7"/>
<text x="422" y="30.1" font-size="8" fill="#222"><tspan font-style="italic">n</tspan>=3,071 (81%)</text>
<text x="442.3" y="97.5" font-size="8" fill="#222"><tspan font-style="italic">n</tspan>=732 (19%)</text>
<rect x="358" y="109.5" width="8" height="7.6" fill="#3b79b6"/>
<rect x="358" y="120.6" width="8" height="7.6" fill="#86cdea"/>
<text x="374.6" y="116.0" font-size="8">Consistent in triplicate</text>
<text x="374.6" y="126.8" font-size="8">Consistent in any 2 replicate</text>
<text x="321.0" y="147.7" font-size="11.2">D</text>
<rect x="361.8" y="154.3" width="50.4" height="18" fill="#a6a6a6"/>
<rect x="413.4" y="154.3" width="52.1" height="18" fill="#a6a6a6"/>
<rect x="466.7" y="154.3" width="47.0" height="18" fill="#a6a6a6"/>
<g font-size="8.4" fill="#333" text-anchor="middle">
<text x="387.0" y="167.2" textLength="30.3" lengthAdjust="spacingAndGlyphs">Classified</text>
<text x="439.4" y="167.2" textLength="30.7" lengthAdjust="spacingAndGlyphs">Predicted</text>
<text x="490.2" y="167.2" textLength="5.7" lengthAdjust="spacingAndGlyphs">%</text>
</g>
<rect x="361.8" y="175.4" width="50.4" height="11.3" fill="#dcdcdc"/>
<rect x="413.4" y="175.4" width="52.1" height="11.3" fill="#dcdcdc"/>
<rect x="466.7" y="175.4" width="47.0" height="11.3" fill="#dcdcdc"/>
<text x="356.2" y="183.8" font-size="7.7" font-style="italic" text-anchor="end" fill="#222">Secretory -</text>
<g class="ns" font-size="6.9" fill="#222" text-anchor="middle">
<text x="387.0" y="183.6">275</text>
<text x="439.4" y="183.6">263</text>
<text x="490.2" y="183.6">95.64</text>
</g>
<rect x="361.8" y="187.8" width="50.4" height="11.3" fill="#eeeeee"/>
<rect x="413.4" y="187.8" width="52.1" height="11.3" fill="#eeeeee"/>
<rect x="466.7" y="187.8" width="47.0" height="11.3" fill="#eeeeee"/>
<text x="356.2" y="196.2" font-size="7.7" font-style="italic" text-anchor="end" fill="#222">Mitochondria -</text>
<g class="ns" font-size="6.9" fill="#222" text-anchor="middle">
<text x="387.0" y="196.0">376</text>
<text x="439.4" y="196.0">372</text>
<text x="490.2" y="196.0">98.94</text>
</g>
<rect x="361.8" y="200.3" width="50.4" height="11.3" fill="#dcdcdc"/>
<rect x="413.4" y="200.3" width="52.1" height="11.3" fill="#dcdcdc"/>
<rect x="466.7" y="200.3" width="47.0" height="11.3" fill="#dcdcdc"/>
<text x="356.2" y="208.7" font-size="7.7" font-style="italic" text-anchor="end" fill="#222">Nucleus -</text>
<g class="ns" font-size="6.9" fill="#222" text-anchor="middle">
<text x="387.0" y="208.5">192</text>
<text x="439.4" y="208.5">183</text>
<text x="490.2" y="208.5">95.31</text>
</g>
<rect x="361.8" y="212.7" width="50.4" height="11.3" fill="#eeeeee"/>
<rect x="413.4" y="212.7" width="52.1" height="11.3" fill="#eeeeee"/>
<rect x="466.7" y="212.7" width="47.0" height="11.3" fill="#eeeeee"/>
<text x="356.2" y="221.1" font-size="7.7" font-style="italic" text-anchor="end" fill="#222">Cytosol -</text>
<g class="ns" font-size="6.9" fill="#222" text-anchor="middle">
<text x="387.0" y="220.9">529</text>
<text x="439.4" y="220.9">526</text>
<text x="490.2" y="220.9">99.43</text>
</g>
<rect x="361.8" y="225.2" width="50.4" height="11.3" fill="#dcdcdc"/>
<rect x="413.4" y="225.2" width="52.1" height="11.3" fill="#dcdcdc"/>
<rect x="466.7" y="225.2" width="47.0" height="11.3" fill="#dcdcdc"/>
<text x="356.2" y="233.6" font-size="7.7" font-style="italic" text-anchor="end" fill="#222">Ribosome -</text>
<g class="ns" font-size="6.9" fill="#222" text-anchor="middle">
<text x="387.0" y="233.4">59</text>
<text x="439.4" y="233.4">40</text>
<text x="490.2" y="233.4">67.81</text>
</g>
<rect x="361.8" y="237.6" width="50.4" height="11.3" fill="#eeeeee"/>
<rect x="413.4" y="237.6" width="52.1" height="11.3" fill="#eeeeee"/>
<rect x="466.7" y="237.6" width="47.0" height="11.3" fill="#eeeeee"/>
<text x="356.2" y="246.0" font-size="7.7" font-style="italic" text-anchor="end" fill="#222">Total -</text>
<g class="ns" font-size="6.9" fill="#222" text-anchor="middle">
<text x="387.0" y="245.8">1431</text>
<text x="439.4" y="245.8">1384</text>
<text x="490.2" y="245.8">96.72</text>
</g>
<text x="317.4" y="281.8" font-size="11.2">E</text>
<ellipse cx="406.3" cy="317" rx="30" ry="28.2" fill="#f3f3f3" stroke="#cfcfcf" stroke-width="0.8"/>
<ellipse cx="436" cy="316.8" rx="29.8" ry="28.5" fill="#cfe8f9" stroke="#b9d8ef" stroke-width="0.6"/>
<ellipse cx="421" cy="339.5" rx="29.6" ry="28" fill="#fdf6ea" fill-opacity="0.85" stroke="#ecd7ad" stroke-width="0.8"/>
<defs><clipPath id="cp"><ellipse cx="436" cy="316.8" rx="29.8" ry="28.5" /></clipPath><clipPath id="cp2"><ellipse cx="406.3" cy="317" rx="30" ry="28.2" /><ellipse cx="421" cy="339.5" rx="29.6" ry="28" /></clipPath></defs>
<g clip-path="url(#cp)"><ellipse cx="406.3" cy="317" rx="30" ry="28.2" fill="#f6a3b7" stroke="#222" stroke-width="1.6"/><ellipse cx="421" cy="339.5" rx="29.6" ry="28" fill="#f6a3b7" stroke="#222" stroke-width="1.6"/><ellipse cx="406.3" cy="317" rx="30" ry="28.2" fill="none" stroke="#222" stroke-width="1.6"/></g>
<g clip-path="url(#cp2)"><ellipse cx="436" cy="316.8" rx="29.8" ry="28.5" fill="none" stroke="#222" stroke-width="1.6"/></g>
<g font-size="7.8" fill="#1a1a1a" text-anchor="middle">
<text x="393.2" y="314">1741</text>
<text x="420.1" y="306">269</text>
<text x="449.7" y="314.8">2093</text>
<text x="421.6" y="326">679</text>
<text x="402.3" y="337.5">3975</text>
<text x="438" y="337.3">762</text>
<text x="420" y="357">1731</text>
</g>
<text x="362.9" y="286.4" font-size="8.5" fill="#333">GO (<tspan font-style="italic">n</tspan>=6,664)</text>
<text x="428.6" y="286.5" font-size="8.5" fill="#333">PSL_LCCL (<tspan font-style="italic">n</tspan>=3,803)</text>
<text x="388.1" y="376" font-size="8.5" fill="#333">UniProt (<tspan font-style="italic">n</tspan>=7,147)</text>
<g stroke="#e9587e" stroke-width="1" fill="none" stroke-linecap="round"><path d="M385.4 354.4L364.5 378.5"/><path d="M364.5 378.5L365.2 371.5M364.5 378.5L371 376.5"/></g>
<text x="318.5" y="388.8" font-size="11.2">F</text>
<g stroke="#a8a8a8" stroke-width="0.7">
<line x1="348.6" y1="398" x2="348.6" y2="483.1"/>
<line x1="348.6" y1="483.1" x2="516" y2="483.1"/>
</g>
<g stroke="#333" stroke-width="0.6">
<line x1="346.2" y1="479.2" x2="348.4" y2="479.2"/>
<line x1="346.2" y1="460.2" x2="348.4" y2="460.2"/>
<line x1="346.2" y1="441.3" x2="348.4" y2="441.3"/>
<line x1="346.2" y1="422.3" x2="348.4" y2="422.3"/>
<line x1="346.2" y1="403.4" x2="348.4" y2="403.4"/>
</g>
<g font-size="7.4" fill="#444" text-anchor="end">
<text x="344.8" y="481.9" textLength="3.9" lengthAdjust="spacingAndGlyphs">0</text>
<text x="344.8" y="462.9" textLength="11.6" lengthAdjust="spacingAndGlyphs">100</text>
<text x="344.8" y="444.0" textLength="11.6" lengthAdjust="spacingAndGlyphs">200</text>
<text x="344.8" y="425.0" textLength="11.6" lengthAdjust="spacingAndGlyphs">300</text>
<text x="344.8" y="406.1" textLength="11.6" lengthAdjust="spacingAndGlyphs">400</text>
</g>
<text x="0" y="0" font-size="8.1" fill="#222" text-anchor="middle" transform="translate(327.2 448.5) rotate(-90)">No. of proteins</text>
<rect x="353.5" y="478.12" width="9.2" height="1.08" fill="#3a2d8c"/>
<rect x="353.5" y="466.28" width="9.2" height="11.84" fill="#d2545d"/>
<rect x="353.5" y="458.48" width="9.2" height="7.80" fill="#3d7fbd"/>
<rect x="353.5" y="456.06" width="9.2" height="2.42" fill="#f8d10c"/>
<rect x="353.5" y="452.29" width="9.2" height="3.77" fill="#62c420"/>
<line x1="358.1" y1="483.1" x2="358.1" y2="485.5" stroke="#333" stroke-width="0.6"/>
<rect x="368.7" y="442.69" width="9.2" height="36.51" fill="#d2545d"/>
<rect x="368.7" y="422.84" width="9.2" height="19.86" fill="#3d7fbd"/>
<rect x="368.7" y="417.71" width="9.2" height="5.12" fill="#f8d10c"/>
<rect x="368.7" y="415.15" width="9.2" height="2.56" fill="#62c420"/>
<line x1="373.3" y1="483.1" x2="373.3" y2="485.5" stroke="#333" stroke-width="0.6"/>
<rect x="383.9" y="477.61" width="9.2" height="1.59" fill="#5c4a44"/>
<rect x="383.9" y="403.59" width="9.2" height="74.02" fill="#f8d10c"/>
<rect x="383.9" y="399.61" width="9.2" height="3.98" fill="#62c420"/>
<line x1="388.5" y1="483.1" x2="388.5" y2="485.5" stroke="#333" stroke-width="0.6"/>
<rect x="399.1" y="459.87" width="9.2" height="19.33" fill="#d2545d"/>
<rect x="399.1" y="430.88" width="9.2" height="28.99" fill="#3d7fbd"/>
<rect x="399.1" y="424.06" width="9.2" height="6.82" fill="#f8d10c"/>
<rect x="399.1" y="422.35" width="9.2" height="1.71" fill="#62c420"/>
<line x1="403.7" y1="483.1" x2="403.7" y2="485.5" stroke="#333" stroke-width="0.6"/>
<rect x="414.3" y="478.67" width="9.2" height="0.53" fill="#d2545d"/>
<rect x="414.3" y="477.40" width="9.2" height="1.27" fill="#3d7fbd"/>
<rect x="414.3" y="476.28" width="9.2" height="1.11" fill="#f8d10c"/>
<rect x="414.3" y="473.89" width="9.2" height="2.39" fill="#62c420"/>
<line x1="418.9" y1="483.1" x2="418.9" y2="485.5" stroke="#333" stroke-width="0.6"/>
<rect x="429.5" y="478.54" width="9.2" height="0.66" fill="#d2545d"/>
<rect x="429.5" y="477.21" width="9.2" height="1.33" fill="#3d7fbd"/>
<rect x="429.5" y="471.57" width="9.2" height="5.64" fill="#f8d10c"/>
<rect x="429.5" y="446.04" width="9.2" height="25.54" fill="#62c420"/>
<line x1="434.1" y1="483.1" x2="434.1" y2="485.5" stroke="#333" stroke-width="0.6"/>
<rect x="444.7" y="479.11" width="9.2" height="0.09" fill="#5c4a44"/>
<rect x="444.7" y="478.75" width="9.2" height="0.36" fill="#d2545d"/>
<rect x="444.7" y="476.44" width="9.2" height="2.32" fill="#3d7fbd"/>
<rect x="444.7" y="473.95" width="9.2" height="2.49" fill="#f8d10c"/>
<rect x="444.7" y="470.29" width="9.2" height="3.65" fill="#62c420"/>
<line x1="449.3" y1="483.1" x2="449.3" y2="485.5" stroke="#333" stroke-width="0.6"/>
<rect x="459.9" y="479.12" width="9.2" height="0.08" fill="#5c4a44"/>
<rect x="459.9" y="478.97" width="9.2" height="0.16" fill="#d2545d"/>
<rect x="459.9" y="478.03" width="9.2" height="0.93" fill="#3d7fbd"/>
<rect x="459.9" y="477.88" width="9.2" height="0.16" fill="#f8d10c"/>
<rect x="459.9" y="471.43" width="9.2" height="6.45" fill="#62c420"/>
<line x1="464.5" y1="483.1" x2="464.5" y2="485.5" stroke="#333" stroke-width="0.6"/>
<rect x="475.1" y="478.81" width="9.2" height="0.39" fill="#d2545d"/>
<rect x="475.1" y="478.63" width="9.2" height="0.18" fill="#3d7fbd"/>
<rect x="475.1" y="478.24" width="9.2" height="0.39" fill="#f8d10c"/>
<rect x="475.1" y="476.17" width="9.2" height="2.07" fill="#62c420"/>
<line x1="479.7" y1="483.1" x2="479.7" y2="485.5" stroke="#333" stroke-width="0.6"/>
<rect x="490.3" y="477.51" width="9.2" height="1.69" fill="#d2545d"/>
<rect x="490.3" y="472.45" width="9.2" height="5.07" fill="#3d7fbd"/>
<rect x="490.3" y="470.38" width="9.2" height="2.06" fill="#f8d10c"/>
<rect x="490.3" y="460.44" width="9.2" height="9.94" fill="#62c420"/>
<line x1="494.9" y1="483.1" x2="494.9" y2="485.5" stroke="#333" stroke-width="0.6"/>
<rect x="505.5" y="479.04" width="9.2" height="0.16" fill="#5c4a44"/>
<rect x="505.5" y="469.41" width="9.2" height="9.63" fill="#3a2d8c"/>
<rect x="505.5" y="469.10" width="9.2" height="0.31" fill="#d2545d"/>
<rect x="505.5" y="463.82" width="9.2" height="5.28" fill="#3d7fbd"/>
<rect x="505.5" y="463.66" width="9.2" height="0.16" fill="#62c420"/>
<line x1="510.1" y1="483.1" x2="510.1" y2="485.5" stroke="#333" stroke-width="0.6"/>
<rect x="340.1" y="487.9" width="6.4" height="8.7" fill="#62c420"/>
<text x="336.3" y="494.2" font-size="7.5" font-style="italic" text-anchor="end" fill="#222">Secretory -</text>
<g font-size="7.2" text-anchor="middle" fill="#222">
<text x="357.5" y="495.6">14</text>
<text x="372.8" y="495.6">4</text>
<text x="388.1" y="495.6">5</text>
<text x="403.3" y="495.6">3</text>
<text x="418.6" y="495.6" fill="#e8343a" stroke="#e8343a">45</text>
<text x="433.9" y="495.6" fill="#e8343a" stroke="#e8343a">77</text>
<text x="449.2" y="495.6" fill="#e8343a" stroke="#e8343a">41</text>
<text x="464.5" y="495.6" fill="#e8343a" stroke="#e8343a">83</text>
<text x="479.7" y="495.6" fill="#e8343a" stroke="#e8343a">69</text>
<text x="495.0" y="495.6" fill="#e8343a" stroke="#e8343a">53</text>
<text x="510.3" y="495.6">1</text>
</g>
<rect x="340.1" y="497.7" width="6.4" height="8.7" fill="#f8d10c"/>
<text x="336.3" y="503.7" font-size="7.5" font-style="italic" text-anchor="end" fill="#222">Mitochondria -</text>
<g font-size="7.2" text-anchor="middle" fill="#222">
<text x="357.5" y="505.4">9</text>
<text x="372.8" y="505.4">8</text>
<text x="388.1" y="505.4" fill="#e8343a" stroke="#e8343a">93</text>
<text x="403.3" y="505.4">12</text>
<text x="418.6" y="505.4">21</text>
<text x="433.9" y="505.4">17</text>
<text x="449.2" y="505.4">28</text>
<text x="464.5" y="505.4">2</text>
<text x="479.7" y="505.4">13</text>
<text x="495.0" y="505.4">11</text>
<text x="510.3" y="505.4">0</text>
</g>
<rect x="340.1" y="508" width="6.4" height="8.7" fill="#3d7fbd"/>
<text x="336.3" y="513.3" font-size="7.5" font-style="italic" text-anchor="end" fill="#222">Nucleus -</text>
<g font-size="7.2" text-anchor="middle" fill="#222">
<text x="357.5" y="515.3">29</text>
<text x="372.8" y="515.3">31</text>
<text x="388.1" y="515.3">0</text>
<text x="403.3" y="515.3" fill="#e8343a" stroke="#e8343a">51</text>
<text x="418.6" y="515.3">24</text>
<text x="433.9" y="515.3">4</text>
<text x="449.2" y="515.3">26</text>
<text x="464.5" y="515.3">12</text>
<text x="479.7" y="515.3">6</text>
<text x="495.0" y="515.3">27</text>
<text x="510.3" y="515.3">34</text>
</g>
<rect x="340.1" y="517.9" width="6.4" height="8.7" fill="#d2545d"/>
<text x="336.3" y="523.1" font-size="7.5" font-style="italic" text-anchor="end" fill="#222">Cytosol -</text>
<g font-size="7.2" text-anchor="middle" fill="#222">
<text x="357.5" y="525.0">44</text>
<text x="372.8" y="525.0" fill="#e8343a" stroke="#e8343a">57</text>
<text x="388.1" y="525.0">0</text>
<text x="403.3" y="525.0">34</text>
<text x="418.6" y="525.0">10</text>
<text x="433.9" y="525.0">2</text>
<text x="449.2" y="525.0">4</text>
<text x="464.5" y="525.0">2</text>
<text x="479.7" y="525.0">13</text>
<text x="495.0" y="525.0">9</text>
<text x="510.3" y="525.0">2</text>
</g>
<rect x="340.1" y="527.7" width="6.4" height="8.7" fill="#3a2d8c"/>
<text x="336.3" y="533.3" font-size="7.5" font-style="italic" text-anchor="end" fill="#222">Ribosome -</text>
<g font-size="7.2" text-anchor="middle" fill="#222">
<text x="357.5" y="534.7">4</text>
<text x="372.8" y="534.7">0</text>
<text x="388.1" y="534.7">0</text>
<text x="403.3" y="534.7">0</text>
<text x="418.6" y="534.7">0</text>
<text x="433.9" y="534.7">0</text>
<text x="449.2" y="534.7">0</text>
<text x="464.5" y="534.7">0</text>
<text x="479.7" y="534.7">0</text>
<text x="495.0" y="534.7">0</text>
<text x="510.3" y="534.7" fill="#e8343a" stroke="#e8343a">62</text>
</g>
<line x1="348.9" y1="536.7" x2="516" y2="536.7" stroke="#ccc" stroke-width="0.5"/>
<g stroke="#333" stroke-width="0.6">
<line x1="358.1" y1="536.7" x2="358.1" y2="538.8"/>
<line x1="373.3" y1="536.7" x2="373.3" y2="538.8"/>
<line x1="388.5" y1="536.7" x2="388.5" y2="538.8"/>
<line x1="403.7" y1="536.7" x2="403.7" y2="538.8"/>
<line x1="418.9" y1="536.7" x2="418.9" y2="538.8"/>
<line x1="434.1" y1="536.7" x2="434.1" y2="538.8"/>
<line x1="449.3" y1="536.7" x2="449.3" y2="538.8"/>
<line x1="464.5" y1="536.7" x2="464.5" y2="538.8"/>
<line x1="479.7" y1="536.7" x2="479.7" y2="538.8"/>
<line x1="494.9" y1="536.7" x2="494.9" y2="538.8"/>
<line x1="510.1" y1="536.7" x2="510.1" y2="538.8"/>
</g>
<g font-size="7.05" fill="#333" text-anchor="end">
<text x="360.5" y="544" transform="rotate(-45 360.5 544)">CS</text>
<text x="375.9" y="544" transform="rotate(-45 375.9 544)">Cytosol</text>
<text x="391.3" y="544" transform="rotate(-45 391.3 544)">Mitochondria</text>
<text x="406.7" y="544" transform="rotate(-45 406.7 544)">Nucleus</text>
<text x="422.1" y="544" transform="rotate(-45 422.1 544)">Endosome</text>
<text x="437.5" y="544" transform="rotate(-45 437.5 544)">ER</text>
<text x="452.9" y="544" transform="rotate(-45 452.9 544)">Golgi</text>
<text x="468.3" y="544" transform="rotate(-45 468.3 544)">Lysosome</text>
<text x="483.7" y="544" transform="rotate(-45 483.7 544)">Peroxisome</text>
<text x="499.1" y="544" transform="rotate(-45 499.1 544)">Plasma Membrane</text>
<text x="514.5" y="544" transform="rotate(-45 514.5 544)">Ribosome</text>
</g>
</svg></body></html>
